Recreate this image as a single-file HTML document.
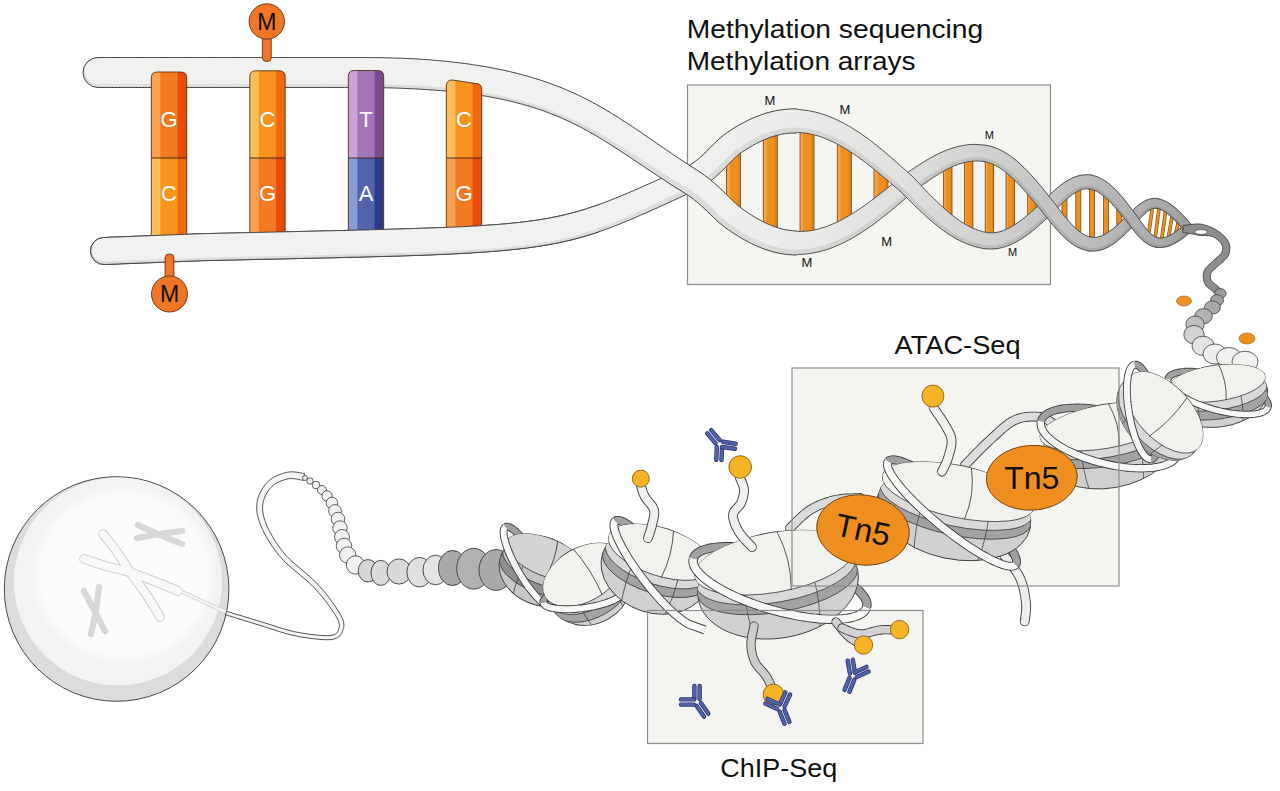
<!DOCTYPE html><html><head><meta charset="utf-8"><style>html,body{margin:0;padding:0;background:#fff;overflow:hidden}svg{display:block}</style></head><body><svg width="1280" height="791" viewBox="0 0 1280 791"><defs><linearGradient id="hg" gradientUnits="userSpaceOnUse" x1="680" y1="0" x2="1200" y2="0"><stop offset="0.000" stop-color="#f1f1ef"/><stop offset="0.231" stop-color="#ebebe9"/><stop offset="0.423" stop-color="#e0e0de"/><stop offset="0.596" stop-color="#d0d0cf"/><stop offset="0.788" stop-color="#bcbcbc"/><stop offset="0.923" stop-color="#aaaaaa"/><stop offset="1.000" stop-color="#9a9a9a"/></linearGradient><linearGradient id="hgd" gradientUnits="userSpaceOnUse" x1="680" y1="0" x2="1200" y2="0"><stop offset="0.000" stop-color="#dddddb"/><stop offset="0.231" stop-color="#d8d8d6"/><stop offset="0.423" stop-color="#cdcdcb"/><stop offset="0.596" stop-color="#bdbdbc"/><stop offset="0.788" stop-color="#aaaaaa"/><stop offset="0.923" stop-color="#999999"/><stop offset="1.000" stop-color="#8c8c8c"/></linearGradient><clipPath id="clipL"><rect x="0" y="0" width="600" height="400"/></clipPath><clipPath id="bc151"><path d="M151.3,245 L151.3,78 Q151.3,72 157.3,72 L180.70000000000002,72 Q186.70000000000002,72 186.70000000000002,78 L186.70000000000002,245 Z"/></clipPath><clipPath id="bc249"><path d="M249.8,245 L249.8,76.8 Q249.8,70.8 255.8,70.8 L279.2,70.8 Q285.2,70.8 285.2,76.8 L285.2,245 Z"/></clipPath><clipPath id="bc348"><path d="M348.3,245 L348.3,76.5 Q348.3,70.5 354.3,70.5 L377.7,70.5 Q383.7,70.5 383.7,76.5 L383.7,245 Z"/></clipPath><clipPath id="bc446"><path d="M446.3,240 L446.3,86 Q446.3,80 452.3,80 L475.7,83.5 Q481.7,83.5 481.7,89.5 L481.7,240 Z"/></clipPath><radialGradient id="cin"><stop offset="0" stop-color="#fcfcfc"/><stop offset="0.88" stop-color="#fbfbfb"/><stop offset="1" stop-color="#fbfbfb" stop-opacity="0"/></radialGradient><clipPath id="nc8"><ellipse cx="0" cy="0" rx="43" ry="34.0"/><ellipse cx="0" cy="-15.0" rx="43" ry="19"/></clipPath><clipPath id="nc9"><ellipse cx="0" cy="0" rx="44" ry="39.0"/><ellipse cx="0" cy="-12.0" rx="44" ry="27"/></clipPath><clipPath id="nc10"><ellipse cx="0" cy="0" rx="55" ry="43.0"/><ellipse cx="0" cy="-19.0" rx="55" ry="24"/></clipPath><clipPath id="nc11"><ellipse cx="0" cy="0" rx="50" ry="31.0"/><ellipse cx="0" cy="-13.0" rx="50" ry="18"/></clipPath><clipPath id="nc12"><ellipse cx="0" cy="0" rx="67" ry="42.0"/><ellipse cx="0" cy="-20.0" rx="67" ry="22"/></clipPath><clipPath id="nc13"><ellipse cx="0" cy="0" rx="50" ry="34.0"/><ellipse cx="0" cy="-7.0" rx="50" ry="27"/></clipPath><clipPath id="nc14"><ellipse cx="0" cy="0" rx="78" ry="47.0"/><ellipse cx="0" cy="-21.0" rx="78" ry="26"/></clipPath><clipPath id="nc15"><ellipse cx="0" cy="0" rx="81" ry="53.0"/><ellipse cx="0" cy="-23.0" rx="81" ry="30"/></clipPath></defs><rect width="1280" height="791" fill="#fff"/><rect x="687.5" y="85" width="363" height="199.5" fill="#f4f4f1" stroke="#8c8c8c" stroke-width="1.2"/><rect x="726.5" y="143.1" width="14" height="75.0" fill="#ef8f20"/><rect x="726.5" y="143.1" width="3.1" height="75.0" fill="#f6a548"/><rect x="737.7" y="143.1" width="2.8" height="75.0" fill="#e2801b"/><rect x="726.5" y="143.1" width="14" height="75.0" fill="none" stroke="#7a4a12" stroke-width="0.8"/><rect x="763.3" y="124.6" width="14" height="113.6" fill="#ef8f20"/><rect x="763.3" y="124.6" width="3.1" height="113.6" fill="#f6a548"/><rect x="774.5" y="124.6" width="2.8" height="113.6" fill="#e2801b"/><rect x="763.3" y="124.6" width="14" height="113.6" fill="none" stroke="#7a4a12" stroke-width="0.8"/><rect x="800.0" y="122.0" width="14" height="120.5" fill="#ef8f20"/><rect x="800.0" y="122.0" width="3.1" height="120.5" fill="#f6a548"/><rect x="811.2" y="122.0" width="2.8" height="120.5" fill="#e2801b"/><rect x="800.0" y="122.0" width="14" height="120.5" fill="none" stroke="#7a4a12" stroke-width="0.8"/><rect x="837.3" y="135.8" width="14" height="94.6" fill="#ef8f20"/><rect x="837.3" y="135.8" width="3.1" height="94.6" fill="#f6a548"/><rect x="848.5" y="135.8" width="2.8" height="94.6" fill="#e2801b"/><rect x="837.3" y="135.8" width="14" height="94.6" fill="none" stroke="#7a4a12" stroke-width="0.8"/><rect x="874.0" y="162.0" width="14" height="43.9" fill="#ef8f20"/><rect x="874.0" y="162.0" width="3.1" height="43.9" fill="#f6a548"/><rect x="885.2" y="162.0" width="2.8" height="43.9" fill="#e2801b"/><rect x="874.0" y="162.0" width="14" height="43.9" fill="none" stroke="#7a4a12" stroke-width="0.8"/><rect x="943.5" y="159.2" width="8.5" height="63.6" fill="#ef8f20"/><rect x="943.5" y="159.2" width="1.9" height="63.6" fill="#f6a548"/><rect x="950.3" y="159.2" width="1.7" height="63.6" fill="#e2801b"/><rect x="943.5" y="159.2" width="8.5" height="63.6" fill="none" stroke="#7a4a12" stroke-width="0.8"/><rect x="964.4" y="153.2" width="8.5" height="82.3" fill="#ef8f20"/><rect x="964.4" y="153.2" width="1.9" height="82.3" fill="#f6a548"/><rect x="971.2" y="153.2" width="1.7" height="82.3" fill="#e2801b"/><rect x="964.4" y="153.2" width="8.5" height="82.3" fill="none" stroke="#7a4a12" stroke-width="0.8"/><rect x="985.2" y="154.4" width="8.5" height="86.5" fill="#ef8f20"/><rect x="985.2" y="154.4" width="1.9" height="86.5" fill="#f6a548"/><rect x="992.0" y="154.4" width="1.7" height="86.5" fill="#e2801b"/><rect x="985.2" y="154.4" width="8.5" height="86.5" fill="none" stroke="#7a4a12" stroke-width="0.8"/><rect x="1006.0" y="165.8" width="8.5" height="70.3" fill="#ef8f20"/><rect x="1006.0" y="165.8" width="1.9" height="70.3" fill="#f6a548"/><rect x="1012.8" y="165.8" width="1.7" height="70.3" fill="#e2801b"/><rect x="1006.0" y="165.8" width="8.5" height="70.3" fill="none" stroke="#7a4a12" stroke-width="0.8"/><rect x="1027.7" y="187.5" width="8.5" height="33.9" fill="#ef8f20"/><rect x="1027.7" y="187.5" width="1.9" height="33.9" fill="#f6a548"/><rect x="1034.5" y="187.5" width="1.7" height="33.9" fill="#e2801b"/><rect x="1027.7" y="187.5" width="8.5" height="33.9" fill="none" stroke="#7a4a12" stroke-width="0.8"/><rect x="1062.0" y="191.4" width="5" height="35.9" fill="#ef8f20"/><rect x="1062.0" y="191.4" width="5" height="35.9" fill="none" stroke="#7a4a12" stroke-width="0.8"/><rect x="1075.8" y="183.2" width="5" height="56.2" fill="#ef8f20"/><rect x="1075.8" y="183.2" width="5" height="56.2" fill="none" stroke="#7a4a12" stroke-width="0.8"/><rect x="1089.5" y="182.4" width="5" height="61.8" fill="#ef8f20"/><rect x="1089.5" y="182.4" width="5" height="61.8" fill="none" stroke="#7a4a12" stroke-width="0.8"/><rect x="1103.5" y="189.7" width="5" height="51.2" fill="#ef8f20"/><rect x="1103.5" y="189.7" width="5" height="51.2" fill="none" stroke="#7a4a12" stroke-width="0.8"/><rect x="1116.8" y="203.0" width="5" height="28.4" fill="#ef8f20"/><rect x="1116.8" y="203.0" width="5" height="28.4" fill="none" stroke="#7a4a12" stroke-width="0.8"/><line x1="1148.0" y1="238.0" x2="1153.0" y2="203.5" stroke="#7a4a12" stroke-width="3.6"/><line x1="1148.0" y1="238.0" x2="1153.0" y2="203.5" stroke="#ef8f20" stroke-width="2.4"/><line x1="1154.6" y1="241.9" x2="1159.6" y2="204.1" stroke="#7a4a12" stroke-width="3.6"/><line x1="1154.6" y1="241.9" x2="1159.6" y2="204.1" stroke="#ef8f20" stroke-width="2.4"/><line x1="1161.2" y1="242.8" x2="1166.2" y2="207.1" stroke="#7a4a12" stroke-width="3.6"/><line x1="1161.2" y1="242.8" x2="1166.2" y2="207.1" stroke="#ef8f20" stroke-width="2.4"/><line x1="1167.8" y1="241.4" x2="1172.8" y2="212.0" stroke="#7a4a12" stroke-width="3.6"/><line x1="1167.8" y1="241.4" x2="1172.8" y2="212.0" stroke="#ef8f20" stroke-width="2.4"/><line x1="1174.4" y1="238.2" x2="1179.4" y2="218.4" stroke="#7a4a12" stroke-width="3.6"/><line x1="1174.4" y1="238.2" x2="1179.4" y2="218.4" stroke="#ef8f20" stroke-width="2.4"/><path d="M795.1,230.9 L796.5,231.0 L797.8,231.5 L799.1,231.5 L800.4,231.5 L801.7,231.5 L803.0,231.4 L804.3,231.3 L805.6,231.2 L806.9,231.1 L808.2,231.0 L809.6,230.8 L810.9,230.6 L812.2,230.4 L813.5,230.1 L814.9,229.8 L816.2,229.5 L817.5,229.2 L818.9,228.9 L820.2,228.5 L821.6,228.1 L822.9,227.7 L824.3,227.2 L825.7,226.8 L827.0,226.3 L828.4,225.8 L829.8,225.2 L831.2,224.7 L832.6,224.1 L834.0,223.5 L835.4,222.8 L836.8,222.2 L838.2,221.5 L839.6,220.8 L841.0,220.1 L842.4,219.3 L843.8,218.6 L845.3,217.8 L846.7,217.0 L848.1,216.2 L849.6,215.3 L851.0,214.4 L852.5,213.6 L853.9,212.6 L855.4,211.7 L856.8,210.8 L858.3,209.8 L859.8,208.8 L861.2,207.8 L862.7,206.8 L864.2,205.8 L865.6,204.8 L867.1,203.7 L868.6,202.6 L870.1,201.5 L871.6,200.4 L873.1,199.3 L874.5,198.2 L876.0,197.1 L877.5,195.9 L879.0,194.8 L880.5,193.6 L882.0,192.4 L883.5,191.2 L885.0,190.0 L886.5,188.8 L888.1,187.6 L889.6,186.4 L891.1,185.2 L892.6,184.0 L894.1,182.7 L895.6,181.5 L897.1,180.3 L898.7,179.0 L900.3,177.6 L902.2,176.3 L903.8,175.1 L905.4,174.1 L906.9,173.0 L908.4,171.9 L910.0,170.9 L911.5,169.8 L913.1,168.8 L914.6,167.7 L916.2,166.7 L917.8,165.7 L919.3,164.7 L920.9,163.7 L922.5,162.7 L924.1,161.7 L925.6,160.7 L927.2,159.8 L928.8,158.9 L930.4,157.9 L932.0,157.1 L933.6,156.2 L935.3,155.3 L936.9,154.5 L938.5,153.7 L940.1,152.9 L941.8,152.2 L943.4,151.5 L945.1,150.8 L946.7,150.1 L948.4,149.5 L950.1,148.9 L951.7,148.3 L953.4,147.8 L955.1,147.3 L956.8,146.8 L958.5,146.4 L960.2,146.0 L961.9,145.7 L963.6,145.4 L965.3,145.1 L967.0,144.9 L968.7,144.7 L970.4,144.6 L972.2,144.5 L973.9,144.4 L975.6,144.4 L977.3,144.5 L979.1,144.6 L980.8,144.7 L982.5,144.9 L984.2,145.1 L986.0,145.3 L987.6,145.6 L984.8,161.7 L983.4,161.5 L982.1,161.3 L980.9,161.2 L979.6,161.1 L978.3,161.0 L977.0,161.0 L975.7,161.0 L974.4,161.1 L973.1,161.1 L971.8,161.3 L970.5,161.4 L969.2,161.6 L967.9,161.8 L966.6,162.1 L965.3,162.3 L964.0,162.7 L962.7,163.0 L961.4,163.4 L960.0,163.8 L958.7,164.2 L957.4,164.7 L956.0,165.2 L954.7,165.7 L953.3,166.3 L952.0,166.9 L950.6,167.5 L949.2,168.2 L947.9,168.9 L946.5,169.6 L945.1,170.3 L943.7,171.1 L942.3,171.9 L940.9,172.7 L939.5,173.5 L938.1,174.4 L936.7,175.3 L935.2,176.2 L933.8,177.1 L932.4,178.1 L930.9,179.0 L929.5,180.0 L928.1,181.0 L926.6,182.0 L925.1,183.1 L923.7,184.1 L922.2,185.1 L920.8,186.2 L919.3,187.3 L917.8,188.4 L916.3,189.4 L914.9,190.5 L913.5,191.5 L912.3,192.5 L911.0,193.7 L909.5,194.9 L908.0,196.2 L906.5,197.5 L905.0,198.8 L903.5,200.1 L902.0,201.4 L900.5,202.7 L899.0,203.9 L897.5,205.2 L896.0,206.5 L894.4,207.7 L892.9,209.0 L891.4,210.2 L889.9,211.5 L888.4,212.7 L886.9,214.0 L885.3,215.2 L883.8,216.4 L882.3,217.6 L880.7,218.8 L879.2,220.0 L877.7,221.1 L876.1,222.3 L874.6,223.4 L873.1,224.6 L871.5,225.7 L870.0,226.8 L868.4,227.9 L866.8,229.0 L865.3,230.0 L863.7,231.1 L862.2,232.1 L860.6,233.1 L859.0,234.1 L857.4,235.1 L855.8,236.0 L854.3,237.0 L852.7,237.9 L851.1,238.8 L849.5,239.7 L847.9,240.5 L846.3,241.4 L844.7,242.2 L843.0,243.0 L841.4,243.8 L839.8,244.5 L838.2,245.2 L836.5,245.9 L834.9,246.6 L833.3,247.3 L831.6,247.9 L830.0,248.5 L828.3,249.1 L826.6,249.6 L825.0,250.1 L823.3,250.6 L821.6,251.1 L820.0,251.5 L818.3,251.9 L816.6,252.3 L814.9,252.7 L813.2,253.0 L811.5,253.3 L809.8,253.5 L808.1,253.8 L806.4,254.0 L804.7,254.1 L803.0,254.3 L801.2,254.4 L799.5,254.4 L797.8,254.5 L796.1,255.0 L794.5,254.9 Z" fill="url(#hgd)"/><path d="M795.1,230.9 L796.5,231.0 L797.8,231.5 L799.1,231.5 L800.4,231.5 L801.7,231.5 L803.0,231.4 L804.3,231.3 L805.6,231.2 L806.9,231.1 L808.2,231.0 L809.6,230.8 L810.9,230.6 L812.2,230.4 L813.5,230.1 L814.9,229.8 L816.2,229.5 L817.5,229.2 L818.9,228.9 L820.2,228.5 L821.6,228.1 L822.9,227.7 L824.3,227.2 L825.7,226.8 L827.0,226.3 L828.4,225.8 L829.8,225.2 L831.2,224.7 L832.6,224.1 L834.0,223.5 L835.4,222.8 L836.8,222.2 L838.2,221.5 L839.6,220.8 L841.0,220.1 L842.4,219.3 L843.8,218.6 L845.3,217.8 L846.7,217.0 L848.1,216.2 L849.6,215.3 L851.0,214.4 L852.5,213.6 L853.9,212.6 L855.4,211.7 L856.8,210.8 L858.3,209.8 L859.8,208.8 L861.2,207.8 L862.7,206.8 L864.2,205.8 L865.6,204.8 L867.1,203.7 L868.6,202.6 L870.1,201.5 L871.6,200.4 L873.1,199.3 L874.5,198.2 L876.0,197.1 L877.5,195.9 L879.0,194.8 L880.5,193.6 L882.0,192.4 L883.5,191.2 L885.0,190.0 L886.5,188.8 L888.1,187.6 L889.6,186.4 L891.1,185.2 L892.6,184.0 L894.1,182.7 L895.6,181.5 L897.1,180.3 L898.7,179.0 L900.3,177.6 L902.2,176.3 L903.8,175.1 L905.4,174.1 L906.9,173.0 L908.4,171.9 L910.0,170.9 L911.5,169.8 L913.1,168.8 L914.6,167.7 L916.2,166.7 L917.8,165.7 L919.3,164.7 L920.9,163.7 L922.5,162.7 L924.1,161.7 L925.6,160.7 L927.2,159.8 L928.8,158.9 L930.4,157.9 L932.0,157.1 L933.6,156.2 L935.3,155.3 L936.9,154.5 L938.5,153.7 L940.1,152.9 L941.8,152.2 L943.4,151.5 L945.1,150.8 L946.7,150.1 L948.4,149.5 L950.1,148.9 L951.7,148.3 L953.4,147.8 L955.1,147.3 L956.8,146.8 L958.5,146.4 L960.2,146.0 L961.9,145.7 L963.6,145.4 L965.3,145.1 L967.0,144.9 L968.7,144.7 L970.4,144.6 L972.2,144.5 L973.9,144.4 L975.6,144.4 L977.3,144.5 L979.1,144.6 L980.8,144.7 L982.5,144.9 L984.2,145.1 L986.0,145.3 L987.6,145.6 L985.4,158.2 L984.0,157.9 L982.6,157.7 L981.2,157.6 L979.8,157.5 L978.4,157.4 L977.1,157.4 L975.7,157.4 L974.3,157.4 L972.9,157.5 L971.5,157.6 L970.1,157.7 L968.7,157.9 L967.3,158.1 L966.0,158.4 L964.6,158.7 L963.2,159.0 L961.8,159.3 L960.4,159.7 L959.0,160.2 L957.5,160.6 L956.1,161.1 L954.7,161.6 L953.3,162.2 L951.9,162.8 L950.5,163.4 L949.0,164.0 L947.6,164.7 L946.2,165.4 L944.7,166.1 L943.3,166.8 L941.8,167.6 L940.4,168.4 L938.9,169.3 L937.5,170.1 L936.0,171.0 L934.6,171.9 L933.1,172.8 L931.7,173.7 L930.2,174.7 L928.7,175.6 L927.3,176.6 L925.8,177.6 L924.3,178.7 L922.8,179.7 L921.4,180.7 L919.9,181.8 L918.4,182.8 L916.9,183.9 L915.4,185.0 L913.9,186.1 L912.4,187.1 L911.0,188.2 L909.7,189.2 L908.3,190.4 L906.8,191.7 L905.3,193.0 L903.8,194.3 L902.3,195.5 L900.8,196.8 L899.3,198.1 L897.7,199.4 L896.2,200.6 L894.7,201.9 L893.2,203.1 L891.7,204.4 L890.2,205.6 L888.7,206.8 L887.2,208.1 L885.7,209.3 L884.2,210.5 L882.6,211.7 L881.1,212.9 L879.6,214.1 L878.1,215.2 L876.6,216.4 L875.0,217.5 L873.5,218.7 L872.0,219.8 L870.5,220.9 L868.9,222.0 L867.4,223.1 L865.9,224.1 L864.3,225.2 L862.8,226.2 L861.2,227.2 L859.7,228.2 L858.2,229.2 L856.6,230.2 L855.1,231.1 L853.5,232.0 L852.0,232.9 L850.4,233.8 L848.9,234.7 L847.3,235.5 L845.7,236.3 L844.2,237.2 L842.6,237.9 L841.0,238.7 L839.5,239.4 L837.9,240.1 L836.3,240.8 L834.8,241.5 L833.2,242.1 L831.6,242.8 L830.0,243.3 L828.4,243.9 L826.8,244.4 L825.2,245.0 L823.6,245.5 L822.0,245.9 L820.4,246.3 L818.8,246.8 L817.2,247.1 L815.6,247.5 L814.0,247.8 L812.4,248.1 L810.8,248.4 L809.2,248.6 L807.5,248.8 L805.9,249.0 L804.3,249.1 L802.7,249.2 L801.1,249.3 L799.4,249.4 L797.8,249.4 L796.2,249.7 L794.6,249.7 Z" fill="url(#hg)"/><path d="M795.1,230.9 L796.5,231.0 L797.8,231.5 L799.1,231.5 L800.4,231.5 L801.7,231.5 L803.0,231.4 L804.3,231.3 L805.6,231.2 L806.9,231.1 L808.2,231.0 L809.6,230.8 L810.9,230.6 L812.2,230.4 L813.5,230.1 L814.9,229.8 L816.2,229.5 L817.5,229.2 L818.9,228.9 L820.2,228.5 L821.6,228.1 L822.9,227.7 L824.3,227.2 L825.7,226.8 L827.0,226.3 L828.4,225.8 L829.8,225.2 L831.2,224.7 L832.6,224.1 L834.0,223.5 L835.4,222.8 L836.8,222.2 L838.2,221.5 L839.6,220.8 L841.0,220.1 L842.4,219.3 L843.8,218.6 L845.3,217.8 L846.7,217.0 L848.1,216.2 L849.6,215.3 L851.0,214.4 L852.5,213.6 L853.9,212.6 L855.4,211.7 L856.8,210.8 L858.3,209.8 L859.8,208.8 L861.2,207.8 L862.7,206.8 L864.2,205.8 L865.6,204.8 L867.1,203.7 L868.6,202.6 L870.1,201.5 L871.6,200.4 L873.1,199.3 L874.5,198.2 L876.0,197.1 L877.5,195.9 L879.0,194.8 L880.5,193.6 L882.0,192.4 L883.5,191.2 L885.0,190.0 L886.5,188.8 L888.1,187.6 L889.6,186.4 L891.1,185.2 L892.6,184.0 L894.1,182.7 L895.6,181.5 L897.1,180.3 L898.7,179.0 L900.3,177.6 L902.2,176.3 L903.8,175.1 L905.4,174.1 L906.9,173.0 L908.4,171.9 L910.0,170.9 L911.5,169.8 L913.1,168.8 L914.6,167.7 L916.2,166.7 L917.8,165.7 L919.3,164.7 L920.9,163.7 L922.5,162.7 L924.1,161.7 L925.6,160.7 L927.2,159.8 L928.8,158.9 L930.4,157.9 L932.0,157.1 L933.6,156.2 L935.3,155.3 L936.9,154.5 L938.5,153.7 L940.1,152.9 L941.8,152.2 L943.4,151.5 L945.1,150.8 L946.7,150.1 L948.4,149.5 L950.1,148.9 L951.7,148.3 L953.4,147.8 L955.1,147.3 L956.8,146.8 L958.5,146.4 L960.2,146.0 L961.9,145.7 L963.6,145.4 L965.3,145.1 L967.0,144.9 L968.7,144.7 L970.4,144.6 L972.2,144.5 L973.9,144.4 L975.6,144.4 L977.3,144.5 L979.1,144.6 L980.8,144.7 L982.5,144.9 L984.2,145.1 L986.0,145.3 L987.6,145.6" fill="none" stroke="#3d3d3d" stroke-width="0.9"/><path d="M794.5,254.9 L796.1,255.0 L797.8,254.5 L799.5,254.4 L801.2,254.4 L803.0,254.3 L804.7,254.1 L806.4,254.0 L808.1,253.8 L809.8,253.5 L811.5,253.3 L813.2,253.0 L814.9,252.7 L816.6,252.3 L818.3,251.9 L820.0,251.5 L821.6,251.1 L823.3,250.6 L825.0,250.1 L826.6,249.6 L828.3,249.1 L830.0,248.5 L831.6,247.9 L833.3,247.3 L834.9,246.6 L836.5,245.9 L838.2,245.2 L839.8,244.5 L841.4,243.8 L843.0,243.0 L844.7,242.2 L846.3,241.4 L847.9,240.5 L849.5,239.7 L851.1,238.8 L852.7,237.9 L854.3,237.0 L855.8,236.0 L857.4,235.1 L859.0,234.1 L860.6,233.1 L862.2,232.1 L863.7,231.1 L865.3,230.0 L866.8,229.0 L868.4,227.9 L870.0,226.8 L871.5,225.7 L873.1,224.6 L874.6,223.4 L876.1,222.3 L877.7,221.1 L879.2,220.0 L880.7,218.8 L882.3,217.6 L883.8,216.4 L885.3,215.2 L886.9,214.0 L888.4,212.7 L889.9,211.5 L891.4,210.2 L892.9,209.0 L894.4,207.7 L896.0,206.5 L897.5,205.2 L899.0,203.9 L900.5,202.7 L902.0,201.4 L903.5,200.1 L905.0,198.8 L906.5,197.5 L908.0,196.2 L909.5,194.9 L911.0,193.7 L912.3,192.5 L913.5,191.5 L914.9,190.5 L916.3,189.4 L917.8,188.4 L919.3,187.3 L920.8,186.2 L922.2,185.1 L923.7,184.1 L925.1,183.1 L926.6,182.0 L928.1,181.0 L929.5,180.0 L930.9,179.0 L932.4,178.1 L933.8,177.1 L935.2,176.2 L936.7,175.3 L938.1,174.4 L939.5,173.5 L940.9,172.7 L942.3,171.9 L943.7,171.1 L945.1,170.3 L946.5,169.6 L947.9,168.9 L949.2,168.2 L950.6,167.5 L952.0,166.9 L953.3,166.3 L954.7,165.7 L956.0,165.2 L957.4,164.7 L958.7,164.2 L960.0,163.8 L961.4,163.4 L962.7,163.0 L964.0,162.7 L965.3,162.3 L966.6,162.1 L967.9,161.8 L969.2,161.6 L970.5,161.4 L971.8,161.3 L973.1,161.1 L974.4,161.1 L975.7,161.0 L977.0,161.0 L978.3,161.0 L979.6,161.1 L980.9,161.2 L982.1,161.3 L983.4,161.5 L984.8,161.7" fill="none" stroke="#3d3d3d" stroke-width="0.9"/><path d="M985.1,232.2 L986.5,232.4 L987.7,232.6 L988.9,232.7 L990.1,232.8 L991.3,232.8 L992.5,232.8 L993.7,232.7 L994.9,232.6 L996.1,232.4 L997.3,232.2 L998.5,232.0 L999.8,231.7 L1001.0,231.3 L1002.3,230.9 L1003.6,230.4 L1004.9,229.9 L1006.2,229.3 L1007.5,228.7 L1008.9,228.0 L1010.2,227.3 L1011.6,226.5 L1013.0,225.7 L1014.4,224.9 L1015.8,224.0 L1017.2,223.0 L1018.6,222.0 L1020.0,221.0 L1021.5,219.9 L1022.9,218.8 L1024.4,217.7 L1025.8,216.5 L1027.3,215.3 L1028.8,214.1 L1030.2,212.8 L1031.7,211.6 L1033.2,210.3 L1034.7,208.9 L1036.2,207.6 L1037.7,206.2 L1039.2,204.9 L1040.7,203.5 L1042.2,202.2 L1043.6,200.9 L1045.1,199.4 L1046.6,197.8 L1048.2,196.3 L1049.7,194.8 L1051.3,193.3 L1052.9,191.8 L1054.5,190.4 L1056.1,188.9 L1057.7,187.5 L1059.4,186.2 L1061.0,184.9 L1062.7,183.7 L1064.4,182.5 L1066.1,181.3 L1067.8,180.3 L1069.6,179.3 L1071.4,178.4 L1073.2,177.6 L1075.1,176.8 L1076.9,176.2 L1078.9,175.7 L1080.8,175.3 L1082.7,175.0 L1084.7,174.8 L1086.7,174.7 L1088.6,174.8 L1090.6,175.0 L1092.3,175.3 L1090.1,189.1 L1088.8,188.9 L1087.7,188.8 L1086.7,188.8 L1085.6,188.9 L1084.6,189.0 L1083.5,189.2 L1082.4,189.4 L1081.2,189.8 L1080.1,190.2 L1078.9,190.7 L1077.7,191.3 L1076.5,191.9 L1075.2,192.7 L1073.9,193.5 L1072.6,194.4 L1071.3,195.3 L1069.9,196.4 L1068.6,197.5 L1067.2,198.7 L1065.8,199.9 L1064.4,201.2 L1063.0,202.5 L1061.5,203.9 L1060.1,205.4 L1058.6,206.8 L1057.1,208.3 L1055.6,209.8 L1054.1,211.4 L1052.5,213.0 L1050.9,214.5 L1049.4,215.9 L1047.9,217.3 L1046.4,218.8 L1044.8,220.2 L1043.3,221.6 L1041.8,222.9 L1040.2,224.3 L1038.7,225.7 L1037.1,227.0 L1035.6,228.3 L1034.0,229.6 L1032.4,230.9 L1030.9,232.2 L1029.3,233.4 L1027.7,234.6 L1026.1,235.7 L1024.4,236.9 L1022.8,238.0 L1021.2,239.0 L1019.5,240.0 L1017.9,241.0 L1016.2,241.9 L1014.5,242.8 L1012.8,243.6 L1011.1,244.4 L1009.4,245.2 L1007.7,245.8 L1005.9,246.4 L1004.1,247.0 L1002.4,247.5 L1000.6,247.9 L998.8,248.3 L997.0,248.6 L995.1,248.8 L993.3,248.9 L991.5,249.0 L989.6,249.0 L987.8,248.9 L985.9,248.8 L984.1,248.6 L982.5,248.3 Z" fill="url(#hgd)"/><path d="M985.1,232.2 L986.5,232.4 L987.7,232.6 L988.9,232.7 L990.1,232.8 L991.3,232.8 L992.5,232.8 L993.7,232.7 L994.9,232.6 L996.1,232.4 L997.3,232.2 L998.5,232.0 L999.8,231.7 L1001.0,231.3 L1002.3,230.9 L1003.6,230.4 L1004.9,229.9 L1006.2,229.3 L1007.5,228.7 L1008.9,228.0 L1010.2,227.3 L1011.6,226.5 L1013.0,225.7 L1014.4,224.9 L1015.8,224.0 L1017.2,223.0 L1018.6,222.0 L1020.0,221.0 L1021.5,219.9 L1022.9,218.8 L1024.4,217.7 L1025.8,216.5 L1027.3,215.3 L1028.8,214.1 L1030.2,212.8 L1031.7,211.6 L1033.2,210.3 L1034.7,208.9 L1036.2,207.6 L1037.7,206.2 L1039.2,204.9 L1040.7,203.5 L1042.2,202.2 L1043.6,200.9 L1045.1,199.4 L1046.6,197.8 L1048.2,196.3 L1049.7,194.8 L1051.3,193.3 L1052.9,191.8 L1054.5,190.4 L1056.1,188.9 L1057.7,187.5 L1059.4,186.2 L1061.0,184.9 L1062.7,183.7 L1064.4,182.5 L1066.1,181.3 L1067.8,180.3 L1069.6,179.3 L1071.4,178.4 L1073.2,177.6 L1075.1,176.8 L1076.9,176.2 L1078.9,175.7 L1080.8,175.3 L1082.7,175.0 L1084.7,174.8 L1086.7,174.7 L1088.6,174.8 L1090.6,175.0 L1092.3,175.3 L1090.6,186.1 L1089.2,185.8 L1087.9,185.7 L1086.7,185.7 L1085.4,185.8 L1084.1,185.9 L1082.9,186.1 L1081.6,186.4 L1080.3,186.8 L1079.0,187.2 L1077.7,187.8 L1076.3,188.4 L1075.0,189.1 L1073.6,189.9 L1072.2,190.8 L1070.8,191.7 L1069.4,192.8 L1068.0,193.9 L1066.6,195.0 L1065.1,196.2 L1063.7,197.5 L1062.2,198.8 L1060.7,200.2 L1059.3,201.6 L1057.8,203.0 L1056.3,204.5 L1054.8,206.0 L1053.3,207.5 L1051.8,209.1 L1050.2,210.7 L1048.7,212.1 L1047.2,213.5 L1045.6,214.9 L1044.1,216.3 L1042.6,217.7 L1041.1,219.1 L1039.6,220.4 L1038.0,221.8 L1036.5,223.1 L1035.0,224.4 L1033.4,225.7 L1031.9,227.0 L1030.3,228.3 L1028.8,229.5 L1027.2,230.7 L1025.7,231.8 L1024.1,232.9 L1022.5,234.0 L1021.0,235.1 L1019.4,236.1 L1017.8,237.1 L1016.2,238.0 L1014.6,238.9 L1013.0,239.7 L1011.4,240.5 L1009.7,241.2 L1008.1,241.9 L1006.5,242.5 L1004.8,243.1 L1003.2,243.6 L1001.5,244.1 L999.8,244.5 L998.2,244.8 L996.5,245.1 L994.8,245.3 L993.1,245.4 L991.4,245.4 L989.7,245.4 L988.0,245.4 L986.3,245.2 L984.6,245.0 L983.0,244.8 Z" fill="url(#hg)"/><path d="M985.1,232.2 L986.5,232.4 L987.7,232.6 L988.9,232.7 L990.1,232.8 L991.3,232.8 L992.5,232.8 L993.7,232.7 L994.9,232.6 L996.1,232.4 L997.3,232.2 L998.5,232.0 L999.8,231.7 L1001.0,231.3 L1002.3,230.9 L1003.6,230.4 L1004.9,229.9 L1006.2,229.3 L1007.5,228.7 L1008.9,228.0 L1010.2,227.3 L1011.6,226.5 L1013.0,225.7 L1014.4,224.9 L1015.8,224.0 L1017.2,223.0 L1018.6,222.0 L1020.0,221.0 L1021.5,219.9 L1022.9,218.8 L1024.4,217.7 L1025.8,216.5 L1027.3,215.3 L1028.8,214.1 L1030.2,212.8 L1031.7,211.6 L1033.2,210.3 L1034.7,208.9 L1036.2,207.6 L1037.7,206.2 L1039.2,204.9 L1040.7,203.5 L1042.2,202.2 L1043.6,200.9 L1045.1,199.4 L1046.6,197.8 L1048.2,196.3 L1049.7,194.8 L1051.3,193.3 L1052.9,191.8 L1054.5,190.4 L1056.1,188.9 L1057.7,187.5 L1059.4,186.2 L1061.0,184.9 L1062.7,183.7 L1064.4,182.5 L1066.1,181.3 L1067.8,180.3 L1069.6,179.3 L1071.4,178.4 L1073.2,177.6 L1075.1,176.8 L1076.9,176.2 L1078.9,175.7 L1080.8,175.3 L1082.7,175.0 L1084.7,174.8 L1086.7,174.7 L1088.6,174.8 L1090.6,175.0 L1092.3,175.3" fill="none" stroke="#3d3d3d" stroke-width="0.9"/><path d="M982.5,248.3 L984.1,248.6 L985.9,248.8 L987.8,248.9 L989.6,249.0 L991.5,249.0 L993.3,248.9 L995.1,248.8 L997.0,248.6 L998.8,248.3 L1000.6,247.9 L1002.4,247.5 L1004.1,247.0 L1005.9,246.4 L1007.7,245.8 L1009.4,245.2 L1011.1,244.4 L1012.8,243.6 L1014.5,242.8 L1016.2,241.9 L1017.9,241.0 L1019.5,240.0 L1021.2,239.0 L1022.8,238.0 L1024.4,236.9 L1026.1,235.7 L1027.7,234.6 L1029.3,233.4 L1030.9,232.2 L1032.4,230.9 L1034.0,229.6 L1035.6,228.3 L1037.1,227.0 L1038.7,225.7 L1040.2,224.3 L1041.8,222.9 L1043.3,221.6 L1044.8,220.2 L1046.4,218.8 L1047.9,217.3 L1049.4,215.9 L1050.9,214.5 L1052.5,213.0 L1054.1,211.4 L1055.6,209.8 L1057.1,208.3 L1058.6,206.8 L1060.1,205.4 L1061.5,203.9 L1063.0,202.5 L1064.4,201.2 L1065.8,199.9 L1067.2,198.7 L1068.6,197.5 L1069.9,196.4 L1071.3,195.3 L1072.6,194.4 L1073.9,193.5 L1075.2,192.7 L1076.5,191.9 L1077.7,191.3 L1078.9,190.7 L1080.1,190.2 L1081.2,189.8 L1082.4,189.4 L1083.5,189.2 L1084.6,189.0 L1085.6,188.9 L1086.7,188.8 L1087.7,188.8 L1088.8,188.9 L1090.1,189.1" fill="none" stroke="#3d3d3d" stroke-width="0.9"/><path d="M1089.9,236.9 L1091.2,237.1 L1092.3,237.3 L1093.3,237.3 L1094.4,237.4 L1095.5,237.3 L1096.6,237.2 L1097.7,237.0 L1098.9,236.7 L1100.1,236.3 L1101.3,235.9 L1102.5,235.4 L1103.8,234.7 L1105.1,234.1 L1106.5,233.3 L1107.8,232.4 L1109.2,231.5 L1110.6,230.5 L1112.1,229.4 L1113.5,228.3 L1115.0,227.1 L1116.4,225.8 L1117.9,224.5 L1119.4,223.2 L1120.9,221.8 L1122.4,220.4 L1123.9,218.9 L1125.5,217.5 L1127.0,216.0 L1128.5,214.5 L1130.0,213.0 L1131.6,211.4 L1133.2,209.8 L1134.8,208.3 L1136.5,206.8 L1138.2,205.4 L1139.9,204.1 L1141.6,202.8 L1143.4,201.7 L1145.3,200.7 L1147.2,199.9 L1149.1,199.2 L1151.2,198.7 L1153.2,198.5 L1155.3,198.4 L1157.3,198.7 L1159.1,199.0 L1157.3,208.5 L1156.1,208.3 L1155.1,208.3 L1154.1,208.3 L1153.2,208.5 L1152.2,208.8 L1151.1,209.3 L1150.0,209.9 L1148.8,210.6 L1147.6,211.4 L1146.4,212.4 L1145.1,213.6 L1143.7,214.8 L1142.4,216.1 L1141.0,217.6 L1139.5,219.1 L1138.1,220.7 L1136.6,222.3 L1135.1,223.9 L1133.6,225.5 L1132.1,227.1 L1130.6,228.7 L1129.1,230.2 L1127.6,231.8 L1126.1,233.3 L1124.5,234.8 L1123.0,236.2 L1121.4,237.6 L1119.8,239.0 L1118.3,240.3 L1116.6,241.6 L1115.0,242.8 L1113.4,244.0 L1111.7,245.1 L1110.0,246.1 L1108.2,247.0 L1106.5,247.9 L1104.7,248.7 L1102.9,249.4 L1101.0,249.9 L1099.1,250.4 L1097.2,250.8 L1095.3,251.0 L1093.3,251.1 L1091.4,251.1 L1089.4,251.0 L1087.7,250.7 Z" fill="url(#hgd)"/><path d="M1089.9,236.9 L1091.2,237.1 L1092.3,237.3 L1093.3,237.3 L1094.4,237.4 L1095.5,237.3 L1096.6,237.2 L1097.7,237.0 L1098.9,236.7 L1100.1,236.3 L1101.3,235.9 L1102.5,235.4 L1103.8,234.7 L1105.1,234.1 L1106.5,233.3 L1107.8,232.4 L1109.2,231.5 L1110.6,230.5 L1112.1,229.4 L1113.5,228.3 L1115.0,227.1 L1116.4,225.8 L1117.9,224.5 L1119.4,223.2 L1120.9,221.8 L1122.4,220.4 L1123.9,218.9 L1125.5,217.5 L1127.0,216.0 L1128.5,214.5 L1130.0,213.0 L1131.6,211.4 L1133.2,209.8 L1134.8,208.3 L1136.5,206.8 L1138.2,205.4 L1139.9,204.1 L1141.6,202.8 L1143.4,201.7 L1145.3,200.7 L1147.2,199.9 L1149.1,199.2 L1151.2,198.7 L1153.2,198.5 L1155.3,198.4 L1157.3,198.7 L1159.1,199.0 L1157.7,206.4 L1156.3,206.2 L1155.1,206.1 L1153.9,206.2 L1152.7,206.4 L1151.5,206.7 L1150.3,207.2 L1149.0,207.8 L1147.6,208.6 L1146.3,209.5 L1144.9,210.6 L1143.5,211.8 L1142.1,213.0 L1140.7,214.4 L1139.3,215.9 L1137.8,217.4 L1136.3,219.0 L1134.8,220.6 L1133.3,222.2 L1131.8,223.8 L1130.3,225.3 L1128.8,226.8 L1127.3,228.4 L1125.8,229.9 L1124.3,231.3 L1122.8,232.8 L1121.2,234.2 L1119.7,235.6 L1118.1,236.9 L1116.6,238.2 L1115.0,239.4 L1113.4,240.5 L1111.8,241.6 L1110.2,242.7 L1108.6,243.6 L1107.0,244.5 L1105.3,245.3 L1103.7,246.0 L1102.0,246.6 L1100.3,247.1 L1098.6,247.5 L1096.8,247.8 L1095.1,248.0 L1093.3,248.1 L1091.6,248.1 L1089.8,247.9 L1088.2,247.7 Z" fill="url(#hg)"/><path d="M1089.9,236.9 L1091.2,237.1 L1092.3,237.3 L1093.3,237.3 L1094.4,237.4 L1095.5,237.3 L1096.6,237.2 L1097.7,237.0 L1098.9,236.7 L1100.1,236.3 L1101.3,235.9 L1102.5,235.4 L1103.8,234.7 L1105.1,234.1 L1106.5,233.3 L1107.8,232.4 L1109.2,231.5 L1110.6,230.5 L1112.1,229.4 L1113.5,228.3 L1115.0,227.1 L1116.4,225.8 L1117.9,224.5 L1119.4,223.2 L1120.9,221.8 L1122.4,220.4 L1123.9,218.9 L1125.5,217.5 L1127.0,216.0 L1128.5,214.5 L1130.0,213.0 L1131.6,211.4 L1133.2,209.8 L1134.8,208.3 L1136.5,206.8 L1138.2,205.4 L1139.9,204.1 L1141.6,202.8 L1143.4,201.7 L1145.3,200.7 L1147.2,199.9 L1149.1,199.2 L1151.2,198.7 L1153.2,198.5 L1155.3,198.4 L1157.3,198.7 L1159.1,199.0" fill="none" stroke="#3d3d3d" stroke-width="0.9"/><path d="M1087.7,250.7 L1089.4,251.0 L1091.4,251.1 L1093.3,251.1 L1095.3,251.0 L1097.2,250.8 L1099.1,250.4 L1101.0,249.9 L1102.9,249.4 L1104.7,248.7 L1106.5,247.9 L1108.2,247.0 L1110.0,246.1 L1111.7,245.1 L1113.4,244.0 L1115.0,242.8 L1116.6,241.6 L1118.3,240.3 L1119.8,239.0 L1121.4,237.6 L1123.0,236.2 L1124.5,234.8 L1126.1,233.3 L1127.6,231.8 L1129.1,230.2 L1130.6,228.7 L1132.1,227.1 L1133.6,225.5 L1135.1,223.9 L1136.6,222.3 L1138.1,220.7 L1139.5,219.1 L1141.0,217.6 L1142.4,216.1 L1143.7,214.8 L1145.1,213.6 L1146.4,212.4 L1147.6,211.4 L1148.8,210.6 L1150.0,209.9 L1151.1,209.3 L1152.2,208.8 L1153.2,208.5 L1154.1,208.3 L1155.1,208.3 L1156.1,208.3 L1157.3,208.5" fill="none" stroke="#3d3d3d" stroke-width="0.9"/><path d="M1156.7,237.5 L1158.1,237.8 L1159.2,238.0 L1160.4,238.0 L1161.5,238.0 L1162.7,237.8 L1163.9,237.6 L1165.2,237.3 L1166.4,236.8 L1167.7,236.3 L1169.1,235.7 L1170.4,235.0 L1171.8,234.3 L1173.2,233.4 L1174.6,232.4 L1176.0,231.4 L1177.5,230.4 L1178.9,229.2 L1180.4,228.1 L1181.9,226.8 L1183.4,225.6 L1185.0,224.3 L1191.0,231.7 L1189.5,232.9 L1187.9,234.2 L1186.4,235.5 L1184.8,236.7 L1183.2,237.9 L1181.6,239.1 L1179.9,240.3 L1178.3,241.4 L1176.6,242.4 L1174.9,243.4 L1173.2,244.3 L1171.5,245.1 L1169.7,245.8 L1167.9,246.4 L1166.1,246.9 L1164.2,247.2 L1162.3,247.4 L1160.4,247.5 L1158.5,247.5 L1156.6,247.4 L1154.9,247.1 Z" fill="url(#hgd)"/><path d="M1156.7,237.5 L1158.1,237.8 L1159.2,238.0 L1160.4,238.0 L1161.5,238.0 L1162.7,237.8 L1163.9,237.6 L1165.2,237.3 L1166.4,236.8 L1167.7,236.3 L1169.1,235.7 L1170.4,235.0 L1171.8,234.3 L1173.2,233.4 L1174.6,232.4 L1176.0,231.4 L1177.5,230.4 L1178.9,229.2 L1180.4,228.1 L1181.9,226.8 L1183.4,225.6 L1185.0,224.3 L1189.7,230.1 L1188.2,231.3 L1186.6,232.6 L1185.1,233.8 L1183.5,235.1 L1181.9,236.3 L1180.4,237.4 L1178.8,238.6 L1177.2,239.6 L1175.6,240.6 L1173.9,241.5 L1172.3,242.4 L1170.6,243.1 L1169.0,243.8 L1167.3,244.4 L1165.6,244.8 L1163.9,245.1 L1162.2,245.4 L1160.4,245.4 L1158.7,245.4 L1156.9,245.2 L1155.3,245.0 Z" fill="url(#hg)"/><path d="M1156.7,237.5 L1158.1,237.8 L1159.2,238.0 L1160.4,238.0 L1161.5,238.0 L1162.7,237.8 L1163.9,237.6 L1165.2,237.3 L1166.4,236.8 L1167.7,236.3 L1169.1,235.7 L1170.4,235.0 L1171.8,234.3 L1173.2,233.4 L1174.6,232.4 L1176.0,231.4 L1177.5,230.4 L1178.9,229.2 L1180.4,228.1 L1181.9,226.8 L1183.4,225.6 L1185.0,224.3" fill="none" stroke="#3d3d3d" stroke-width="0.9"/><path d="M1154.9,247.1 L1156.6,247.4 L1158.5,247.5 L1160.4,247.5 L1162.3,247.4 L1164.2,247.2 L1166.1,246.9 L1167.9,246.4 L1169.7,245.8 L1171.5,245.1 L1173.2,244.3 L1174.9,243.4 L1176.6,242.4 L1178.3,241.4 L1179.9,240.3 L1181.6,239.1 L1183.2,237.9 L1184.8,236.7 L1186.4,235.5 L1187.9,234.2 L1189.5,232.9 L1191.0,231.7" fill="none" stroke="#3d3d3d" stroke-width="0.9"/><path d="M103.5,237.5 L105.0,237.5 L106.5,237.4 L108.0,237.3 L109.5,237.3 L111.0,237.2 L112.5,237.2 L114.0,237.1 L115.5,237.0 L117.0,237.0 L118.5,236.9 L120.0,236.9 L121.5,236.8 L123.0,236.7 L124.5,236.7 L126.0,236.6 L127.5,236.6 L129.0,236.5 L130.5,236.5 L132.0,236.4 L133.5,236.3 L135.0,236.3 L136.5,236.2 L138.0,236.2 L139.5,236.1 L141.0,236.0 L142.5,236.0 L144.0,235.9 L145.5,235.9 L147.0,235.8 L148.5,235.8 L150.0,235.7 L151.5,235.6 L153.0,235.6 L154.5,235.5 L156.0,235.5 L157.5,235.4 L159.0,235.3 L160.5,235.3 L162.0,235.2 L163.5,235.2 L165.0,235.1 L166.5,235.0 L168.0,235.0 L169.5,234.9 L171.0,234.9 L172.5,234.8 L174.0,234.8 L175.5,234.7 L177.0,234.6 L178.5,234.6 L180.0,234.5 L181.5,234.5 L183.0,234.4 L184.5,234.3 L186.0,234.3 L187.5,234.2 L189.0,234.2 L190.5,234.1 L192.0,234.1 L193.5,234.0 L195.0,233.9 L196.5,233.9 L198.0,233.8 L199.7,233.8 L201.3,233.7 L202.8,233.7 L204.3,233.6 L205.8,233.6 L207.3,233.6 L208.8,233.5 L210.3,233.5 L211.8,233.5 L213.3,233.4 L214.8,233.4 L216.3,233.4 L217.8,233.3 L219.3,233.3 L220.8,233.3 L222.3,233.2 L223.8,233.2 L225.3,233.2 L226.8,233.1 L228.3,233.1 L229.8,233.1 L231.3,233.0 L232.8,233.0 L234.3,233.0 L235.8,232.9 L237.3,232.9 L238.8,232.8 L240.3,232.8 L241.8,232.8 L243.3,232.7 L244.8,232.7 L246.3,232.7 L247.8,232.6 L249.3,232.6 L250.8,232.6 L252.3,232.5 L253.8,232.5 L255.3,232.5 L256.8,232.4 L258.3,232.4 L259.8,232.4 L261.3,232.3 L262.8,232.3 L264.3,232.3 L265.8,232.2 L267.3,232.2 L268.8,232.2 L270.3,232.1 L271.8,232.1 L273.3,232.1 L274.8,232.0 L276.3,232.0 L277.8,232.0 L279.3,231.9 L280.8,231.9 L282.3,231.9 L283.8,231.8 L285.3,231.8 L286.8,231.8 L288.3,231.7 L289.8,231.7 L291.3,231.7 L292.8,231.6 L294.3,231.6 L295.8,231.6 L297.3,231.5 L298.8,231.5 L300.3,231.5 L301.8,231.4 L303.3,231.4 L304.8,231.4 L306.3,231.3 L307.8,231.3 L309.3,231.3 L310.8,231.2 L312.3,231.2 L313.8,231.2 L315.3,231.1 L316.8,231.1 L318.3,231.1 L319.8,231.0 L321.3,231.0 L322.8,230.9 L324.3,230.9 L325.8,230.9 L327.3,230.8 L328.8,230.8 L330.3,230.8 L331.8,230.7 L333.3,230.7 L334.8,230.7 L336.3,230.6 L337.8,230.6 L339.3,230.6 L340.8,230.5 L342.4,230.5 L343.9,230.5 L345.3,230.4 L346.8,230.4 L348.3,230.3 L349.8,230.3 L351.3,230.3 L352.9,230.2 L354.3,230.2 L355.8,230.2 L357.3,230.1 L358.8,230.1 L360.3,230.0 L361.8,230.0 L363.3,230.0 L364.8,229.9 L366.3,229.9 L367.8,229.9 L369.3,229.8 L370.8,229.8 L372.3,229.7 L373.8,229.7 L375.3,229.7 L376.8,229.6 L378.3,229.6 L379.8,229.5 L381.3,229.5 L382.8,229.5 L384.3,229.4 L385.8,229.4 L387.3,229.3 L388.8,229.3 L390.3,229.2 L391.8,229.2 L393.3,229.2 L394.8,229.1 L396.3,229.1 L397.8,229.0 L399.3,229.0 L400.8,228.9 L402.3,228.9 L403.8,228.8 L405.3,228.8 L406.8,228.7 L408.3,228.7 L409.8,228.7 L411.3,228.6 L412.8,228.6 L414.3,228.5 L415.8,228.5 L417.3,228.4 L418.8,228.4 L420.3,228.3 L421.8,228.3 L423.3,228.2 L424.7,228.2 L426.2,228.1 L427.7,228.1 L429.2,228.0 L430.7,228.0 L432.2,227.9 L433.7,227.9 L435.2,227.8 L436.7,227.7 L438.2,227.7 L439.7,227.6 L441.2,227.6 L442.7,227.5 L444.2,227.5 L445.7,227.4 L447.1,227.3 L448.6,227.3 L450.1,227.2 L451.6,227.2 L453.1,227.1 L454.6,227.0 L456.1,227.0 L457.6,226.9 L459.1,226.8 L460.6,226.8 L462.1,226.7 L463.6,226.6 L465.0,226.5 L466.5,226.5 L468.0,226.4 L469.5,226.3 L471.0,226.2 L472.5,226.1 L474.0,226.1 L475.5,226.0 L476.9,225.9 L478.4,225.8 L479.9,225.7 L481.4,225.6 L482.9,225.5 L484.4,225.4 L485.8,225.3 L487.3,225.2 L488.8,225.1 L490.3,225.0 L491.8,224.9 L493.3,224.8 L494.7,224.7 L496.2,224.6 L497.7,224.5 L499.2,224.4 L500.6,224.2 L502.1,224.1 L503.6,224.0 L505.1,223.9 L506.5,223.7 L508.0,223.6 L509.5,223.4 L511.0,223.3 L512.4,223.2 L513.9,223.0 L515.4,222.9 L516.8,222.7 L518.3,222.5 L519.8,222.4 L521.2,222.2 L522.7,222.0 L524.2,221.9 L525.6,221.7 L527.1,221.5 L528.6,221.3 L530.0,221.1 L531.5,220.9 L532.9,220.7 L534.4,220.5 L535.9,220.3 L537.3,220.1 L538.8,219.9 L540.2,219.6 L541.7,219.4 L543.1,219.2 L544.6,218.9 L546.0,218.7 L547.5,218.4 L548.9,218.2 L550.4,217.9 L551.8,217.6 L553.2,217.3 L554.7,217.0 L556.1,216.7 L557.6,216.4 L559.0,216.1 L560.5,215.8 L561.9,215.5 L563.4,215.2 L564.8,214.8 L566.2,214.5 L567.7,214.1 L569.1,213.7 L570.6,213.4 L572.0,213.0 L573.4,212.6 L574.9,212.2 L576.3,211.8 L577.7,211.4 L579.2,211.0 L580.6,210.6 L582.1,210.2 L583.5,209.7 L585.0,209.3 L586.4,208.8 L587.8,208.3 L589.3,207.9 L590.7,207.4 L592.2,206.9 L593.6,206.4 L595.1,205.9 L596.5,205.4 L598.0,204.9 L599.4,204.4 L600.9,203.8 L602.4,203.3 L603.8,202.7 L605.3,202.2 L606.7,201.6 L608.2,201.1 L609.7,200.5 L611.2,199.9 L612.6,199.3 L614.1,198.8 L615.6,198.2 L617.0,197.6 L618.5,197.0 L620.0,196.4 L621.4,195.7 L622.9,195.1 L624.4,194.5 L625.9,193.9 L627.4,193.3 L628.8,192.6 L630.3,192.0 L631.8,191.4 L633.3,190.7 L634.8,190.1 L636.3,189.4 L637.8,188.8 L639.3,188.1 L640.8,187.5 L642.2,186.8 L643.7,186.1 L645.2,185.5 L646.7,184.8 L648.2,184.2 L649.7,183.5 L651.2,182.8 L652.7,182.2 L654.2,181.5 L655.7,180.8 L657.2,180.1 L658.7,179.5 L660.2,178.8 L661.7,178.1 L663.2,177.5 L664.7,176.8 L666.2,176.1 L667.7,175.4 L669.2,174.7 L670.7,174.1 L672.2,173.4 L673.7,172.7 L675.2,172.0 L676.7,171.4 L678.3,170.7 L679.8,170.0 L681.3,169.3 L682.7,168.7 L684.0,168.1 L685.3,167.4 L686.6,166.8 L687.9,166.1 L689.2,165.4 L690.4,164.7 L691.6,163.9 L692.9,163.1 L694.1,162.2 L695.4,161.3 L696.7,160.3 L698.0,159.2 L699.3,158.1 L700.6,156.9 L702.0,155.7 L703.4,154.4 L704.8,153.0 L706.2,151.6 L707.7,150.2 L709.1,148.7 L710.6,147.2 L712.2,145.6 L713.7,144.1 L715.3,142.5 L716.9,141.0 L718.6,139.4 L720.3,137.9 L722.0,136.4 L723.9,134.9 L725.8,133.5 L727.6,132.2 L729.2,131.2 L730.8,130.1 L732.4,129.1 L734.0,128.1 L735.6,127.1 L737.2,126.2 L738.8,125.2 L740.5,124.3 L742.1,123.4 L743.7,122.6 L745.4,121.7 L747.0,120.9 L748.6,120.1 L750.3,119.3 L751.9,118.5 L753.6,117.8 L755.3,117.1 L756.9,116.4 L758.6,115.8 L760.3,115.2 L761.9,114.6 L763.6,114.0 L765.3,113.4 L767.0,112.9 L768.7,112.4 L770.4,112.0 L772.1,111.6 L773.8,111.2 L775.5,110.8 L777.3,110.5 L779.0,110.2 L780.7,109.9 L782.4,109.7 L784.1,109.5 L785.9,109.3 L787.6,109.2 L789.3,109.0 L791.1,109.0 L792.8,108.9 L794.5,108.9 L796.2,109.0 L795.8,133.0 L794.5,133.0 L793.2,133.0 L791.9,133.0 L790.7,133.1 L789.4,133.2 L788.1,133.3 L786.8,133.4 L785.6,133.6 L784.3,133.8 L783.0,134.0 L781.7,134.2 L780.4,134.5 L779.1,134.8 L777.9,135.1 L776.6,135.4 L775.3,135.8 L774.0,136.2 L772.6,136.6 L771.3,137.0 L770.0,137.5 L768.7,137.9 L767.4,138.5 L766.0,139.0 L764.7,139.5 L763.4,140.1 L762.0,140.7 L760.7,141.4 L759.3,142.0 L757.9,142.7 L756.6,143.4 L755.2,144.1 L753.8,144.9 L752.5,145.7 L751.1,146.4 L749.7,147.3 L748.3,148.1 L746.9,149.0 L745.5,149.9 L744.1,150.8 L742.7,151.7 L741.3,152.6 L740.1,153.4 L739.0,154.3 L737.9,155.2 L736.6,156.3 L735.3,157.5 L734.0,158.8 L732.6,160.1 L731.2,161.5 L729.7,163.0 L728.3,164.5 L726.8,166.1 L725.2,167.6 L723.7,169.2 L722.1,170.7 L720.5,172.3 L718.9,173.8 L717.2,175.4 L715.6,176.8 L713.9,178.3 L712.2,179.7 L710.5,181.0 L708.7,182.3 L707.0,183.6 L705.2,184.8 L703.5,185.9 L701.7,187.0 L699.9,188.0 L698.2,188.9 L696.5,189.8 L694.8,190.6 L693.2,191.4 L691.6,192.1 L690.1,192.8 L688.6,193.5 L687.1,194.2 L685.6,194.9 L684.1,195.5 L682.6,196.2 L681.1,196.9 L679.6,197.6 L678.1,198.3 L676.6,199.0 L675.1,199.7 L673.6,200.4 L672.1,201.0 L670.6,201.7 L669.1,202.4 L667.6,203.1 L666.1,203.8 L664.6,204.5 L663.1,205.2 L661.6,205.8 L660.1,206.5 L658.6,207.2 L657.1,207.9 L655.6,208.6 L654.0,209.2 L652.5,209.9 L651.0,210.6 L649.5,211.3 L648.0,211.9 L646.5,212.6 L645.0,213.3 L643.5,214.0 L641.9,214.6 L640.4,215.3 L638.9,216.0 L637.4,216.6 L635.9,217.3 L634.4,217.9 L632.8,218.6 L631.3,219.2 L629.8,219.9 L628.2,220.5 L626.7,221.1 L625.2,221.8 L623.7,222.4 L622.1,223.0 L620.6,223.7 L619.1,224.3 L617.5,224.9 L616.0,225.5 L614.4,226.1 L612.9,226.7 L611.4,227.3 L609.8,227.8 L608.3,228.4 L606.7,229.0 L605.2,229.6 L603.6,230.1 L602.1,230.7 L600.5,231.2 L599.0,231.7 L597.4,232.3 L595.9,232.8 L594.3,233.3 L592.7,233.8 L591.2,234.3 L589.6,234.8 L588.1,235.3 L586.5,235.7 L584.9,236.2 L583.4,236.7 L581.8,237.1 L580.2,237.5 L578.7,238.0 L577.1,238.4 L575.6,238.8 L574.0,239.2 L572.4,239.6 L570.9,240.0 L569.3,240.4 L567.7,240.7 L566.2,241.1 L564.6,241.5 L563.1,241.8 L561.5,242.1 L559.9,242.5 L558.4,242.8 L556.8,243.1 L555.3,243.4 L553.7,243.7 L552.2,244.0 L550.6,244.3 L549.1,244.6 L547.5,244.9 L546.0,245.1 L544.4,245.4 L542.9,245.6 L541.3,245.9 L539.8,246.1 L538.2,246.4 L536.7,246.6 L535.1,246.8 L533.6,247.0 L532.1,247.3 L530.5,247.5 L529.0,247.7 L527.4,247.9 L525.9,248.1 L524.4,248.3 L522.8,248.4 L521.3,248.6 L519.8,248.8 L518.2,249.0 L516.7,249.2 L515.1,249.3 L513.6,249.5 L512.1,249.6 L510.5,249.8 L509.0,249.9 L507.5,250.1 L506.0,250.2 L504.5,250.4 L502.9,250.5 L501.4,250.7 L499.9,250.8 L498.4,250.9 L496.8,251.1 L495.3,251.2 L493.8,251.3 L492.3,251.4 L490.7,251.5 L489.2,251.7 L487.7,251.8 L486.2,251.9 L484.7,252.0 L483.1,252.1 L481.6,252.2 L480.1,252.3 L478.6,252.4 L477.1,252.5 L475.6,252.6 L474.1,252.7 L472.5,252.8 L471.0,252.9 L469.5,253.0 L468.0,253.1 L466.5,253.2 L465.0,253.2 L463.5,253.3 L462.0,253.4 L460.4,253.5 L458.9,253.6 L457.4,253.7 L455.9,253.7 L454.4,253.8 L452.9,253.9 L451.4,254.0 L449.9,254.0 L448.4,254.1 L446.8,254.2 L445.3,254.3 L443.8,254.3 L442.3,254.4 L440.8,254.5 L439.3,254.5 L437.8,254.6 L436.3,254.7 L434.8,254.7 L433.3,254.8 L431.7,254.9 L430.2,254.9 L428.7,255.0 L427.2,255.0 L425.7,255.1 L424.2,255.2 L422.7,255.2 L421.2,255.3 L419.7,255.3 L418.2,255.4 L416.7,255.4 L415.2,255.5 L413.7,255.5 L412.2,255.6 L410.7,255.6 L409.2,255.7 L407.6,255.7 L406.1,255.8 L404.6,255.8 L403.1,255.9 L401.6,255.9 L400.1,256.0 L398.6,256.0 L397.1,256.1 L395.6,256.1 L394.1,256.1 L392.6,256.2 L391.1,256.2 L389.6,256.3 L388.1,256.3 L386.6,256.4 L385.1,256.4 L383.6,256.4 L382.1,256.5 L380.6,256.5 L379.1,256.6 L377.6,256.6 L376.1,256.6 L374.6,256.7 L373.0,256.7 L371.5,256.8 L370.0,256.8 L368.5,256.8 L367.0,256.9 L365.5,256.9 L364.0,257.0 L362.5,257.0 L361.0,257.0 L359.5,257.1 L358.0,257.1 L356.5,257.2 L355.0,257.2 L353.5,257.2 L352.0,257.3 L350.5,257.3 L349.0,257.3 L347.5,257.4 L346.0,257.4 L344.5,257.4 L343.0,257.5 L341.5,257.5 L340.0,257.6 L338.5,257.6 L337.0,257.6 L335.5,257.7 L334.0,257.7 L332.5,257.7 L331.0,257.8 L329.5,257.8 L328.0,257.8 L326.5,257.9 L325.0,257.9 L323.5,257.9 L322.0,258.0 L320.5,258.0 L319.0,258.0 L317.5,258.1 L316.0,258.1 L314.5,258.1 L313.0,258.2 L311.5,258.2 L310.0,258.3 L308.5,258.3 L307.0,258.3 L305.5,258.4 L304.0,258.4 L302.4,258.4 L300.9,258.5 L299.4,258.5 L297.9,258.5 L296.4,258.6 L294.9,258.6 L293.4,258.6 L291.9,258.7 L290.4,258.7 L288.9,258.7 L287.4,258.8 L285.9,258.8 L284.4,258.8 L282.9,258.9 L281.4,258.9 L279.9,258.9 L278.4,259.0 L276.9,259.0 L275.4,259.0 L273.9,259.1 L272.4,259.1 L270.9,259.1 L269.4,259.2 L267.9,259.2 L266.4,259.2 L264.9,259.3 L263.4,259.3 L261.9,259.3 L260.4,259.4 L258.9,259.4 L257.4,259.4 L255.9,259.5 L254.4,259.5 L252.9,259.5 L251.4,259.6 L249.9,259.6 L248.4,259.6 L246.9,259.7 L245.4,259.7 L243.9,259.7 L242.4,259.8 L240.9,259.8 L239.4,259.8 L237.9,259.9 L236.4,259.9 L234.9,259.9 L233.4,260.0 L231.9,260.0 L230.4,260.0 L228.9,260.1 L227.4,260.1 L225.9,260.2 L224.4,260.2 L222.9,260.2 L221.4,260.3 L219.9,260.3 L218.4,260.3 L216.9,260.4 L215.4,260.4 L213.9,260.4 L212.4,260.5 L210.9,260.5 L209.4,260.5 L207.9,260.6 L206.4,260.6 L204.9,260.6 L203.4,260.7 L201.9,260.7 L200.5,260.7 L199.1,260.8 L197.6,260.9 L196.1,260.9 L194.6,261.0 L193.1,261.0 L191.6,261.1 L190.1,261.1 L188.6,261.2 L187.1,261.3 L185.6,261.3 L184.1,261.4 L182.6,261.4 L181.1,261.5 L179.6,261.6 L178.1,261.6 L176.6,261.7 L175.1,261.7 L173.6,261.8 L172.1,261.9 L170.6,261.9 L169.1,262.0 L167.6,262.0 L166.1,262.1 L164.6,262.1 L163.1,262.2 L161.6,262.3 L160.1,262.3 L158.6,262.4 L157.1,262.4 L155.6,262.5 L154.1,262.6 L152.6,262.6 L151.1,262.7 L149.6,262.7 L148.1,262.8 L146.6,262.8 L145.1,262.9 L143.6,263.0 L142.1,263.0 L140.6,263.1 L139.1,263.1 L137.6,263.2 L136.0,263.3 L134.5,263.3 L133.0,263.4 L131.5,263.4 L130.0,263.5 L128.5,263.6 L127.0,263.6 L125.5,263.7 L124.0,263.7 L122.5,263.8 L121.0,263.8 L119.5,263.9 L118.0,264.0 L116.5,264.0 L115.0,264.1 L113.5,264.1 L112.0,264.2 L110.5,264.3 L109.0,264.3 L107.5,264.4 L106.0,264.4 L104.5,264.5 A13.5,13.5 0 0 1 103.5,237.5 Z" fill="url(#hgd)"/><path d="M103.5,237.5 L105.0,237.5 L106.5,237.4 L108.0,237.3 L109.5,237.3 L111.0,237.2 L112.5,237.2 L114.0,237.1 L115.5,237.0 L117.0,237.0 L118.5,236.9 L120.0,236.9 L121.5,236.8 L123.0,236.7 L124.5,236.7 L126.0,236.6 L127.5,236.6 L129.0,236.5 L130.5,236.5 L132.0,236.4 L133.5,236.3 L135.0,236.3 L136.5,236.2 L138.0,236.2 L139.5,236.1 L141.0,236.0 L142.5,236.0 L144.0,235.9 L145.5,235.9 L147.0,235.8 L148.5,235.8 L150.0,235.7 L151.5,235.6 L153.0,235.6 L154.5,235.5 L156.0,235.5 L157.5,235.4 L159.0,235.3 L160.5,235.3 L162.0,235.2 L163.5,235.2 L165.0,235.1 L166.5,235.0 L168.0,235.0 L169.5,234.9 L171.0,234.9 L172.5,234.8 L174.0,234.8 L175.5,234.7 L177.0,234.6 L178.5,234.6 L180.0,234.5 L181.5,234.5 L183.0,234.4 L184.5,234.3 L186.0,234.3 L187.5,234.2 L189.0,234.2 L190.5,234.1 L192.0,234.1 L193.5,234.0 L195.0,233.9 L196.5,233.9 L198.0,233.8 L199.7,233.8 L201.3,233.7 L202.8,233.7 L204.3,233.6 L205.8,233.6 L207.3,233.6 L208.8,233.5 L210.3,233.5 L211.8,233.5 L213.3,233.4 L214.8,233.4 L216.3,233.4 L217.8,233.3 L219.3,233.3 L220.8,233.3 L222.3,233.2 L223.8,233.2 L225.3,233.2 L226.8,233.1 L228.3,233.1 L229.8,233.1 L231.3,233.0 L232.8,233.0 L234.3,233.0 L235.8,232.9 L237.3,232.9 L238.8,232.8 L240.3,232.8 L241.8,232.8 L243.3,232.7 L244.8,232.7 L246.3,232.7 L247.8,232.6 L249.3,232.6 L250.8,232.6 L252.3,232.5 L253.8,232.5 L255.3,232.5 L256.8,232.4 L258.3,232.4 L259.8,232.4 L261.3,232.3 L262.8,232.3 L264.3,232.3 L265.8,232.2 L267.3,232.2 L268.8,232.2 L270.3,232.1 L271.8,232.1 L273.3,232.1 L274.8,232.0 L276.3,232.0 L277.8,232.0 L279.3,231.9 L280.8,231.9 L282.3,231.9 L283.8,231.8 L285.3,231.8 L286.8,231.8 L288.3,231.7 L289.8,231.7 L291.3,231.7 L292.8,231.6 L294.3,231.6 L295.8,231.6 L297.3,231.5 L298.8,231.5 L300.3,231.5 L301.8,231.4 L303.3,231.4 L304.8,231.4 L306.3,231.3 L307.8,231.3 L309.3,231.3 L310.8,231.2 L312.3,231.2 L313.8,231.2 L315.3,231.1 L316.8,231.1 L318.3,231.1 L319.8,231.0 L321.3,231.0 L322.8,230.9 L324.3,230.9 L325.8,230.9 L327.3,230.8 L328.8,230.8 L330.3,230.8 L331.8,230.7 L333.3,230.7 L334.8,230.7 L336.3,230.6 L337.8,230.6 L339.3,230.6 L340.8,230.5 L342.4,230.5 L343.9,230.5 L345.3,230.4 L346.8,230.4 L348.3,230.3 L349.8,230.3 L351.3,230.3 L352.9,230.2 L354.3,230.2 L355.8,230.2 L357.3,230.1 L358.8,230.1 L360.3,230.0 L361.8,230.0 L363.3,230.0 L364.8,229.9 L366.3,229.9 L367.8,229.9 L369.3,229.8 L370.8,229.8 L372.3,229.7 L373.8,229.7 L375.3,229.7 L376.8,229.6 L378.3,229.6 L379.8,229.5 L381.3,229.5 L382.8,229.5 L384.3,229.4 L385.8,229.4 L387.3,229.3 L388.8,229.3 L390.3,229.2 L391.8,229.2 L393.3,229.2 L394.8,229.1 L396.3,229.1 L397.8,229.0 L399.3,229.0 L400.8,228.9 L402.3,228.9 L403.8,228.8 L405.3,228.8 L406.8,228.7 L408.3,228.7 L409.8,228.7 L411.3,228.6 L412.8,228.6 L414.3,228.5 L415.8,228.5 L417.3,228.4 L418.8,228.4 L420.3,228.3 L421.8,228.3 L423.3,228.2 L424.7,228.2 L426.2,228.1 L427.7,228.1 L429.2,228.0 L430.7,228.0 L432.2,227.9 L433.7,227.9 L435.2,227.8 L436.7,227.7 L438.2,227.7 L439.7,227.6 L441.2,227.6 L442.7,227.5 L444.2,227.5 L445.7,227.4 L447.1,227.3 L448.6,227.3 L450.1,227.2 L451.6,227.2 L453.1,227.1 L454.6,227.0 L456.1,227.0 L457.6,226.9 L459.1,226.8 L460.6,226.8 L462.1,226.7 L463.6,226.6 L465.0,226.5 L466.5,226.5 L468.0,226.4 L469.5,226.3 L471.0,226.2 L472.5,226.1 L474.0,226.1 L475.5,226.0 L476.9,225.9 L478.4,225.8 L479.9,225.7 L481.4,225.6 L482.9,225.5 L484.4,225.4 L485.8,225.3 L487.3,225.2 L488.8,225.1 L490.3,225.0 L491.8,224.9 L493.3,224.8 L494.7,224.7 L496.2,224.6 L497.7,224.5 L499.2,224.4 L500.6,224.2 L502.1,224.1 L503.6,224.0 L505.1,223.9 L506.5,223.7 L508.0,223.6 L509.5,223.4 L511.0,223.3 L512.4,223.2 L513.9,223.0 L515.4,222.9 L516.8,222.7 L518.3,222.5 L519.8,222.4 L521.2,222.2 L522.7,222.0 L524.2,221.9 L525.6,221.7 L527.1,221.5 L528.6,221.3 L530.0,221.1 L531.5,220.9 L532.9,220.7 L534.4,220.5 L535.9,220.3 L537.3,220.1 L538.8,219.9 L540.2,219.6 L541.7,219.4 L543.1,219.2 L544.6,218.9 L546.0,218.7 L547.5,218.4 L548.9,218.2 L550.4,217.9 L551.8,217.6 L553.2,217.3 L554.7,217.0 L556.1,216.7 L557.6,216.4 L559.0,216.1 L560.5,215.8 L561.9,215.5 L563.4,215.2 L564.8,214.8 L566.2,214.5 L567.7,214.1 L569.1,213.7 L570.6,213.4 L572.0,213.0 L573.4,212.6 L574.9,212.2 L576.3,211.8 L577.7,211.4 L579.2,211.0 L580.6,210.6 L582.1,210.2 L583.5,209.7 L585.0,209.3 L586.4,208.8 L587.8,208.3 L589.3,207.9 L590.7,207.4 L592.2,206.9 L593.6,206.4 L595.1,205.9 L596.5,205.4 L598.0,204.9 L599.4,204.4 L600.9,203.8 L602.4,203.3 L603.8,202.7 L605.3,202.2 L606.7,201.6 L608.2,201.1 L609.7,200.5 L611.2,199.9 L612.6,199.3 L614.1,198.8 L615.6,198.2 L617.0,197.6 L618.5,197.0 L620.0,196.4 L621.4,195.7 L622.9,195.1 L624.4,194.5 L625.9,193.9 L627.4,193.3 L628.8,192.6 L630.3,192.0 L631.8,191.4 L633.3,190.7 L634.8,190.1 L636.3,189.4 L637.8,188.8 L639.3,188.1 L640.8,187.5 L642.2,186.8 L643.7,186.1 L645.2,185.5 L646.7,184.8 L648.2,184.2 L649.7,183.5 L651.2,182.8 L652.7,182.2 L654.2,181.5 L655.7,180.8 L657.2,180.1 L658.7,179.5 L660.2,178.8 L661.7,178.1 L663.2,177.5 L664.7,176.8 L666.2,176.1 L667.7,175.4 L669.2,174.7 L670.7,174.1 L672.2,173.4 L673.7,172.7 L675.2,172.0 L676.7,171.4 L678.3,170.7 L679.8,170.0 L681.3,169.3 L682.7,168.7 L684.0,168.1 L685.3,167.4 L686.6,166.8 L687.9,166.1 L689.2,165.4 L690.4,164.7 L691.6,163.9 L692.9,163.1 L694.1,162.2 L695.4,161.3 L696.7,160.3 L698.0,159.2 L699.3,158.1 L700.6,156.9 L702.0,155.7 L703.4,154.4 L704.8,153.0 L706.2,151.6 L707.7,150.2 L709.1,148.7 L710.6,147.2 L712.2,145.6 L713.7,144.1 L715.3,142.5 L716.9,141.0 L718.6,139.4 L720.3,137.9 L722.0,136.4 L723.9,134.9 L725.8,133.5 L727.6,132.2 L729.2,131.2 L730.8,130.1 L732.4,129.1 L734.0,128.1 L735.6,127.1 L737.2,126.2 L738.8,125.2 L740.5,124.3 L742.1,123.4 L743.7,122.6 L745.4,121.7 L747.0,120.9 L748.6,120.1 L750.3,119.3 L751.9,118.5 L753.6,117.8 L755.3,117.1 L756.9,116.4 L758.6,115.8 L760.3,115.2 L761.9,114.6 L763.6,114.0 L765.3,113.4 L767.0,112.9 L768.7,112.4 L770.4,112.0 L772.1,111.6 L773.8,111.2 L775.5,110.8 L777.3,110.5 L779.0,110.2 L780.7,109.9 L782.4,109.7 L784.1,109.5 L785.9,109.3 L787.6,109.2 L789.3,109.0 L791.1,109.0 L792.8,108.9 L794.5,108.9 L796.2,109.0 L795.9,127.7 L794.5,127.7 L793.1,127.7 L791.7,127.7 L790.4,127.8 L789.0,127.9 L787.6,128.0 L786.2,128.1 L784.9,128.3 L783.5,128.5 L782.1,128.7 L780.7,129.0 L779.4,129.3 L778.0,129.6 L776.6,129.9 L775.2,130.3 L773.8,130.6 L772.4,131.0 L771.0,131.5 L769.6,131.9 L768.2,132.4 L766.8,132.9 L765.4,133.5 L764.0,134.0 L762.6,134.6 L761.2,135.2 L759.8,135.9 L758.4,136.5 L757.0,137.2 L755.5,137.9 L754.1,138.6 L752.7,139.4 L751.3,140.2 L749.8,141.0 L748.4,141.8 L747.0,142.6 L745.5,143.5 L744.1,144.4 L742.6,145.3 L741.2,146.2 L739.7,147.2 L738.3,148.1 L737.0,149.0 L735.7,150.0 L734.4,151.1 L733.0,152.3 L731.6,153.5 L730.2,154.9 L728.8,156.3 L727.3,157.7 L725.9,159.2 L724.4,160.7 L722.9,162.2 L721.4,163.8 L719.8,165.3 L718.3,166.9 L716.7,168.4 L715.2,169.8 L713.6,171.3 L712.0,172.7 L710.4,174.1 L708.8,175.4 L707.2,176.7 L705.5,177.9 L703.9,179.1 L702.2,180.2 L700.6,181.3 L699.0,182.3 L697.4,183.3 L695.7,184.2 L694.1,185.0 L692.6,185.8 L691.0,186.6 L689.4,187.4 L687.9,188.1 L686.4,188.8 L685.0,189.5 L683.5,190.2 L682.0,190.9 L680.5,191.6 L679.0,192.3 L677.5,193.0 L676.0,193.7 L674.5,194.5 L673.1,195.2 L671.6,195.9 L670.1,196.6 L668.6,197.3 L667.1,198.0 L665.6,198.7 L664.1,199.4 L662.6,200.1 L661.1,200.9 L659.7,201.6 L658.2,202.3 L656.7,203.0 L655.2,203.7 L653.7,204.4 L652.2,205.1 L650.7,205.8 L649.2,206.5 L647.7,207.2 L646.2,207.9 L644.7,208.6 L643.2,209.3 L641.7,210.0 L640.2,210.7 L638.7,211.3 L637.2,212.0 L635.7,212.7 L634.2,213.4 L632.7,214.1 L631.2,214.7 L629.7,215.4 L628.2,216.1 L626.7,216.7 L625.2,217.4 L623.7,218.1 L622.2,218.7 L620.7,219.4 L619.1,220.0 L617.6,220.6 L616.1,221.3 L614.6,221.9 L613.1,222.5 L611.6,223.1 L610.0,223.7 L608.5,224.3 L607.0,224.9 L605.5,225.5 L603.9,226.1 L602.4,226.7 L600.9,227.3 L599.4,227.8 L597.8,228.4 L596.3,228.9 L594.8,229.5 L593.2,230.0 L591.7,230.5 L590.2,231.1 L588.6,231.6 L587.1,232.1 L585.6,232.6 L584.0,233.1 L582.5,233.5 L581.0,234.0 L579.4,234.5 L577.9,234.9 L576.3,235.4 L574.8,235.8 L573.3,236.2 L571.7,236.7 L570.2,237.1 L568.6,237.5 L567.1,237.9 L565.6,238.3 L564.0,238.6 L562.5,239.0 L560.9,239.3 L559.4,239.7 L557.8,240.0 L556.3,240.3 L554.7,240.6 L553.2,240.9 L551.6,241.2 L550.1,241.5 L548.6,241.8 L547.0,242.0 L545.5,242.3 L543.9,242.6 L542.4,242.8 L540.9,243.1 L539.3,243.3 L537.8,243.5 L536.3,243.8 L534.7,244.0 L533.2,244.2 L531.7,244.4 L530.1,244.6 L528.6,244.8 L527.1,245.0 L525.5,245.2 L524.0,245.4 L522.5,245.6 L520.9,245.8 L519.4,245.9 L517.9,246.1 L516.4,246.3 L514.9,246.4 L513.3,246.6 L511.8,246.8 L510.3,246.9 L508.8,247.1 L507.2,247.2 L505.7,247.4 L504.2,247.5 L502.7,247.6 L501.2,247.8 L499.6,247.9 L498.1,248.0 L496.6,248.2 L495.1,248.3 L493.6,248.4 L492.1,248.5 L490.5,248.6 L489.0,248.8 L487.5,248.9 L486.0,249.0 L484.5,249.1 L482.9,249.2 L481.4,249.3 L479.9,249.4 L478.4,249.5 L476.9,249.6 L475.4,249.7 L473.9,249.8 L472.4,249.9 L470.8,250.0 L469.3,250.1 L467.8,250.1 L466.3,250.2 L464.8,250.3 L463.3,250.4 L461.8,250.5 L460.3,250.6 L458.8,250.6 L457.3,250.7 L455.8,250.8 L454.2,250.9 L452.7,251.0 L451.2,251.0 L449.7,251.1 L448.2,251.2 L446.7,251.2 L445.2,251.3 L443.7,251.4 L442.2,251.4 L440.7,251.5 L439.2,251.6 L437.7,251.6 L436.2,251.7 L434.7,251.8 L433.1,251.8 L431.6,251.9 L430.1,252.0 L428.6,252.0 L427.1,252.1 L425.6,252.1 L424.1,252.2 L422.6,252.3 L421.1,252.3 L419.6,252.4 L418.1,252.4 L416.6,252.5 L415.1,252.5 L413.6,252.6 L412.1,252.6 L410.6,252.7 L409.1,252.7 L407.5,252.8 L406.0,252.8 L404.5,252.9 L403.0,252.9 L401.5,253.0 L400.0,253.0 L398.5,253.0 L397.0,253.1 L395.5,253.1 L394.0,253.2 L392.5,253.2 L391.0,253.3 L389.5,253.3 L388.0,253.3 L386.5,253.4 L385.0,253.4 L383.5,253.5 L382.0,253.5 L380.5,253.6 L379.0,253.6 L377.5,253.6 L376.0,253.7 L374.5,253.7 L373.0,253.8 L371.5,253.8 L370.0,253.8 L368.5,253.9 L367.0,253.9 L365.5,254.0 L364.0,254.0 L362.5,254.0 L361.0,254.1 L359.4,254.1 L357.9,254.1 L356.4,254.2 L354.9,254.2 L353.4,254.3 L351.9,254.3 L350.4,254.3 L348.9,254.4 L347.4,254.4 L345.9,254.4 L344.4,254.5 L342.9,254.5 L341.4,254.5 L339.9,254.6 L338.4,254.6 L336.9,254.7 L335.4,254.7 L333.9,254.7 L332.4,254.8 L330.9,254.8 L329.4,254.8 L327.9,254.9 L326.4,254.9 L324.9,254.9 L323.4,255.0 L321.9,255.0 L320.4,255.0 L318.9,255.1 L317.4,255.1 L315.9,255.1 L314.4,255.2 L312.9,255.2 L311.4,255.2 L309.9,255.3 L308.4,255.3 L306.9,255.3 L305.4,255.4 L303.9,255.4 L302.4,255.5 L300.9,255.5 L299.4,255.5 L297.9,255.6 L296.4,255.6 L294.9,255.6 L293.4,255.7 L291.9,255.7 L290.4,255.7 L288.9,255.8 L287.4,255.8 L285.9,255.8 L284.4,255.9 L282.9,255.9 L281.4,255.9 L279.9,256.0 L278.4,256.0 L276.9,256.0 L275.4,256.1 L273.9,256.1 L272.4,256.1 L270.9,256.2 L269.4,256.2 L267.9,256.2 L266.4,256.3 L264.9,256.3 L263.4,256.3 L261.9,256.4 L260.3,256.4 L258.8,256.4 L257.3,256.5 L255.8,256.5 L254.3,256.5 L252.8,256.6 L251.3,256.6 L249.8,256.6 L248.3,256.7 L246.8,256.7 L245.3,256.7 L243.8,256.8 L242.3,256.8 L240.8,256.8 L239.3,256.9 L237.8,256.9 L236.3,256.9 L234.8,257.0 L233.3,257.0 L231.8,257.0 L230.3,257.1 L228.8,257.1 L227.3,257.1 L225.8,257.2 L224.3,257.2 L222.8,257.3 L221.3,257.3 L219.8,257.3 L218.3,257.4 L216.8,257.4 L215.3,257.4 L213.8,257.5 L212.3,257.5 L210.8,257.5 L209.3,257.6 L207.8,257.6 L206.3,257.6 L204.8,257.7 L203.3,257.7 L201.8,257.7 L200.4,257.8 L199.0,257.8 L197.5,257.9 L196.0,257.9 L194.5,258.0 L193.0,258.1 L191.5,258.1 L190.0,258.2 L188.5,258.2 L187.0,258.3 L185.5,258.4 L184.0,258.4 L182.5,258.5 L181.0,258.5 L179.5,258.6 L178.0,258.6 L176.5,258.7 L175.0,258.8 L173.5,258.8 L172.0,258.9 L170.5,258.9 L169.0,259.0 L167.5,259.1 L166.0,259.1 L164.5,259.2 L163.0,259.2 L161.5,259.3 L160.0,259.4 L158.5,259.4 L156.9,259.5 L155.4,259.5 L153.9,259.6 L152.4,259.6 L150.9,259.7 L149.4,259.8 L147.9,259.8 L146.4,259.9 L144.9,259.9 L143.4,260.0 L141.9,260.1 L140.4,260.1 L138.9,260.2 L137.4,260.2 L135.9,260.3 L134.4,260.3 L132.9,260.4 L131.4,260.5 L129.9,260.5 L128.4,260.6 L126.9,260.6 L125.4,260.7 L123.9,260.8 L122.4,260.8 L120.9,260.9 L119.4,260.9 L117.9,261.0 L116.4,261.1 L114.9,261.1 L113.4,261.2 L111.9,261.2 L110.4,261.3 L108.9,261.3 L107.4,261.4 L105.9,261.5 L104.4,261.5 A12.0,12.0 0 0 1 103.5,237.5 Z" fill="url(#hg)"/><path d="M796.2,109.0 L794.5,108.9 L792.8,108.9 L791.1,109.0 L789.3,109.0 L787.6,109.2 L785.9,109.3 L784.1,109.5 L782.4,109.7 L780.7,109.9 L779.0,110.2 L777.3,110.5 L775.5,110.8 L773.8,111.2 L772.1,111.6 L770.4,112.0 L768.7,112.4 L767.0,112.9 L765.3,113.4 L763.6,114.0 L761.9,114.6 L760.3,115.2 L758.6,115.8 L756.9,116.4 L755.3,117.1 L753.6,117.8 L751.9,118.5 L750.3,119.3 L748.6,120.1 L747.0,120.9 L745.4,121.7 L743.7,122.6 L742.1,123.4 L740.5,124.3 L738.8,125.2 L737.2,126.2 L735.6,127.1 L734.0,128.1 L732.4,129.1 L730.8,130.1 L729.2,131.2 L727.6,132.2 L725.8,133.5 L723.9,134.9 L722.0,136.4 L720.3,137.9 L718.6,139.4 L716.9,141.0 L715.3,142.5 L713.7,144.1 L712.2,145.6 L710.6,147.2 L709.1,148.7 L707.7,150.2 L706.2,151.6 L704.8,153.0 L703.4,154.4 L702.0,155.7 L700.6,156.9 L699.3,158.1 L698.0,159.2 L696.7,160.3 L695.4,161.3 L694.1,162.2 L692.9,163.1 L691.6,163.9 L690.4,164.7 L689.2,165.4 L687.9,166.1 L686.6,166.8 L685.3,167.4 L684.0,168.1 L682.7,168.7 L681.3,169.3 L679.8,170.0 L678.3,170.7 L676.7,171.4 L675.2,172.0 L673.7,172.7 L672.2,173.4 L670.7,174.1 L669.2,174.7 L667.7,175.4 L666.2,176.1 L664.7,176.8 L663.2,177.5 L661.7,178.1 L660.2,178.8 L658.7,179.5 L657.2,180.1 L655.7,180.8 L654.2,181.5 L652.7,182.2 L651.2,182.8 L649.7,183.5 L648.2,184.2 L646.7,184.8 L645.2,185.5 L643.7,186.1 L642.2,186.8 L640.8,187.5 L639.3,188.1 L637.8,188.8 L636.3,189.4 L634.8,190.1 L633.3,190.7 L631.8,191.4 L630.3,192.0 L628.8,192.6 L627.4,193.3 L625.9,193.9 L624.4,194.5 L622.9,195.1 L621.4,195.7 L620.0,196.4 L618.5,197.0 L617.0,197.6 L615.6,198.2 L614.1,198.8 L612.6,199.3 L611.2,199.9 L609.7,200.5 L608.2,201.1 L606.7,201.6 L605.3,202.2 L603.8,202.7 L602.4,203.3 L600.9,203.8 L599.4,204.4 L598.0,204.9 L596.5,205.4 L595.1,205.9 L593.6,206.4 L592.2,206.9 L590.7,207.4 L589.3,207.9 L587.8,208.3 L586.4,208.8 L585.0,209.3 L583.5,209.7 L582.1,210.2 L580.6,210.6 L579.2,211.0 L577.7,211.4 L576.3,211.8 L574.9,212.2 L573.4,212.6 L572.0,213.0 L570.6,213.4 L569.1,213.7 L567.7,214.1 L566.2,214.5 L564.8,214.8 L563.4,215.2 L561.9,215.5 L560.5,215.8 L559.0,216.1 L557.6,216.4 L556.1,216.7 L554.7,217.0 L553.2,217.3 L551.8,217.6 L550.4,217.9 L548.9,218.2 L547.5,218.4 L546.0,218.7 L544.6,218.9 L543.1,219.2 L541.7,219.4 L540.2,219.6 L538.8,219.9 L537.3,220.1 L535.9,220.3 L534.4,220.5 L532.9,220.7 L531.5,220.9 L530.0,221.1 L528.6,221.3 L527.1,221.5 L525.6,221.7 L524.2,221.9 L522.7,222.0 L521.2,222.2 L519.8,222.4 L518.3,222.5 L516.8,222.7 L515.4,222.9 L513.9,223.0 L512.4,223.2 L511.0,223.3 L509.5,223.4 L508.0,223.6 L506.5,223.7 L505.1,223.9 L503.6,224.0 L502.1,224.1 L500.6,224.2 L499.2,224.4 L497.7,224.5 L496.2,224.6 L494.7,224.7 L493.3,224.8 L491.8,224.9 L490.3,225.0 L488.8,225.1 L487.3,225.2 L485.8,225.3 L484.4,225.4 L482.9,225.5 L481.4,225.6 L479.9,225.7 L478.4,225.8 L476.9,225.9 L475.5,226.0 L474.0,226.1 L472.5,226.1 L471.0,226.2 L469.5,226.3 L468.0,226.4 L466.5,226.5 L465.0,226.5 L463.6,226.6 L462.1,226.7 L460.6,226.8 L459.1,226.8 L457.6,226.9 L456.1,227.0 L454.6,227.0 L453.1,227.1 L451.6,227.2 L450.1,227.2 L448.6,227.3 L447.1,227.3 L445.7,227.4 L444.2,227.5 L442.7,227.5 L441.2,227.6 L439.7,227.6 L438.2,227.7 L436.7,227.7 L435.2,227.8 L433.7,227.9 L432.2,227.9 L430.7,228.0 L429.2,228.0 L427.7,228.1 L426.2,228.1 L424.7,228.2 L423.3,228.2 L421.8,228.3 L420.3,228.3 L418.8,228.4 L417.3,228.4 L415.8,228.5 L414.3,228.5 L412.8,228.6 L411.3,228.6 L409.8,228.7 L408.3,228.7 L406.8,228.7 L405.3,228.8 L403.8,228.8 L402.3,228.9 L400.8,228.9 L399.3,229.0 L397.8,229.0 L396.3,229.1 L394.8,229.1 L393.3,229.2 L391.8,229.2 L390.3,229.2 L388.8,229.3 L387.3,229.3 L385.8,229.4 L384.3,229.4 L382.8,229.5 L381.3,229.5 L379.8,229.5 L378.3,229.6 L376.8,229.6 L375.3,229.7 L373.8,229.7 L372.3,229.7 L370.8,229.8 L369.3,229.8 L367.8,229.9 L366.3,229.9 L364.8,229.9 L363.3,230.0 L361.8,230.0 L360.3,230.0 L358.8,230.1 L357.3,230.1 L355.8,230.2 L354.3,230.2 L352.9,230.2 L351.3,230.3 L349.8,230.3 L348.3,230.3 L346.8,230.4 L345.3,230.4 L343.9,230.5 L342.4,230.5 L340.8,230.5 L339.3,230.6 L337.8,230.6 L336.3,230.6 L334.8,230.7 L333.3,230.7 L331.8,230.7 L330.3,230.8 L328.8,230.8 L327.3,230.8 L325.8,230.9 L324.3,230.9 L322.8,230.9 L321.3,231.0 L319.8,231.0 L318.3,231.1 L316.8,231.1 L315.3,231.1 L313.8,231.2 L312.3,231.2 L310.8,231.2 L309.3,231.3 L307.8,231.3 L306.3,231.3 L304.8,231.4 L303.3,231.4 L301.8,231.4 L300.3,231.5 L298.8,231.5 L297.3,231.5 L295.8,231.6 L294.3,231.6 L292.8,231.6 L291.3,231.7 L289.8,231.7 L288.3,231.7 L286.8,231.8 L285.3,231.8 L283.8,231.8 L282.3,231.9 L280.8,231.9 L279.3,231.9 L277.8,232.0 L276.3,232.0 L274.8,232.0 L273.3,232.1 L271.8,232.1 L270.3,232.1 L268.8,232.2 L267.3,232.2 L265.8,232.2 L264.3,232.3 L262.8,232.3 L261.3,232.3 L259.8,232.4 L258.3,232.4 L256.8,232.4 L255.3,232.5 L253.8,232.5 L252.3,232.5 L250.8,232.6 L249.3,232.6 L247.8,232.6 L246.3,232.7 L244.8,232.7 L243.3,232.7 L241.8,232.8 L240.3,232.8 L238.8,232.8 L237.3,232.9 L235.8,232.9 L234.3,233.0 L232.8,233.0 L231.3,233.0 L229.8,233.1 L228.3,233.1 L226.8,233.1 L225.3,233.2 L223.8,233.2 L222.3,233.2 L220.8,233.3 L219.3,233.3 L217.8,233.3 L216.3,233.4 L214.8,233.4 L213.3,233.4 L211.8,233.5 L210.3,233.5 L208.8,233.5 L207.3,233.6 L205.8,233.6 L204.3,233.6 L202.8,233.7 L201.3,233.7 L199.7,233.8 L198.0,233.8 L196.5,233.9 L195.0,233.9 L193.5,234.0 L192.0,234.1 L190.5,234.1 L189.0,234.2 L187.5,234.2 L186.0,234.3 L184.5,234.3 L183.0,234.4 L181.5,234.5 L180.0,234.5 L178.5,234.6 L177.0,234.6 L175.5,234.7 L174.0,234.8 L172.5,234.8 L171.0,234.9 L169.5,234.9 L168.0,235.0 L166.5,235.0 L165.0,235.1 L163.5,235.2 L162.0,235.2 L160.5,235.3 L159.0,235.3 L157.5,235.4 L156.0,235.5 L154.5,235.5 L153.0,235.6 L151.5,235.6 L150.0,235.7 L148.5,235.8 L147.0,235.8 L145.5,235.9 L144.0,235.9 L142.5,236.0 L141.0,236.0 L139.5,236.1 L138.0,236.2 L136.5,236.2 L135.0,236.3 L133.5,236.3 L132.0,236.4 L130.5,236.5 L129.0,236.5 L127.5,236.6 L126.0,236.6 L124.5,236.7 L123.0,236.7 L121.5,236.8 L120.0,236.9 L118.5,236.9 L117.0,237.0 L115.5,237.0 L114.0,237.1 L112.5,237.2 L111.0,237.2 L109.5,237.3 L108.0,237.3 L106.5,237.4 L105.0,237.5 L103.5,237.5 A13.5,13.5 0 0 0 104.5,264.5 L106.0,264.4 L107.5,264.4 L109.0,264.3 L110.5,264.3 L112.0,264.2 L113.5,264.1 L115.0,264.1 L116.5,264.0 L118.0,264.0 L119.5,263.9 L121.0,263.8 L122.5,263.8 L124.0,263.7 L125.5,263.7 L127.0,263.6 L128.5,263.6 L130.0,263.5 L131.5,263.4 L133.0,263.4 L134.5,263.3 L136.0,263.3 L137.6,263.2 L139.1,263.1 L140.6,263.1 L142.1,263.0 L143.6,263.0 L145.1,262.9 L146.6,262.8 L148.1,262.8 L149.6,262.7 L151.1,262.7 L152.6,262.6 L154.1,262.6 L155.6,262.5 L157.1,262.4 L158.6,262.4 L160.1,262.3 L161.6,262.3 L163.1,262.2 L164.6,262.1 L166.1,262.1 L167.6,262.0 L169.1,262.0 L170.6,261.9 L172.1,261.9 L173.6,261.8 L175.1,261.7 L176.6,261.7 L178.1,261.6 L179.6,261.6 L181.1,261.5 L182.6,261.4 L184.1,261.4 L185.6,261.3 L187.1,261.3 L188.6,261.2 L190.1,261.1 L191.6,261.1 L193.1,261.0 L194.6,261.0 L196.1,260.9 L197.6,260.9 L199.1,260.8 L200.5,260.7 L201.9,260.7 L203.4,260.7 L204.9,260.6 L206.4,260.6 L207.9,260.6 L209.4,260.5 L210.9,260.5 L212.4,260.5 L213.9,260.4 L215.4,260.4 L216.9,260.4 L218.4,260.3 L219.9,260.3 L221.4,260.3 L222.9,260.2 L224.4,260.2 L225.9,260.2 L227.4,260.1 L228.9,260.1 L230.4,260.0 L231.9,260.0 L233.4,260.0 L234.9,259.9 L236.4,259.9 L237.9,259.9 L239.4,259.8 L240.9,259.8 L242.4,259.8 L243.9,259.7 L245.4,259.7 L246.9,259.7 L248.4,259.6 L249.9,259.6 L251.4,259.6 L252.9,259.5 L254.4,259.5 L255.9,259.5 L257.4,259.4 L258.9,259.4 L260.4,259.4 L261.9,259.3 L263.4,259.3 L264.9,259.3 L266.4,259.2 L267.9,259.2 L269.4,259.2 L270.9,259.1 L272.4,259.1 L273.9,259.1 L275.4,259.0 L276.9,259.0 L278.4,259.0 L279.9,258.9 L281.4,258.9 L282.9,258.9 L284.4,258.8 L285.9,258.8 L287.4,258.8 L288.9,258.7 L290.4,258.7 L291.9,258.7 L293.4,258.6 L294.9,258.6 L296.4,258.6 L297.9,258.5 L299.4,258.5 L300.9,258.5 L302.4,258.4 L304.0,258.4 L305.5,258.4 L307.0,258.3 L308.5,258.3 L310.0,258.3 L311.5,258.2 L313.0,258.2 L314.5,258.1 L316.0,258.1 L317.5,258.1 L319.0,258.0 L320.5,258.0 L322.0,258.0 L323.5,257.9 L325.0,257.9 L326.5,257.9 L328.0,257.8 L329.5,257.8 L331.0,257.8 L332.5,257.7 L334.0,257.7 L335.5,257.7 L337.0,257.6 L338.5,257.6 L340.0,257.6 L341.5,257.5 L343.0,257.5 L344.5,257.4 L346.0,257.4 L347.5,257.4 L349.0,257.3 L350.5,257.3 L352.0,257.3 L353.5,257.2 L355.0,257.2 L356.5,257.2 L358.0,257.1 L359.5,257.1 L361.0,257.0 L362.5,257.0 L364.0,257.0 L365.5,256.9 L367.0,256.9 L368.5,256.8 L370.0,256.8 L371.5,256.8 L373.0,256.7 L374.6,256.7 L376.1,256.6 L377.6,256.6 L379.1,256.6 L380.6,256.5 L382.1,256.5 L383.6,256.4 L385.1,256.4 L386.6,256.4 L388.1,256.3 L389.6,256.3 L391.1,256.2 L392.6,256.2 L394.1,256.1 L395.6,256.1 L397.1,256.1 L398.6,256.0 L400.1,256.0 L401.6,255.9 L403.1,255.9 L404.6,255.8 L406.1,255.8 L407.6,255.7 L409.2,255.7 L410.7,255.6 L412.2,255.6 L413.7,255.5 L415.2,255.5 L416.7,255.4 L418.2,255.4 L419.7,255.3 L421.2,255.3 L422.7,255.2 L424.2,255.2 L425.7,255.1 L427.2,255.0 L428.7,255.0 L430.2,254.9 L431.7,254.9 L433.3,254.8 L434.8,254.7 L436.3,254.7 L437.8,254.6 L439.3,254.5 L440.8,254.5 L442.3,254.4 L443.8,254.3 L445.3,254.3 L446.8,254.2 L448.4,254.1 L449.9,254.0 L451.4,254.0 L452.9,253.9 L454.4,253.8 L455.9,253.7 L457.4,253.7 L458.9,253.6 L460.4,253.5 L462.0,253.4 L463.5,253.3 L465.0,253.2 L466.5,253.2 L468.0,253.1 L469.5,253.0 L471.0,252.9 L472.5,252.8 L474.1,252.7 L475.6,252.6 L477.1,252.5 L478.6,252.4 L480.1,252.3 L481.6,252.2 L483.1,252.1 L484.7,252.0 L486.2,251.9 L487.7,251.8 L489.2,251.7 L490.7,251.5 L492.3,251.4 L493.8,251.3 L495.3,251.2 L496.8,251.1 L498.4,250.9 L499.9,250.8 L501.4,250.7 L502.9,250.5 L504.5,250.4 L506.0,250.2 L507.5,250.1 L509.0,249.9 L510.5,249.8 L512.1,249.6 L513.6,249.5 L515.1,249.3 L516.7,249.2 L518.2,249.0 L519.8,248.8 L521.3,248.6 L522.8,248.4 L524.4,248.3 L525.9,248.1 L527.4,247.9 L529.0,247.7 L530.5,247.5 L532.1,247.3 L533.6,247.0 L535.1,246.8 L536.7,246.6 L538.2,246.4 L539.8,246.1 L541.3,245.9 L542.9,245.6 L544.4,245.4 L546.0,245.1 L547.5,244.9 L549.1,244.6 L550.6,244.3 L552.2,244.0 L553.7,243.7 L555.3,243.4 L556.8,243.1 L558.4,242.8 L559.9,242.5 L561.5,242.1 L563.1,241.8 L564.6,241.5 L566.2,241.1 L567.7,240.7 L569.3,240.4 L570.9,240.0 L572.4,239.6 L574.0,239.2 L575.6,238.8 L577.1,238.4 L578.7,238.0 L580.2,237.5 L581.8,237.1 L583.4,236.7 L584.9,236.2 L586.5,235.7 L588.1,235.3 L589.6,234.8 L591.2,234.3 L592.7,233.8 L594.3,233.3 L595.9,232.8 L597.4,232.3 L599.0,231.7 L600.5,231.2 L602.1,230.7 L603.6,230.1 L605.2,229.6 L606.7,229.0 L608.3,228.4 L609.8,227.8 L611.4,227.3 L612.9,226.7 L614.4,226.1 L616.0,225.5 L617.5,224.9 L619.1,224.3 L620.6,223.7 L622.1,223.0 L623.7,222.4 L625.2,221.8 L626.7,221.1 L628.2,220.5 L629.8,219.9 L631.3,219.2 L632.8,218.6 L634.4,217.9 L635.9,217.3 L637.4,216.6 L638.9,216.0 L640.4,215.3 L641.9,214.6 L643.5,214.0 L645.0,213.3 L646.5,212.6 L648.0,211.9 L649.5,211.3 L651.0,210.6 L652.5,209.9 L654.0,209.2 L655.6,208.6 L657.1,207.9 L658.6,207.2 L660.1,206.5 L661.6,205.8 L663.1,205.2 L664.6,204.5 L666.1,203.8 L667.6,203.1 L669.1,202.4 L670.6,201.7 L672.1,201.0 L673.6,200.4 L675.1,199.7 L676.6,199.0 L678.1,198.3 L679.6,197.6 L681.1,196.9 L682.6,196.2 L684.1,195.5 L685.6,194.9 L687.1,194.2 L688.6,193.5 L690.1,192.8 L691.6,192.1 L693.2,191.4 L694.8,190.6 L696.5,189.8 L698.2,188.9 L699.9,188.0 L701.7,187.0 L703.5,185.9 L705.2,184.8 L707.0,183.6 L708.7,182.3 L710.5,181.0 L712.2,179.7 L713.9,178.3 L715.6,176.8 L717.2,175.4 L718.9,173.8 L720.5,172.3 L722.1,170.7 L723.7,169.2 L725.2,167.6 L726.8,166.1 L728.3,164.5 L729.7,163.0 L731.2,161.5 L732.6,160.1 L734.0,158.8 L735.3,157.5 L736.6,156.3 L737.9,155.2 L739.0,154.3 L740.1,153.4 L741.3,152.6 L742.7,151.7 L744.1,150.8 L745.5,149.9 L746.9,149.0 L748.3,148.1 L749.7,147.3 L751.1,146.4 L752.5,145.7 L753.8,144.9 L755.2,144.1 L756.6,143.4 L757.9,142.7 L759.3,142.0 L760.7,141.4 L762.0,140.7 L763.4,140.1 L764.7,139.5 L766.0,139.0 L767.4,138.5 L768.7,137.9 L770.0,137.5 L771.3,137.0 L772.6,136.6 L774.0,136.2 L775.3,135.8 L776.6,135.4 L777.9,135.1 L779.1,134.8 L780.4,134.5 L781.7,134.2 L783.0,134.0 L784.3,133.8 L785.6,133.6 L786.8,133.4 L788.1,133.3 L789.4,133.2 L790.7,133.1 L791.9,133.0 L793.2,133.0 L794.5,133.0 L795.8,133.0" fill="none" stroke="#3d3d3d" stroke-width="1"/><path d="M98.0,57.5 L99.5,57.5 L101.0,57.5 L102.5,57.5 L104.0,57.5 L105.5,57.5 L107.0,57.5 L108.5,57.5 L110.0,57.5 L111.5,57.5 L113.0,57.5 L114.5,57.5 L116.0,57.5 L117.5,57.5 L119.0,57.5 L120.5,57.5 L122.0,57.5 L123.5,57.5 L125.0,57.5 L126.5,57.5 L128.0,57.5 L129.5,57.5 L131.0,57.5 L132.5,57.5 L134.0,57.5 L135.5,57.5 L137.0,57.5 L138.5,57.5 L140.0,57.5 L141.5,57.5 L143.0,57.5 L144.5,57.5 L146.0,57.5 L147.5,57.5 L149.0,57.5 L150.5,57.5 L152.0,57.5 L153.5,57.5 L155.0,57.5 L156.5,57.5 L158.0,57.5 L159.5,57.5 L161.0,57.5 L162.5,57.5 L164.0,57.5 L165.5,57.5 L167.0,57.5 L168.6,57.5 L170.1,57.5 L171.6,57.5 L173.1,57.5 L174.6,57.5 L176.1,57.5 L177.6,57.5 L179.1,57.5 L180.6,57.5 L182.1,57.5 L183.6,57.5 L185.1,57.5 L186.6,57.5 L188.1,57.5 L189.6,57.5 L191.1,57.5 L192.6,57.5 L194.1,57.5 L195.6,57.5 L197.1,57.5 L198.6,57.5 L200.1,57.5 L201.6,57.5 L203.1,57.5 L204.6,57.5 L206.1,57.5 L207.6,57.5 L209.1,57.5 L210.6,57.5 L212.1,57.5 L213.6,57.5 L215.1,57.5 L216.6,57.5 L218.1,57.5 L219.6,57.5 L221.1,57.5 L222.6,57.5 L224.1,57.5 L225.6,57.5 L227.1,57.5 L228.6,57.5 L230.1,57.5 L231.6,57.5 L233.1,57.5 L234.6,57.5 L236.1,57.5 L237.6,57.5 L239.1,57.5 L240.6,57.5 L242.1,57.5 L243.6,57.5 L245.1,57.5 L246.6,57.5 L248.1,57.5 L249.6,57.5 L251.1,57.5 L252.6,57.5 L254.1,57.5 L255.6,57.5 L257.1,57.5 L258.6,57.5 L260.1,57.5 L261.6,57.5 L263.1,57.5 L264.6,57.5 L266.1,57.5 L267.6,57.5 L269.1,57.5 L270.6,57.5 L272.1,57.5 L273.6,57.5 L275.1,57.5 L276.6,57.5 L278.1,57.5 L279.6,57.5 L281.1,57.5 L282.6,57.5 L284.1,57.5 L285.6,57.5 L287.1,57.5 L288.6,57.5 L290.1,57.5 L291.6,57.5 L293.1,57.5 L294.6,57.5 L296.1,57.5 L297.6,57.5 L299.1,57.5 L300.6,57.5 L302.1,57.5 L303.6,57.5 L305.1,57.5 L306.6,57.5 L308.2,57.5 L309.7,57.5 L311.2,57.5 L312.7,57.5 L314.2,57.5 L315.7,57.5 L317.2,57.5 L318.7,57.5 L320.2,57.5 L321.7,57.5 L323.2,57.5 L324.7,57.5 L326.2,57.5 L327.7,57.5 L329.2,57.5 L330.7,57.5 L332.2,57.5 L333.7,57.5 L335.2,57.5 L336.7,57.5 L338.2,57.5 L339.7,57.5 L341.2,57.5 L342.7,57.5 L344.2,57.5 L345.7,57.5 L347.2,57.5 L348.7,57.5 L350.2,57.5 L351.7,57.5 L353.2,57.5 L354.7,57.5 L356.2,57.5 L357.7,57.5 L359.2,57.5 L360.7,57.5 L362.2,57.5 L363.7,57.5 L365.2,57.5 L366.8,57.5 L368.3,57.5 L369.8,57.5 L371.3,57.6 L372.8,57.6 L374.4,57.6 L375.9,57.6 L377.4,57.6 L378.9,57.7 L380.4,57.7 L382.0,57.7 L383.5,57.7 L385.1,57.8 L386.6,57.8 L388.1,57.8 L389.6,57.9 L391.1,57.9 L392.7,58.0 L394.2,58.0 L395.7,58.1 L397.2,58.1 L398.8,58.2 L400.3,58.2 L401.8,58.3 L403.3,58.3 L404.8,58.4 L406.4,58.5 L407.9,58.5 L409.4,58.6 L410.9,58.7 L412.5,58.7 L414.0,58.8 L415.5,58.9 L417.0,59.0 L418.6,59.1 L420.2,59.2 L421.7,59.3 L423.2,59.4 L424.7,59.5 L426.3,59.6 L427.8,59.7 L429.3,59.8 L430.8,59.9 L432.4,60.1 L433.9,60.2 L435.4,60.3 L436.9,60.5 L438.5,60.6 L440.0,60.7 L441.5,60.9 L443.1,61.0 L444.6,61.2 L446.2,61.3 L447.7,61.5 L449.2,61.7 L450.8,61.8 L452.3,62.0 L453.8,62.2 L455.3,62.4 L456.9,62.5 L458.5,62.7 L460.0,62.9 L461.5,63.1 L463.1,63.3 L464.6,63.5 L466.1,63.7 L467.7,63.9 L469.2,64.1 L470.8,64.4 L472.3,64.6 L473.8,64.8 L475.4,65.1 L476.9,65.3 L478.4,65.5 L480.0,65.8 L481.6,66.0 L483.1,66.3 L484.6,66.6 L486.2,66.8 L487.7,67.1 L489.3,67.4 L490.8,67.7 L492.4,68.0 L493.9,68.2 L495.5,68.6 L497.0,68.9 L498.5,69.2 L500.1,69.5 L501.7,69.8 L503.2,70.1 L504.8,70.5 L506.4,70.8 L507.9,71.2 L509.4,71.5 L511.0,71.9 L512.5,72.3 L514.1,72.6 L515.7,73.0 L517.2,73.4 L518.8,73.8 L520.3,74.2 L521.9,74.6 L523.4,75.0 L525.0,75.5 L526.5,75.9 L528.1,76.3 L529.7,76.8 L531.2,77.3 L532.8,77.7 L534.4,78.2 L535.9,78.7 L537.5,79.2 L539.1,79.7 L540.6,80.2 L542.2,80.7 L543.7,81.2 L545.3,81.7 L546.9,82.3 L548.4,82.8 L550.0,83.4 L551.6,84.0 L553.1,84.6 L554.7,85.2 L556.3,85.7 L557.8,86.3 L559.4,87.0 L561.0,87.6 L562.6,88.2 L564.1,88.9 L565.7,89.5 L567.2,90.2 L568.8,90.9 L570.4,91.6 L571.9,92.3 L573.5,93.0 L575.1,93.7 L576.6,94.4 L578.2,95.1 L579.8,95.9 L581.3,96.6 L582.9,97.4 L584.5,98.2 L586.0,99.0 L587.6,99.8 L589.1,100.6 L590.7,101.4 L592.2,102.2 L593.8,103.1 L595.4,103.9 L596.9,104.8 L598.5,105.6 L600.0,106.5 L601.6,107.4 L603.1,108.3 L604.7,109.2 L606.2,110.1 L607.8,111.0 L609.3,111.9 L610.9,112.9 L612.4,113.8 L613.9,114.7 L615.5,115.7 L617.0,116.7 L618.6,117.6 L620.1,118.6 L621.6,119.6 L623.1,120.6 L624.7,121.6 L626.2,122.5 L627.7,123.5 L629.3,124.6 L630.8,125.6 L632.3,126.6 L633.8,127.6 L635.3,128.6 L636.8,129.6 L638.4,130.7 L639.9,131.7 L641.4,132.7 L642.9,133.7 L644.4,134.8 L645.9,135.8 L647.4,136.8 L648.9,137.9 L650.4,138.9 L651.9,139.9 L653.4,141.0 L654.9,142.0 L656.4,143.0 L657.9,144.1 L659.4,145.1 L660.8,146.1 L662.3,147.1 L663.8,148.2 L665.3,149.2 L666.8,150.2 L668.3,151.2 L669.8,152.2 L671.2,153.2 L672.7,154.2 L674.2,155.2 L675.7,156.2 L677.2,157.2 L678.6,158.2 L680.1,159.2 L681.6,160.2 L683.1,161.1 L684.5,162.1 L686.0,163.1 L687.5,164.0 L688.9,165.0 L690.4,165.9 L691.9,166.9 L693.4,167.8 L694.8,168.8 L696.4,169.7 L697.9,170.8 L699.5,171.8 L701.1,172.9 L702.8,174.0 L704.4,175.2 L706.0,176.4 L707.7,177.6 L709.4,178.9 L711.0,180.3 L712.7,181.6 L714.3,183.0 L715.9,184.5 L717.5,185.9 L719.1,187.4 L720.7,188.9 L722.3,190.4 L723.8,191.9 L725.3,193.4 L726.8,194.9 L728.3,196.4 L729.8,197.8 L731.2,199.2 L732.7,200.6 L734.1,201.9 L735.4,203.2 L736.7,204.4 L738.0,205.5 L739.3,206.6 L740.5,207.6 L741.8,208.5 L743.2,209.5 L744.6,210.5 L746.0,211.5 L747.4,212.4 L748.8,213.4 L750.2,214.3 L751.6,215.2 L752.9,216.0 L754.3,216.9 L755.7,217.7 L757.1,218.5 L758.4,219.3 L759.8,220.0 L761.1,220.7 L762.5,221.4 L763.8,222.1 L765.2,222.8 L766.5,223.4 L767.9,224.0 L769.2,224.6 L770.5,225.1 L771.8,225.7 L773.2,226.2 L774.5,226.7 L775.8,227.1 L777.1,227.5 L778.4,227.9 L779.7,228.3 L781.0,228.7 L782.3,229.0 L783.5,229.3 L784.8,229.6 L786.1,229.8 L787.4,230.1 L788.7,230.3 L789.9,230.4 L791.2,230.6 L792.5,230.7 L793.7,230.8 L795.0,230.9 L796.4,231.0 L795.6,255.0 L794.0,254.9 L792.3,254.9 L790.5,254.7 L788.8,254.6 L787.1,254.4 L785.3,254.2 L783.6,254.0 L781.9,253.7 L780.2,253.4 L778.4,253.1 L776.7,252.7 L775.0,252.3 L773.3,251.8 L771.6,251.4 L769.9,250.9 L768.2,250.4 L766.5,249.8 L764.8,249.2 L763.1,248.6 L761.4,248.0 L759.8,247.3 L758.1,246.6 L756.4,245.9 L754.8,245.1 L753.1,244.4 L751.4,243.6 L749.8,242.7 L748.1,241.9 L746.5,241.0 L744.9,240.1 L743.2,239.2 L741.6,238.3 L740.0,237.3 L738.4,236.3 L736.8,235.3 L735.1,234.3 L733.5,233.3 L731.9,232.2 L730.3,231.1 L728.7,230.1 L727.1,228.9 L725.4,227.7 L723.6,226.3 L721.9,224.9 L720.2,223.5 L718.5,222.0 L716.8,220.5 L715.2,219.0 L713.7,217.5 L712.1,216.0 L710.6,214.6 L709.0,213.1 L707.5,211.7 L706.1,210.2 L704.6,208.9 L703.2,207.5 L701.7,206.2 L700.3,204.9 L698.9,203.7 L697.6,202.5 L696.2,201.4 L694.8,200.3 L693.5,199.2 L692.2,198.2 L690.8,197.2 L689.5,196.3 L688.1,195.3 L686.7,194.4 L685.3,193.5 L683.9,192.6 L682.5,191.7 L681.0,190.8 L679.5,189.9 L678.0,188.9 L676.4,187.9 L674.9,187.0 L673.4,186.0 L671.8,185.0 L670.3,184.1 L668.8,183.1 L667.2,182.1 L665.7,181.1 L664.2,180.1 L662.7,179.1 L661.1,178.1 L659.6,177.1 L658.1,176.1 L656.6,175.1 L655.1,174.1 L653.5,173.1 L652.0,172.1 L650.5,171.1 L649.0,170.1 L647.5,169.1 L645.9,168.0 L644.4,167.0 L642.9,166.0 L641.4,165.0 L639.9,164.0 L638.4,163.0 L636.9,162.0 L635.4,161.0 L633.9,160.0 L632.4,158.9 L630.9,157.9 L629.4,156.9 L627.9,155.9 L626.4,154.9 L624.9,154.0 L623.4,153.0 L621.9,152.0 L620.4,151.0 L618.9,150.0 L617.5,149.1 L616.0,148.1 L614.5,147.2 L613.0,146.2 L611.5,145.3 L610.1,144.3 L608.6,143.4 L607.1,142.5 L605.7,141.6 L604.2,140.7 L602.7,139.8 L601.3,138.9 L599.8,138.0 L598.3,137.1 L596.9,136.2 L595.4,135.4 L593.9,134.5 L592.5,133.7 L591.0,132.9 L589.6,132.1 L588.1,131.2 L586.7,130.4 L585.2,129.7 L583.8,128.9 L582.3,128.1 L580.9,127.3 L579.5,126.6 L578.0,125.8 L576.6,125.1 L575.1,124.4 L573.7,123.7 L572.2,123.0 L570.8,122.3 L569.4,121.6 L567.9,120.9 L566.5,120.3 L565.0,119.6 L563.6,119.0 L562.2,118.3 L560.7,117.7 L559.3,117.1 L557.9,116.5 L556.4,115.9 L555.0,115.3 L553.6,114.7 L552.1,114.2 L550.7,113.6 L549.3,113.1 L547.8,112.5 L546.4,112.0 L544.9,111.4 L543.5,110.9 L542.1,110.4 L540.6,109.9 L539.2,109.4 L537.7,109.0 L536.3,108.5 L534.9,108.0 L533.4,107.5 L532.0,107.1 L530.6,106.7 L529.1,106.2 L527.7,105.8 L526.2,105.4 L524.8,105.0 L523.4,104.6 L521.9,104.1 L520.5,103.8 L519.1,103.4 L517.6,103.0 L516.2,102.6 L514.7,102.3 L513.3,101.9 L511.8,101.5 L510.4,101.2 L508.9,100.8 L507.5,100.5 L506.1,100.2 L504.6,99.9 L503.2,99.5 L501.7,99.2 L500.2,98.9 L498.8,98.6 L497.4,98.4 L495.9,98.1 L494.4,97.8 L493.0,97.5 L491.5,97.2 L490.1,97.0 L488.7,96.7 L487.2,96.4 L485.7,96.2 L484.3,95.9 L482.8,95.7 L481.3,95.5 L479.9,95.2 L478.5,95.0 L477.0,94.8 L475.5,94.6 L474.1,94.4 L472.6,94.2 L471.1,93.9 L469.7,93.7 L468.3,93.6 L466.8,93.4 L465.3,93.2 L463.9,93.0 L462.4,92.8 L460.9,92.6 L459.5,92.5 L458.0,92.3 L456.6,92.1 L455.1,92.0 L453.6,91.8 L452.2,91.7 L450.7,91.5 L449.2,91.4 L447.7,91.2 L446.3,91.1 L444.8,91.0 L443.3,90.8 L441.9,90.7 L440.4,90.6 L438.9,90.5 L437.4,90.4 L436.0,90.2 L434.6,90.1 L433.1,90.0 L431.6,89.9 L430.1,89.8 L428.7,89.7 L427.2,89.6 L425.7,89.5 L424.2,89.4 L422.8,89.4 L421.3,89.3 L419.8,89.2 L418.3,89.1 L416.9,89.0 L415.4,88.9 L413.9,88.9 L412.4,88.8 L411.0,88.7 L409.5,88.6 L408.0,88.6 L406.5,88.5 L405.0,88.4 L403.6,88.4 L402.1,88.3 L400.6,88.2 L399.1,88.2 L397.7,88.1 L396.2,88.1 L394.8,88.0 L393.3,88.0 L391.8,87.9 L390.3,87.9 L388.8,87.9 L387.4,87.8 L385.9,87.8 L384.4,87.8 L382.9,87.7 L381.4,87.7 L380.0,87.7 L378.5,87.7 L377.0,87.6 L375.5,87.6 L374.0,87.6 L372.6,87.6 L371.1,87.6 L369.5,87.5 L368.1,87.5 L366.6,87.5 L365.1,87.5 L363.6,87.5 L362.1,87.5 L360.7,87.5 L359.2,87.5 L357.7,87.5 L356.2,87.5 L354.7,87.5 L353.2,87.5 L351.7,87.5 L350.2,87.5 L348.7,87.5 L347.2,87.5 L345.7,87.5 L344.2,87.5 L342.7,87.5 L341.2,87.5 L339.7,87.5 L338.2,87.5 L336.7,87.5 L335.2,87.5 L333.7,87.5 L332.2,87.5 L330.7,87.5 L329.2,87.5 L327.7,87.5 L326.2,87.5 L324.7,87.5 L323.2,87.5 L321.7,87.5 L320.2,87.5 L318.7,87.5 L317.2,87.5 L315.7,87.5 L314.2,87.5 L312.7,87.5 L311.2,87.5 L309.7,87.5 L308.2,87.5 L306.6,87.5 L305.1,87.5 L303.6,87.5 L302.1,87.5 L300.6,87.5 L299.1,87.5 L297.6,87.5 L296.1,87.5 L294.6,87.5 L293.1,87.5 L291.6,87.5 L290.1,87.5 L288.6,87.5 L287.1,87.5 L285.6,87.5 L284.1,87.5 L282.6,87.5 L281.1,87.5 L279.6,87.5 L278.1,87.5 L276.6,87.5 L275.1,87.5 L273.6,87.5 L272.1,87.5 L270.6,87.5 L269.1,87.5 L267.6,87.5 L266.1,87.5 L264.6,87.5 L263.1,87.5 L261.6,87.5 L260.1,87.5 L258.6,87.5 L257.1,87.5 L255.6,87.5 L254.1,87.5 L252.6,87.5 L251.1,87.5 L249.6,87.5 L248.1,87.5 L246.6,87.5 L245.1,87.5 L243.6,87.5 L242.1,87.5 L240.6,87.5 L239.1,87.5 L237.6,87.5 L236.1,87.5 L234.6,87.5 L233.1,87.5 L231.6,87.5 L230.1,87.5 L228.6,87.5 L227.1,87.5 L225.6,87.5 L224.1,87.5 L222.6,87.5 L221.1,87.5 L219.6,87.5 L218.1,87.5 L216.6,87.5 L215.1,87.5 L213.6,87.5 L212.1,87.5 L210.6,87.5 L209.1,87.5 L207.6,87.5 L206.1,87.5 L204.6,87.5 L203.1,87.5 L201.6,87.5 L200.1,87.5 L198.6,87.5 L197.1,87.5 L195.6,87.5 L194.1,87.5 L192.6,87.5 L191.1,87.5 L189.6,87.5 L188.1,87.5 L186.6,87.5 L185.1,87.5 L183.6,87.5 L182.1,87.5 L180.6,87.5 L179.1,87.5 L177.6,87.5 L176.1,87.5 L174.6,87.5 L173.1,87.5 L171.6,87.5 L170.1,87.5 L168.6,87.5 L167.0,87.5 L165.5,87.5 L164.0,87.5 L162.5,87.5 L161.0,87.5 L159.5,87.5 L158.0,87.5 L156.5,87.5 L155.0,87.5 L153.5,87.5 L152.0,87.5 L150.5,87.5 L149.0,87.5 L147.5,87.5 L146.0,87.5 L144.5,87.5 L143.0,87.5 L141.5,87.5 L140.0,87.5 L138.5,87.5 L137.0,87.5 L135.5,87.5 L134.0,87.5 L132.5,87.5 L131.0,87.5 L129.5,87.5 L128.0,87.5 L126.5,87.5 L125.0,87.5 L123.5,87.5 L122.0,87.5 L120.5,87.5 L119.0,87.5 L117.5,87.5 L116.0,87.5 L114.5,87.5 L113.0,87.5 L111.5,87.5 L110.0,87.5 L108.5,87.5 L107.0,87.5 L105.5,87.5 L104.0,87.5 L102.5,87.5 L101.0,87.5 L99.5,87.5 L98.0,87.5 A15.0,15.0 0 0 1 98.0,57.5 Z" fill="url(#hgd)"/><path d="M98.0,57.5 L99.5,57.5 L101.0,57.5 L102.5,57.5 L104.0,57.5 L105.5,57.5 L107.0,57.5 L108.5,57.5 L110.0,57.5 L111.5,57.5 L113.0,57.5 L114.5,57.5 L116.0,57.5 L117.5,57.5 L119.0,57.5 L120.5,57.5 L122.0,57.5 L123.5,57.5 L125.0,57.5 L126.5,57.5 L128.0,57.5 L129.5,57.5 L131.0,57.5 L132.5,57.5 L134.0,57.5 L135.5,57.5 L137.0,57.5 L138.5,57.5 L140.0,57.5 L141.5,57.5 L143.0,57.5 L144.5,57.5 L146.0,57.5 L147.5,57.5 L149.0,57.5 L150.5,57.5 L152.0,57.5 L153.5,57.5 L155.0,57.5 L156.5,57.5 L158.0,57.5 L159.5,57.5 L161.0,57.5 L162.5,57.5 L164.0,57.5 L165.5,57.5 L167.0,57.5 L168.6,57.5 L170.1,57.5 L171.6,57.5 L173.1,57.5 L174.6,57.5 L176.1,57.5 L177.6,57.5 L179.1,57.5 L180.6,57.5 L182.1,57.5 L183.6,57.5 L185.1,57.5 L186.6,57.5 L188.1,57.5 L189.6,57.5 L191.1,57.5 L192.6,57.5 L194.1,57.5 L195.6,57.5 L197.1,57.5 L198.6,57.5 L200.1,57.5 L201.6,57.5 L203.1,57.5 L204.6,57.5 L206.1,57.5 L207.6,57.5 L209.1,57.5 L210.6,57.5 L212.1,57.5 L213.6,57.5 L215.1,57.5 L216.6,57.5 L218.1,57.5 L219.6,57.5 L221.1,57.5 L222.6,57.5 L224.1,57.5 L225.6,57.5 L227.1,57.5 L228.6,57.5 L230.1,57.5 L231.6,57.5 L233.1,57.5 L234.6,57.5 L236.1,57.5 L237.6,57.5 L239.1,57.5 L240.6,57.5 L242.1,57.5 L243.6,57.5 L245.1,57.5 L246.6,57.5 L248.1,57.5 L249.6,57.5 L251.1,57.5 L252.6,57.5 L254.1,57.5 L255.6,57.5 L257.1,57.5 L258.6,57.5 L260.1,57.5 L261.6,57.5 L263.1,57.5 L264.6,57.5 L266.1,57.5 L267.6,57.5 L269.1,57.5 L270.6,57.5 L272.1,57.5 L273.6,57.5 L275.1,57.5 L276.6,57.5 L278.1,57.5 L279.6,57.5 L281.1,57.5 L282.6,57.5 L284.1,57.5 L285.6,57.5 L287.1,57.5 L288.6,57.5 L290.1,57.5 L291.6,57.5 L293.1,57.5 L294.6,57.5 L296.1,57.5 L297.6,57.5 L299.1,57.5 L300.6,57.5 L302.1,57.5 L303.6,57.5 L305.1,57.5 L306.6,57.5 L308.2,57.5 L309.7,57.5 L311.2,57.5 L312.7,57.5 L314.2,57.5 L315.7,57.5 L317.2,57.5 L318.7,57.5 L320.2,57.5 L321.7,57.5 L323.2,57.5 L324.7,57.5 L326.2,57.5 L327.7,57.5 L329.2,57.5 L330.7,57.5 L332.2,57.5 L333.7,57.5 L335.2,57.5 L336.7,57.5 L338.2,57.5 L339.7,57.5 L341.2,57.5 L342.7,57.5 L344.2,57.5 L345.7,57.5 L347.2,57.5 L348.7,57.5 L350.2,57.5 L351.7,57.5 L353.2,57.5 L354.7,57.5 L356.2,57.5 L357.7,57.5 L359.2,57.5 L360.7,57.5 L362.2,57.5 L363.7,57.5 L365.2,57.5 L366.8,57.5 L368.3,57.5 L369.8,57.5 L371.3,57.6 L372.8,57.6 L374.4,57.6 L375.9,57.6 L377.4,57.6 L378.9,57.7 L380.4,57.7 L382.0,57.7 L383.5,57.7 L385.1,57.8 L386.6,57.8 L388.1,57.8 L389.6,57.9 L391.1,57.9 L392.7,58.0 L394.2,58.0 L395.7,58.1 L397.2,58.1 L398.8,58.2 L400.3,58.2 L401.8,58.3 L403.3,58.3 L404.8,58.4 L406.4,58.5 L407.9,58.5 L409.4,58.6 L410.9,58.7 L412.5,58.7 L414.0,58.8 L415.5,58.9 L417.0,59.0 L418.6,59.1 L420.2,59.2 L421.7,59.3 L423.2,59.4 L424.7,59.5 L426.3,59.6 L427.8,59.7 L429.3,59.8 L430.8,59.9 L432.4,60.1 L433.9,60.2 L435.4,60.3 L436.9,60.5 L438.5,60.6 L440.0,60.7 L441.5,60.9 L443.1,61.0 L444.6,61.2 L446.2,61.3 L447.7,61.5 L449.2,61.7 L450.8,61.8 L452.3,62.0 L453.8,62.2 L455.3,62.4 L456.9,62.5 L458.5,62.7 L460.0,62.9 L461.5,63.1 L463.1,63.3 L464.6,63.5 L466.1,63.7 L467.7,63.9 L469.2,64.1 L470.8,64.4 L472.3,64.6 L473.8,64.8 L475.4,65.1 L476.9,65.3 L478.4,65.5 L480.0,65.8 L481.6,66.0 L483.1,66.3 L484.6,66.6 L486.2,66.8 L487.7,67.1 L489.3,67.4 L490.8,67.7 L492.4,68.0 L493.9,68.2 L495.5,68.6 L497.0,68.9 L498.5,69.2 L500.1,69.5 L501.7,69.8 L503.2,70.1 L504.8,70.5 L506.4,70.8 L507.9,71.2 L509.4,71.5 L511.0,71.9 L512.5,72.3 L514.1,72.6 L515.7,73.0 L517.2,73.4 L518.8,73.8 L520.3,74.2 L521.9,74.6 L523.4,75.0 L525.0,75.5 L526.5,75.9 L528.1,76.3 L529.7,76.8 L531.2,77.3 L532.8,77.7 L534.4,78.2 L535.9,78.7 L537.5,79.2 L539.1,79.7 L540.6,80.2 L542.2,80.7 L543.7,81.2 L545.3,81.7 L546.9,82.3 L548.4,82.8 L550.0,83.4 L551.6,84.0 L553.1,84.6 L554.7,85.2 L556.3,85.7 L557.8,86.3 L559.4,87.0 L561.0,87.6 L562.6,88.2 L564.1,88.9 L565.7,89.5 L567.2,90.2 L568.8,90.9 L570.4,91.6 L571.9,92.3 L573.5,93.0 L575.1,93.7 L576.6,94.4 L578.2,95.1 L579.8,95.9 L581.3,96.6 L582.9,97.4 L584.5,98.2 L586.0,99.0 L587.6,99.8 L589.1,100.6 L590.7,101.4 L592.2,102.2 L593.8,103.1 L595.4,103.9 L596.9,104.8 L598.5,105.6 L600.0,106.5 L601.6,107.4 L603.1,108.3 L604.7,109.2 L606.2,110.1 L607.8,111.0 L609.3,111.9 L610.9,112.9 L612.4,113.8 L613.9,114.7 L615.5,115.7 L617.0,116.7 L618.6,117.6 L620.1,118.6 L621.6,119.6 L623.1,120.6 L624.7,121.6 L626.2,122.5 L627.7,123.5 L629.3,124.6 L630.8,125.6 L632.3,126.6 L633.8,127.6 L635.3,128.6 L636.8,129.6 L638.4,130.7 L639.9,131.7 L641.4,132.7 L642.9,133.7 L644.4,134.8 L645.9,135.8 L647.4,136.8 L648.9,137.9 L650.4,138.9 L651.9,139.9 L653.4,141.0 L654.9,142.0 L656.4,143.0 L657.9,144.1 L659.4,145.1 L660.8,146.1 L662.3,147.1 L663.8,148.2 L665.3,149.2 L666.8,150.2 L668.3,151.2 L669.8,152.2 L671.2,153.2 L672.7,154.2 L674.2,155.2 L675.7,156.2 L677.2,157.2 L678.6,158.2 L680.1,159.2 L681.6,160.2 L683.1,161.1 L684.5,162.1 L686.0,163.1 L687.5,164.0 L688.9,165.0 L690.4,165.9 L691.9,166.9 L693.4,167.8 L694.8,168.8 L696.4,169.7 L697.9,170.8 L699.5,171.8 L701.1,172.9 L702.8,174.0 L704.4,175.2 L706.0,176.4 L707.7,177.6 L709.4,178.9 L711.0,180.3 L712.7,181.6 L714.3,183.0 L715.9,184.5 L717.5,185.9 L719.1,187.4 L720.7,188.9 L722.3,190.4 L723.8,191.9 L725.3,193.4 L726.8,194.9 L728.3,196.4 L729.8,197.8 L731.2,199.2 L732.7,200.6 L734.1,201.9 L735.4,203.2 L736.7,204.4 L738.0,205.5 L739.3,206.6 L740.5,207.6 L741.8,208.5 L743.2,209.5 L744.6,210.5 L746.0,211.5 L747.4,212.4 L748.8,213.4 L750.2,214.3 L751.6,215.2 L752.9,216.0 L754.3,216.9 L755.7,217.7 L757.1,218.5 L758.4,219.3 L759.8,220.0 L761.1,220.7 L762.5,221.4 L763.8,222.1 L765.2,222.8 L766.5,223.4 L767.9,224.0 L769.2,224.6 L770.5,225.1 L771.8,225.7 L773.2,226.2 L774.5,226.7 L775.8,227.1 L777.1,227.5 L778.4,227.9 L779.7,228.3 L781.0,228.7 L782.3,229.0 L783.5,229.3 L784.8,229.6 L786.1,229.8 L787.4,230.1 L788.7,230.3 L789.9,230.4 L791.2,230.6 L792.5,230.7 L793.7,230.8 L795.0,230.9 L796.4,231.0 L795.8,249.7 L794.2,249.6 L792.6,249.6 L791.0,249.5 L789.3,249.3 L787.7,249.1 L786.1,248.9 L784.4,248.7 L782.8,248.4 L781.2,248.2 L779.6,247.8 L777.9,247.5 L776.3,247.1 L774.7,246.7 L773.1,246.2 L771.5,245.7 L769.9,245.2 L768.2,244.7 L766.6,244.2 L765.0,243.6 L763.4,242.9 L761.8,242.3 L760.2,241.6 L758.6,240.9 L757.1,240.2 L755.5,239.5 L753.9,238.7 L752.3,237.9 L750.7,237.1 L749.1,236.2 L747.6,235.4 L746.0,234.5 L744.4,233.6 L742.8,232.6 L741.3,231.7 L739.7,230.7 L738.1,229.7 L736.6,228.7 L735.0,227.7 L733.5,226.6 L731.9,225.5 L730.3,224.4 L728.7,223.2 L727.1,222.0 L725.4,220.6 L723.8,219.3 L722.2,217.9 L720.6,216.4 L719.1,215.0 L717.5,213.5 L716.0,212.0 L714.5,210.6 L713.0,209.1 L711.5,207.6 L710.0,206.2 L708.5,204.8 L707.0,203.4 L705.6,202.1 L704.1,200.7 L702.7,199.5 L701.2,198.2 L699.8,197.0 L698.4,195.9 L697.0,194.7 L695.6,193.7 L694.1,192.7 L692.7,191.7 L691.3,190.7 L689.8,189.8 L688.4,188.9 L686.9,187.9 L685.4,187.1 L683.9,186.2 L682.4,185.2 L680.9,184.3 L679.3,183.4 L677.8,182.5 L676.2,181.5 L674.7,180.6 L673.2,179.6 L671.6,178.7 L670.1,177.7 L668.6,176.8 L667.0,175.8 L665.5,174.8 L664.0,173.9 L662.4,172.9 L660.9,171.9 L659.4,170.9 L657.9,169.9 L656.3,169.0 L654.8,168.0 L653.3,167.0 L651.7,166.0 L650.2,165.0 L648.7,164.0 L647.2,163.0 L645.6,162.0 L644.1,161.1 L642.6,160.1 L641.1,159.1 L639.5,158.1 L638.0,157.1 L636.5,156.1 L635.0,155.1 L633.5,154.1 L631.9,153.2 L630.4,152.2 L628.9,151.2 L627.4,150.2 L625.9,149.3 L624.4,148.3 L622.9,147.4 L621.4,146.4 L619.9,145.4 L618.3,144.5 L616.8,143.6 L615.3,142.6 L613.8,141.7 L612.3,140.8 L610.8,139.9 L609.3,139.0 L607.8,138.1 L606.3,137.2 L604.8,136.3 L603.4,135.4 L601.9,134.6 L600.4,133.7 L598.9,132.9 L597.4,132.0 L595.9,131.2 L594.4,130.4 L592.9,129.6 L591.5,128.8 L590.0,128.0 L588.5,127.2 L587.0,126.4 L585.5,125.6 L584.1,124.9 L582.6,124.1 L581.1,123.4 L579.6,122.7 L578.2,122.0 L576.7,121.3 L575.2,120.6 L573.8,119.9 L572.3,119.2 L570.8,118.6 L569.4,117.9 L567.9,117.3 L566.4,116.6 L565.0,116.0 L563.5,115.4 L562.0,114.8 L560.6,114.2 L559.1,113.6 L557.6,113.0 L556.2,112.5 L554.7,111.9 L553.3,111.3 L551.8,110.7 L550.4,110.2 L548.9,109.6 L547.5,109.1 L546.0,108.6 L544.6,108.0 L543.1,107.5 L541.7,107.0 L540.2,106.5 L538.8,106.0 L537.3,105.5 L535.9,105.1 L534.4,104.6 L533.0,104.1 L531.5,103.7 L530.0,103.2 L528.6,102.8 L527.1,102.4 L525.7,102.0 L524.3,101.6 L522.8,101.1 L521.3,100.7 L519.9,100.4 L518.4,100.0 L517.0,99.6 L515.5,99.2 L514.0,98.8 L512.6,98.5 L511.1,98.1 L509.7,97.8 L508.2,97.4 L506.8,97.1 L505.3,96.8 L503.8,96.5 L502.4,96.2 L500.9,95.8 L499.5,95.5 L498.0,95.2 L496.5,94.9 L495.1,94.7 L493.6,94.4 L492.1,94.1 L490.7,93.8 L489.2,93.6 L487.8,93.3 L486.3,93.1 L484.8,92.8 L483.4,92.6 L481.9,92.3 L480.4,92.1 L479.0,91.9 L477.5,91.6 L476.0,91.4 L474.6,91.2 L473.1,91.0 L471.6,90.8 L470.2,90.6 L468.7,90.4 L467.2,90.2 L465.7,90.0 L464.3,89.8 L462.8,89.6 L461.3,89.4 L459.8,89.3 L458.4,89.1 L456.9,88.9 L455.4,88.8 L454.0,88.6 L452.5,88.5 L451.0,88.3 L449.5,88.1 L448.1,88.0 L446.6,87.9 L445.1,87.7 L443.6,87.6 L442.2,87.5 L440.7,87.3 L439.2,87.2 L437.7,87.1 L436.3,87.0 L434.8,86.9 L433.3,86.8 L431.8,86.6 L430.4,86.5 L428.9,86.4 L427.4,86.3 L425.9,86.3 L424.4,86.2 L423.0,86.1 L421.5,86.0 L420.0,85.9 L418.5,85.8 L417.1,85.7 L415.6,85.6 L414.1,85.6 L412.6,85.5 L411.1,85.4 L409.7,85.3 L408.2,85.3 L406.7,85.2 L405.2,85.1 L403.7,85.1 L402.3,85.0 L400.8,85.0 L399.3,84.9 L397.8,84.8 L396.3,84.8 L394.9,84.7 L393.4,84.7 L391.9,84.6 L390.4,84.6 L388.9,84.6 L387.4,84.5 L385.9,84.5 L384.4,84.5 L383.0,84.4 L381.5,84.4 L380.0,84.4 L378.5,84.4 L377.0,84.3 L375.5,84.3 L374.1,84.3 L372.6,84.3 L371.1,84.3 L369.6,84.2 L368.1,84.2 L366.6,84.2 L365.2,84.2 L363.7,84.2 L362.2,84.2 L360.7,84.2 L359.2,84.2 L357.7,84.2 L356.2,84.2 L354.7,84.2 L353.2,84.2 L351.7,84.2 L350.2,84.2 L348.7,84.2 L347.2,84.2 L345.7,84.2 L344.2,84.2 L342.7,84.2 L341.2,84.2 L339.7,84.2 L338.2,84.2 L336.7,84.2 L335.2,84.2 L333.7,84.2 L332.2,84.2 L330.7,84.2 L329.2,84.2 L327.7,84.2 L326.2,84.2 L324.7,84.2 L323.2,84.2 L321.7,84.2 L320.2,84.2 L318.7,84.2 L317.2,84.2 L315.7,84.2 L314.2,84.2 L312.7,84.2 L311.2,84.2 L309.7,84.2 L308.2,84.2 L306.6,84.2 L305.1,84.2 L303.6,84.2 L302.1,84.2 L300.6,84.2 L299.1,84.2 L297.6,84.2 L296.1,84.2 L294.6,84.2 L293.1,84.2 L291.6,84.2 L290.1,84.2 L288.6,84.2 L287.1,84.2 L285.6,84.2 L284.1,84.2 L282.6,84.2 L281.1,84.2 L279.6,84.2 L278.1,84.2 L276.6,84.2 L275.1,84.2 L273.6,84.2 L272.1,84.2 L270.6,84.2 L269.1,84.2 L267.6,84.2 L266.1,84.2 L264.6,84.2 L263.1,84.2 L261.6,84.2 L260.1,84.2 L258.6,84.2 L257.1,84.2 L255.6,84.2 L254.1,84.2 L252.6,84.2 L251.1,84.2 L249.6,84.2 L248.1,84.2 L246.6,84.2 L245.1,84.2 L243.6,84.2 L242.1,84.2 L240.6,84.2 L239.1,84.2 L237.6,84.2 L236.1,84.2 L234.6,84.2 L233.1,84.2 L231.6,84.2 L230.1,84.2 L228.6,84.2 L227.1,84.2 L225.6,84.2 L224.1,84.2 L222.6,84.2 L221.1,84.2 L219.6,84.2 L218.1,84.2 L216.6,84.2 L215.1,84.2 L213.6,84.2 L212.1,84.2 L210.6,84.2 L209.1,84.2 L207.6,84.2 L206.1,84.2 L204.6,84.2 L203.1,84.2 L201.6,84.2 L200.1,84.2 L198.6,84.2 L197.1,84.2 L195.6,84.2 L194.1,84.2 L192.6,84.2 L191.1,84.2 L189.6,84.2 L188.1,84.2 L186.6,84.2 L185.1,84.2 L183.6,84.2 L182.1,84.2 L180.6,84.2 L179.1,84.2 L177.6,84.2 L176.1,84.2 L174.6,84.2 L173.1,84.2 L171.6,84.2 L170.1,84.2 L168.6,84.2 L167.0,84.2 L165.5,84.2 L164.0,84.2 L162.5,84.2 L161.0,84.2 L159.5,84.2 L158.0,84.2 L156.5,84.2 L155.0,84.2 L153.5,84.2 L152.0,84.2 L150.5,84.2 L149.0,84.2 L147.5,84.2 L146.0,84.2 L144.5,84.2 L143.0,84.2 L141.5,84.2 L140.0,84.2 L138.5,84.2 L137.0,84.2 L135.5,84.2 L134.0,84.2 L132.5,84.2 L131.0,84.2 L129.5,84.2 L128.0,84.2 L126.5,84.2 L125.0,84.2 L123.5,84.2 L122.0,84.2 L120.5,84.2 L119.0,84.2 L117.5,84.2 L116.0,84.2 L114.5,84.2 L113.0,84.2 L111.5,84.2 L110.0,84.2 L108.5,84.2 L107.0,84.2 L105.5,84.2 L104.0,84.2 L102.5,84.2 L101.0,84.2 L99.5,84.2 L98.0,84.2 A13.3,13.3 0 0 1 98.0,57.5 Z" fill="url(#hg)"/><path d="M796.4,231.0 L795.0,230.9 L793.7,230.8 L792.5,230.7 L791.2,230.6 L789.9,230.4 L788.7,230.3 L787.4,230.1 L786.1,229.8 L784.8,229.6 L783.5,229.3 L782.3,229.0 L781.0,228.7 L779.7,228.3 L778.4,227.9 L777.1,227.5 L775.8,227.1 L774.5,226.7 L773.2,226.2 L771.8,225.7 L770.5,225.1 L769.2,224.6 L767.9,224.0 L766.5,223.4 L765.2,222.8 L763.8,222.1 L762.5,221.4 L761.1,220.7 L759.8,220.0 L758.4,219.3 L757.1,218.5 L755.7,217.7 L754.3,216.9 L752.9,216.0 L751.6,215.2 L750.2,214.3 L748.8,213.4 L747.4,212.4 L746.0,211.5 L744.6,210.5 L743.2,209.5 L741.8,208.5 L740.5,207.6 L739.3,206.6 L738.0,205.5 L736.7,204.4 L735.4,203.2 L734.1,201.9 L732.7,200.6 L731.2,199.2 L729.8,197.8 L728.3,196.4 L726.8,194.9 L725.3,193.4 L723.8,191.9 L722.3,190.4 L720.7,188.9 L719.1,187.4 L717.5,185.9 L715.9,184.5 L714.3,183.0 L712.7,181.6 L711.0,180.3 L709.4,178.9 L707.7,177.6 L706.0,176.4 L704.4,175.2 L702.8,174.0 L701.1,172.9 L699.5,171.8 L697.9,170.8 L696.4,169.7 L694.8,168.8 L693.4,167.8 L691.9,166.9 L690.4,165.9 L688.9,165.0 L687.5,164.0 L686.0,163.1 L684.5,162.1 L683.1,161.1 L681.6,160.2 L680.1,159.2 L678.6,158.2 L677.2,157.2 L675.7,156.2 L674.2,155.2 L672.7,154.2 L671.2,153.2 L669.8,152.2 L668.3,151.2 L666.8,150.2 L665.3,149.2 L663.8,148.2 L662.3,147.1 L660.8,146.1 L659.4,145.1 L657.9,144.1 L656.4,143.0 L654.9,142.0 L653.4,141.0 L651.9,139.9 L650.4,138.9 L648.9,137.9 L647.4,136.8 L645.9,135.8 L644.4,134.8 L642.9,133.7 L641.4,132.7 L639.9,131.7 L638.4,130.7 L636.8,129.6 L635.3,128.6 L633.8,127.6 L632.3,126.6 L630.8,125.6 L629.3,124.6 L627.7,123.5 L626.2,122.5 L624.7,121.6 L623.1,120.6 L621.6,119.6 L620.1,118.6 L618.6,117.6 L617.0,116.7 L615.5,115.7 L613.9,114.7 L612.4,113.8 L610.9,112.9 L609.3,111.9 L607.8,111.0 L606.2,110.1 L604.7,109.2 L603.1,108.3 L601.6,107.4 L600.0,106.5 L598.5,105.6 L596.9,104.8 L595.4,103.9 L593.8,103.1 L592.2,102.2 L590.7,101.4 L589.1,100.6 L587.6,99.8 L586.0,99.0 L584.5,98.2 L582.9,97.4 L581.3,96.6 L579.8,95.9 L578.2,95.1 L576.6,94.4 L575.1,93.7 L573.5,93.0 L571.9,92.3 L570.4,91.6 L568.8,90.9 L567.2,90.2 L565.7,89.5 L564.1,88.9 L562.6,88.2 L561.0,87.6 L559.4,87.0 L557.8,86.3 L556.3,85.7 L554.7,85.2 L553.1,84.6 L551.6,84.0 L550.0,83.4 L548.4,82.8 L546.9,82.3 L545.3,81.7 L543.7,81.2 L542.2,80.7 L540.6,80.2 L539.1,79.7 L537.5,79.2 L535.9,78.7 L534.4,78.2 L532.8,77.7 L531.2,77.3 L529.7,76.8 L528.1,76.3 L526.5,75.9 L525.0,75.5 L523.4,75.0 L521.9,74.6 L520.3,74.2 L518.8,73.8 L517.2,73.4 L515.7,73.0 L514.1,72.6 L512.5,72.3 L511.0,71.9 L509.4,71.5 L507.9,71.2 L506.4,70.8 L504.8,70.5 L503.2,70.1 L501.7,69.8 L500.1,69.5 L498.5,69.2 L497.0,68.9 L495.5,68.6 L493.9,68.2 L492.4,68.0 L490.8,67.7 L489.3,67.4 L487.7,67.1 L486.2,66.8 L484.6,66.6 L483.1,66.3 L481.6,66.0 L480.0,65.8 L478.4,65.5 L476.9,65.3 L475.4,65.1 L473.8,64.8 L472.3,64.6 L470.8,64.4 L469.2,64.1 L467.7,63.9 L466.1,63.7 L464.6,63.5 L463.1,63.3 L461.5,63.1 L460.0,62.9 L458.5,62.7 L456.9,62.5 L455.3,62.4 L453.8,62.2 L452.3,62.0 L450.8,61.8 L449.2,61.7 L447.7,61.5 L446.2,61.3 L444.6,61.2 L443.1,61.0 L441.5,60.9 L440.0,60.7 L438.5,60.6 L436.9,60.5 L435.4,60.3 L433.9,60.2 L432.4,60.1 L430.8,59.9 L429.3,59.8 L427.8,59.7 L426.3,59.6 L424.7,59.5 L423.2,59.4 L421.7,59.3 L420.2,59.2 L418.6,59.1 L417.0,59.0 L415.5,58.9 L414.0,58.8 L412.5,58.7 L410.9,58.7 L409.4,58.6 L407.9,58.5 L406.4,58.5 L404.8,58.4 L403.3,58.3 L401.8,58.3 L400.3,58.2 L398.8,58.2 L397.2,58.1 L395.7,58.1 L394.2,58.0 L392.7,58.0 L391.1,57.9 L389.6,57.9 L388.1,57.8 L386.6,57.8 L385.1,57.8 L383.5,57.7 L382.0,57.7 L380.4,57.7 L378.9,57.7 L377.4,57.6 L375.9,57.6 L374.4,57.6 L372.8,57.6 L371.3,57.6 L369.8,57.5 L368.3,57.5 L366.8,57.5 L365.2,57.5 L363.7,57.5 L362.2,57.5 L360.7,57.5 L359.2,57.5 L357.7,57.5 L356.2,57.5 L354.7,57.5 L353.2,57.5 L351.7,57.5 L350.2,57.5 L348.7,57.5 L347.2,57.5 L345.7,57.5 L344.2,57.5 L342.7,57.5 L341.2,57.5 L339.7,57.5 L338.2,57.5 L336.7,57.5 L335.2,57.5 L333.7,57.5 L332.2,57.5 L330.7,57.5 L329.2,57.5 L327.7,57.5 L326.2,57.5 L324.7,57.5 L323.2,57.5 L321.7,57.5 L320.2,57.5 L318.7,57.5 L317.2,57.5 L315.7,57.5 L314.2,57.5 L312.7,57.5 L311.2,57.5 L309.7,57.5 L308.2,57.5 L306.6,57.5 L305.1,57.5 L303.6,57.5 L302.1,57.5 L300.6,57.5 L299.1,57.5 L297.6,57.5 L296.1,57.5 L294.6,57.5 L293.1,57.5 L291.6,57.5 L290.1,57.5 L288.6,57.5 L287.1,57.5 L285.6,57.5 L284.1,57.5 L282.6,57.5 L281.1,57.5 L279.6,57.5 L278.1,57.5 L276.6,57.5 L275.1,57.5 L273.6,57.5 L272.1,57.5 L270.6,57.5 L269.1,57.5 L267.6,57.5 L266.1,57.5 L264.6,57.5 L263.1,57.5 L261.6,57.5 L260.1,57.5 L258.6,57.5 L257.1,57.5 L255.6,57.5 L254.1,57.5 L252.6,57.5 L251.1,57.5 L249.6,57.5 L248.1,57.5 L246.6,57.5 L245.1,57.5 L243.6,57.5 L242.1,57.5 L240.6,57.5 L239.1,57.5 L237.6,57.5 L236.1,57.5 L234.6,57.5 L233.1,57.5 L231.6,57.5 L230.1,57.5 L228.6,57.5 L227.1,57.5 L225.6,57.5 L224.1,57.5 L222.6,57.5 L221.1,57.5 L219.6,57.5 L218.1,57.5 L216.6,57.5 L215.1,57.5 L213.6,57.5 L212.1,57.5 L210.6,57.5 L209.1,57.5 L207.6,57.5 L206.1,57.5 L204.6,57.5 L203.1,57.5 L201.6,57.5 L200.1,57.5 L198.6,57.5 L197.1,57.5 L195.6,57.5 L194.1,57.5 L192.6,57.5 L191.1,57.5 L189.6,57.5 L188.1,57.5 L186.6,57.5 L185.1,57.5 L183.6,57.5 L182.1,57.5 L180.6,57.5 L179.1,57.5 L177.6,57.5 L176.1,57.5 L174.6,57.5 L173.1,57.5 L171.6,57.5 L170.1,57.5 L168.6,57.5 L167.0,57.5 L165.5,57.5 L164.0,57.5 L162.5,57.5 L161.0,57.5 L159.5,57.5 L158.0,57.5 L156.5,57.5 L155.0,57.5 L153.5,57.5 L152.0,57.5 L150.5,57.5 L149.0,57.5 L147.5,57.5 L146.0,57.5 L144.5,57.5 L143.0,57.5 L141.5,57.5 L140.0,57.5 L138.5,57.5 L137.0,57.5 L135.5,57.5 L134.0,57.5 L132.5,57.5 L131.0,57.5 L129.5,57.5 L128.0,57.5 L126.5,57.5 L125.0,57.5 L123.5,57.5 L122.0,57.5 L120.5,57.5 L119.0,57.5 L117.5,57.5 L116.0,57.5 L114.5,57.5 L113.0,57.5 L111.5,57.5 L110.0,57.5 L108.5,57.5 L107.0,57.5 L105.5,57.5 L104.0,57.5 L102.5,57.5 L101.0,57.5 L99.5,57.5 L98.0,57.5 A15.0,15.0 0 0 0 98.0,87.5 L99.5,87.5 L101.0,87.5 L102.5,87.5 L104.0,87.5 L105.5,87.5 L107.0,87.5 L108.5,87.5 L110.0,87.5 L111.5,87.5 L113.0,87.5 L114.5,87.5 L116.0,87.5 L117.5,87.5 L119.0,87.5 L120.5,87.5 L122.0,87.5 L123.5,87.5 L125.0,87.5 L126.5,87.5 L128.0,87.5 L129.5,87.5 L131.0,87.5 L132.5,87.5 L134.0,87.5 L135.5,87.5 L137.0,87.5 L138.5,87.5 L140.0,87.5 L141.5,87.5 L143.0,87.5 L144.5,87.5 L146.0,87.5 L147.5,87.5 L149.0,87.5 L150.5,87.5 L152.0,87.5 L153.5,87.5 L155.0,87.5 L156.5,87.5 L158.0,87.5 L159.5,87.5 L161.0,87.5 L162.5,87.5 L164.0,87.5 L165.5,87.5 L167.0,87.5 L168.6,87.5 L170.1,87.5 L171.6,87.5 L173.1,87.5 L174.6,87.5 L176.1,87.5 L177.6,87.5 L179.1,87.5 L180.6,87.5 L182.1,87.5 L183.6,87.5 L185.1,87.5 L186.6,87.5 L188.1,87.5 L189.6,87.5 L191.1,87.5 L192.6,87.5 L194.1,87.5 L195.6,87.5 L197.1,87.5 L198.6,87.5 L200.1,87.5 L201.6,87.5 L203.1,87.5 L204.6,87.5 L206.1,87.5 L207.6,87.5 L209.1,87.5 L210.6,87.5 L212.1,87.5 L213.6,87.5 L215.1,87.5 L216.6,87.5 L218.1,87.5 L219.6,87.5 L221.1,87.5 L222.6,87.5 L224.1,87.5 L225.6,87.5 L227.1,87.5 L228.6,87.5 L230.1,87.5 L231.6,87.5 L233.1,87.5 L234.6,87.5 L236.1,87.5 L237.6,87.5 L239.1,87.5 L240.6,87.5 L242.1,87.5 L243.6,87.5 L245.1,87.5 L246.6,87.5 L248.1,87.5 L249.6,87.5 L251.1,87.5 L252.6,87.5 L254.1,87.5 L255.6,87.5 L257.1,87.5 L258.6,87.5 L260.1,87.5 L261.6,87.5 L263.1,87.5 L264.6,87.5 L266.1,87.5 L267.6,87.5 L269.1,87.5 L270.6,87.5 L272.1,87.5 L273.6,87.5 L275.1,87.5 L276.6,87.5 L278.1,87.5 L279.6,87.5 L281.1,87.5 L282.6,87.5 L284.1,87.5 L285.6,87.5 L287.1,87.5 L288.6,87.5 L290.1,87.5 L291.6,87.5 L293.1,87.5 L294.6,87.5 L296.1,87.5 L297.6,87.5 L299.1,87.5 L300.6,87.5 L302.1,87.5 L303.6,87.5 L305.1,87.5 L306.6,87.5 L308.2,87.5 L309.7,87.5 L311.2,87.5 L312.7,87.5 L314.2,87.5 L315.7,87.5 L317.2,87.5 L318.7,87.5 L320.2,87.5 L321.7,87.5 L323.2,87.5 L324.7,87.5 L326.2,87.5 L327.7,87.5 L329.2,87.5 L330.7,87.5 L332.2,87.5 L333.7,87.5 L335.2,87.5 L336.7,87.5 L338.2,87.5 L339.7,87.5 L341.2,87.5 L342.7,87.5 L344.2,87.5 L345.7,87.5 L347.2,87.5 L348.7,87.5 L350.2,87.5 L351.7,87.5 L353.2,87.5 L354.7,87.5 L356.2,87.5 L357.7,87.5 L359.2,87.5 L360.7,87.5 L362.1,87.5 L363.6,87.5 L365.1,87.5 L366.6,87.5 L368.1,87.5 L369.5,87.5 L371.1,87.6 L372.6,87.6 L374.0,87.6 L375.5,87.6 L377.0,87.6 L378.5,87.7 L380.0,87.7 L381.4,87.7 L382.9,87.7 L384.4,87.8 L385.9,87.8 L387.4,87.8 L388.8,87.9 L390.3,87.9 L391.8,87.9 L393.3,88.0 L394.8,88.0 L396.2,88.1 L397.7,88.1 L399.1,88.2 L400.6,88.2 L402.1,88.3 L403.6,88.4 L405.0,88.4 L406.5,88.5 L408.0,88.6 L409.5,88.6 L411.0,88.7 L412.4,88.8 L413.9,88.9 L415.4,88.9 L416.9,89.0 L418.3,89.1 L419.8,89.2 L421.3,89.3 L422.8,89.4 L424.2,89.4 L425.7,89.5 L427.2,89.6 L428.7,89.7 L430.1,89.8 L431.6,89.9 L433.1,90.0 L434.6,90.1 L436.0,90.2 L437.4,90.4 L438.9,90.5 L440.4,90.6 L441.9,90.7 L443.3,90.8 L444.8,91.0 L446.3,91.1 L447.7,91.2 L449.2,91.4 L450.7,91.5 L452.2,91.7 L453.6,91.8 L455.1,92.0 L456.6,92.1 L458.0,92.3 L459.5,92.5 L460.9,92.6 L462.4,92.8 L463.9,93.0 L465.3,93.2 L466.8,93.4 L468.3,93.6 L469.7,93.7 L471.1,93.9 L472.6,94.2 L474.1,94.4 L475.5,94.6 L477.0,94.8 L478.5,95.0 L479.9,95.2 L481.3,95.5 L482.8,95.7 L484.3,95.9 L485.7,96.2 L487.2,96.4 L488.7,96.7 L490.1,97.0 L491.5,97.2 L493.0,97.5 L494.4,97.8 L495.9,98.1 L497.4,98.4 L498.8,98.6 L500.2,98.9 L501.7,99.2 L503.2,99.5 L504.6,99.9 L506.1,100.2 L507.5,100.5 L508.9,100.8 L510.4,101.2 L511.8,101.5 L513.3,101.9 L514.7,102.3 L516.2,102.6 L517.6,103.0 L519.1,103.4 L520.5,103.8 L521.9,104.1 L523.4,104.6 L524.8,105.0 L526.2,105.4 L527.7,105.8 L529.1,106.2 L530.6,106.7 L532.0,107.1 L533.4,107.5 L534.9,108.0 L536.3,108.5 L537.7,109.0 L539.2,109.4 L540.6,109.9 L542.1,110.4 L543.5,110.9 L544.9,111.4 L546.4,112.0 L547.8,112.5 L549.3,113.1 L550.7,113.6 L552.1,114.2 L553.6,114.7 L555.0,115.3 L556.4,115.9 L557.9,116.5 L559.3,117.1 L560.7,117.7 L562.2,118.3 L563.6,119.0 L565.0,119.6 L566.5,120.3 L567.9,120.9 L569.4,121.6 L570.8,122.3 L572.2,123.0 L573.7,123.7 L575.1,124.4 L576.6,125.1 L578.0,125.8 L579.5,126.6 L580.9,127.3 L582.3,128.1 L583.8,128.9 L585.2,129.7 L586.7,130.4 L588.1,131.2 L589.6,132.1 L591.0,132.9 L592.5,133.7 L593.9,134.5 L595.4,135.4 L596.9,136.2 L598.3,137.1 L599.8,138.0 L601.3,138.9 L602.7,139.8 L604.2,140.7 L605.7,141.6 L607.1,142.5 L608.6,143.4 L610.1,144.3 L611.5,145.3 L613.0,146.2 L614.5,147.2 L616.0,148.1 L617.5,149.1 L618.9,150.0 L620.4,151.0 L621.9,152.0 L623.4,153.0 L624.9,154.0 L626.4,154.9 L627.9,155.9 L629.4,156.9 L630.9,157.9 L632.4,158.9 L633.9,160.0 L635.4,161.0 L636.9,162.0 L638.4,163.0 L639.9,164.0 L641.4,165.0 L642.9,166.0 L644.4,167.0 L645.9,168.0 L647.5,169.1 L649.0,170.1 L650.5,171.1 L652.0,172.1 L653.5,173.1 L655.1,174.1 L656.6,175.1 L658.1,176.1 L659.6,177.1 L661.1,178.1 L662.7,179.1 L664.2,180.1 L665.7,181.1 L667.2,182.1 L668.8,183.1 L670.3,184.1 L671.8,185.0 L673.4,186.0 L674.9,187.0 L676.4,187.9 L678.0,188.9 L679.5,189.9 L681.0,190.8 L682.5,191.7 L683.9,192.6 L685.3,193.5 L686.7,194.4 L688.1,195.3 L689.5,196.3 L690.8,197.2 L692.2,198.2 L693.5,199.2 L694.8,200.3 L696.2,201.4 L697.6,202.5 L698.9,203.7 L700.3,204.9 L701.7,206.2 L703.2,207.5 L704.6,208.9 L706.1,210.2 L707.5,211.7 L709.0,213.1 L710.6,214.6 L712.1,216.0 L713.7,217.5 L715.2,219.0 L716.8,220.5 L718.5,222.0 L720.2,223.5 L721.9,224.9 L723.6,226.3 L725.4,227.7 L727.1,228.9 L728.7,230.1 L730.3,231.1 L731.9,232.2 L733.5,233.3 L735.1,234.3 L736.8,235.3 L738.4,236.3 L740.0,237.3 L741.6,238.3 L743.2,239.2 L744.9,240.1 L746.5,241.0 L748.1,241.9 L749.8,242.7 L751.4,243.6 L753.1,244.4 L754.8,245.1 L756.4,245.9 L758.1,246.6 L759.8,247.3 L761.4,248.0 L763.1,248.6 L764.8,249.2 L766.5,249.8 L768.2,250.4 L769.9,250.9 L771.6,251.4 L773.3,251.8 L775.0,252.3 L776.7,252.7 L778.4,253.1 L780.2,253.4 L781.9,253.7 L783.6,254.0 L785.3,254.2 L787.1,254.4 L788.8,254.6 L790.5,254.7 L792.3,254.9 L794.0,254.9 L795.6,255.0" fill="none" stroke="#3d3d3d" stroke-width="1"/><g clip-path="url(#bc151)"><rect x="151.3" y="64" width="35.4" height="94" fill="#f37a22"/><path d="M151.3,158 L151.3,64.0 L160.4,64.0 L160.4,158 Z" fill="#f8a152"/><path d="M177.6,158 L177.6,64.0 L186.7,64.0 L186.7,158 Z" fill="#e94b0c"/><rect x="151.3" y="158" width="35.4" height="87" fill="#f7931e"/><path d="M151.3,245 L151.3,158.0 L160.4,158.0 L160.4,245 Z" fill="#fbbd55"/><path d="M177.6,245 L177.6,158.0 L186.7,158.0 L186.7,245 Z" fill="#f2680f"/></g><path d="M151.3,245 L151.3,78 Q151.3,72 157.3,72 L180.70000000000002,72 Q186.70000000000002,72 186.70000000000002,78 L186.70000000000002,245" fill="none" stroke="#5a3010" stroke-width="0.9"/><line x1="151.3" y1="158" x2="186.70000000000002" y2="158" stroke="#3a2010" stroke-width="0.9"/><text x="169.0" y="127.0" font-family='"Liberation Sans", sans-serif' font-size="22" fill="#fff" text-anchor="middle">G</text><text x="169.0" y="200.5" font-family='"Liberation Sans", sans-serif' font-size="22" fill="#fff" text-anchor="middle">C</text><g clip-path="url(#bc249)"><rect x="249.8" y="62.8" width="35.4" height="95.2" fill="#f7931e"/><path d="M249.8,158 L249.8,62.8 L258.9,62.8 L258.9,158 Z" fill="#fbbd55"/><path d="M276.1,158 L276.1,62.8 L285.2,62.8 L285.2,158 Z" fill="#f2680f"/><rect x="249.8" y="158" width="35.4" height="87" fill="#f37a22"/><path d="M249.8,245 L249.8,158.0 L258.9,158.0 L258.9,245 Z" fill="#f8a152"/><path d="M276.1,245 L276.1,158.0 L285.2,158.0 L285.2,245 Z" fill="#e94b0c"/></g><path d="M249.8,245 L249.8,76.8 Q249.8,70.8 255.8,70.8 L279.2,70.8 Q285.2,70.8 285.2,76.8 L285.2,245" fill="none" stroke="#5a3010" stroke-width="0.9"/><line x1="249.8" y1="158" x2="285.2" y2="158" stroke="#3a2010" stroke-width="0.9"/><text x="267.5" y="127.0" font-family='"Liberation Sans", sans-serif' font-size="22" fill="#fff" text-anchor="middle">C</text><text x="267.5" y="200.5" font-family='"Liberation Sans", sans-serif' font-size="22" fill="#fff" text-anchor="middle">G</text><g clip-path="url(#bc348)"><rect x="348.3" y="62.5" width="35.4" height="95.5" fill="#a474b9"/><path d="M348.3,158 L348.3,62.5 L357.4,62.5 L357.4,158 Z" fill="#c9a2d6"/><path d="M374.6,158 L374.6,62.5 L383.7,62.5 L383.7,158 Z" fill="#7b4991"/><rect x="348.3" y="158" width="35.4" height="87" fill="#5263ad"/><path d="M348.3,245 L348.3,158.0 L357.4,158.0 L357.4,245 Z" fill="#8b9ad0"/><path d="M374.6,245 L374.6,158.0 L383.7,158.0 L383.7,245 Z" fill="#2b3a8a"/></g><path d="M348.3,245 L348.3,76.5 Q348.3,70.5 354.3,70.5 L377.7,70.5 Q383.7,70.5 383.7,76.5 L383.7,245" fill="none" stroke="#5a3010" stroke-width="0.9"/><line x1="348.3" y1="158" x2="383.7" y2="158" stroke="#3a2010" stroke-width="0.9"/><text x="366.0" y="127.0" font-family='"Liberation Sans", sans-serif' font-size="22" fill="#fff" text-anchor="middle">T</text><text x="366.0" y="200.5" font-family='"Liberation Sans", sans-serif' font-size="22" fill="#fff" text-anchor="middle">A</text><g clip-path="url(#bc446)"><rect x="446.3" y="72" width="35.4" height="86" fill="#f7931e"/><path d="M446.3,158 L446.3,72.0 L455.4,72.9 L455.4,158 Z" fill="#fbbd55"/><path d="M472.6,158 L472.6,74.6 L481.7,75.5 L481.7,158 Z" fill="#f2680f"/><rect x="446.3" y="158" width="35.4" height="82" fill="#f37a22"/><path d="M446.3,240 L446.3,158.0 L455.4,158.0 L455.4,240 Z" fill="#f8a152"/><path d="M472.6,240 L472.6,158.0 L481.7,158.0 L481.7,240 Z" fill="#e94b0c"/></g><path d="M446.3,240 L446.3,86 Q446.3,80 452.3,80 L475.7,83.5 Q481.7,83.5 481.7,89.5 L481.7,240" fill="none" stroke="#5a3010" stroke-width="0.9"/><line x1="446.3" y1="158" x2="481.7" y2="158" stroke="#3a2010" stroke-width="0.9"/><text x="464.0" y="127.0" font-family='"Liberation Sans", sans-serif' font-size="22" fill="#fff" text-anchor="middle">C</text><text x="464.0" y="200.5" font-family='"Liberation Sans", sans-serif' font-size="22" fill="#fff" text-anchor="middle">G</text><rect x="262.4" y="30" width="8.8" height="31.5" rx="4" fill="#f07524" stroke="#6a3010" stroke-width="0.9"/><circle cx="266.8" cy="21.5" r="17.7" fill="#f07524" stroke="#6a3010" stroke-width="0.9"/><text x="266.8" y="29.8" font-family='"Liberation Sans", sans-serif' font-size="23" fill="#111" text-anchor="middle">M</text><g clip-path="url(#clipL)"><path d="M103.5,237.5 L105.0,237.5 L106.5,237.4 L108.0,237.3 L109.5,237.3 L111.0,237.2 L112.5,237.2 L114.0,237.1 L115.5,237.0 L117.0,237.0 L118.5,236.9 L120.0,236.9 L121.5,236.8 L123.0,236.7 L124.5,236.7 L126.0,236.6 L127.5,236.6 L129.0,236.5 L130.5,236.5 L132.0,236.4 L133.5,236.3 L135.0,236.3 L136.5,236.2 L138.0,236.2 L139.5,236.1 L141.0,236.0 L142.5,236.0 L144.0,235.9 L145.5,235.9 L147.0,235.8 L148.5,235.8 L150.0,235.7 L151.5,235.6 L153.0,235.6 L154.5,235.5 L156.0,235.5 L157.5,235.4 L159.0,235.3 L160.5,235.3 L162.0,235.2 L163.5,235.2 L165.0,235.1 L166.5,235.0 L168.0,235.0 L169.5,234.9 L171.0,234.9 L172.5,234.8 L174.0,234.8 L175.5,234.7 L177.0,234.6 L178.5,234.6 L180.0,234.5 L181.5,234.5 L183.0,234.4 L184.5,234.3 L186.0,234.3 L187.5,234.2 L189.0,234.2 L190.5,234.1 L192.0,234.1 L193.5,234.0 L195.0,233.9 L196.5,233.9 L198.0,233.8 L199.7,233.8 L201.3,233.7 L202.8,233.7 L204.3,233.6 L205.8,233.6 L207.3,233.6 L208.8,233.5 L210.3,233.5 L211.8,233.5 L213.3,233.4 L214.8,233.4 L216.3,233.4 L217.8,233.3 L219.3,233.3 L220.8,233.3 L222.3,233.2 L223.8,233.2 L225.3,233.2 L226.8,233.1 L228.3,233.1 L229.8,233.1 L231.3,233.0 L232.8,233.0 L234.3,233.0 L235.8,232.9 L237.3,232.9 L238.8,232.8 L240.3,232.8 L241.8,232.8 L243.3,232.7 L244.8,232.7 L246.3,232.7 L247.8,232.6 L249.3,232.6 L250.8,232.6 L252.3,232.5 L253.8,232.5 L255.3,232.5 L256.8,232.4 L258.3,232.4 L259.8,232.4 L261.3,232.3 L262.8,232.3 L264.3,232.3 L265.8,232.2 L267.3,232.2 L268.8,232.2 L270.3,232.1 L271.8,232.1 L273.3,232.1 L274.8,232.0 L276.3,232.0 L277.8,232.0 L279.3,231.9 L280.8,231.9 L282.3,231.9 L283.8,231.8 L285.3,231.8 L286.8,231.8 L288.3,231.7 L289.8,231.7 L291.3,231.7 L292.8,231.6 L294.3,231.6 L295.8,231.6 L297.3,231.5 L298.8,231.5 L300.3,231.5 L301.8,231.4 L303.3,231.4 L304.8,231.4 L306.3,231.3 L307.8,231.3 L309.3,231.3 L310.8,231.2 L312.3,231.2 L313.8,231.2 L315.3,231.1 L316.8,231.1 L318.3,231.1 L319.8,231.0 L321.3,231.0 L322.8,230.9 L324.3,230.9 L325.8,230.9 L327.3,230.8 L328.8,230.8 L330.3,230.8 L331.8,230.7 L333.3,230.7 L334.8,230.7 L336.3,230.6 L337.8,230.6 L339.3,230.6 L340.8,230.5 L342.4,230.5 L343.9,230.5 L345.3,230.4 L346.8,230.4 L348.3,230.3 L349.8,230.3 L351.3,230.3 L352.9,230.2 L354.3,230.2 L355.8,230.2 L357.3,230.1 L358.8,230.1 L360.3,230.0 L361.8,230.0 L363.3,230.0 L364.8,229.9 L366.3,229.9 L367.8,229.9 L369.3,229.8 L370.8,229.8 L372.3,229.7 L373.8,229.7 L375.3,229.7 L376.8,229.6 L378.3,229.6 L379.8,229.5 L381.3,229.5 L382.8,229.5 L384.3,229.4 L385.8,229.4 L387.3,229.3 L388.8,229.3 L390.3,229.2 L391.8,229.2 L393.3,229.2 L394.8,229.1 L396.3,229.1 L397.8,229.0 L399.3,229.0 L400.8,228.9 L402.3,228.9 L403.8,228.8 L405.3,228.8 L406.8,228.7 L408.3,228.7 L409.8,228.7 L411.3,228.6 L412.8,228.6 L414.3,228.5 L415.8,228.5 L417.3,228.4 L418.8,228.4 L420.3,228.3 L421.8,228.3 L423.3,228.2 L424.7,228.2 L426.2,228.1 L427.7,228.1 L429.2,228.0 L430.7,228.0 L432.2,227.9 L433.7,227.9 L435.2,227.8 L436.7,227.7 L438.2,227.7 L439.7,227.6 L441.2,227.6 L442.7,227.5 L444.2,227.5 L445.7,227.4 L447.1,227.3 L448.6,227.3 L450.1,227.2 L451.6,227.2 L453.1,227.1 L454.6,227.0 L456.1,227.0 L457.6,226.9 L459.1,226.8 L460.6,226.8 L462.1,226.7 L463.6,226.6 L465.0,226.5 L466.5,226.5 L468.0,226.4 L469.5,226.3 L471.0,226.2 L472.5,226.1 L474.0,226.1 L475.5,226.0 L476.9,225.9 L478.4,225.8 L479.9,225.7 L481.4,225.6 L482.9,225.5 L484.4,225.4 L485.8,225.3 L487.3,225.2 L488.8,225.1 L490.3,225.0 L491.8,224.9 L493.3,224.8 L494.7,224.7 L496.2,224.6 L497.7,224.5 L499.2,224.4 L500.6,224.2 L502.1,224.1 L503.6,224.0 L505.1,223.9 L506.5,223.7 L508.0,223.6 L509.5,223.4 L511.0,223.3 L512.4,223.2 L513.9,223.0 L515.4,222.9 L516.8,222.7 L518.3,222.5 L519.8,222.4 L521.2,222.2 L522.7,222.0 L524.2,221.9 L525.6,221.7 L527.1,221.5 L528.6,221.3 L530.0,221.1 L531.5,220.9 L532.9,220.7 L534.4,220.5 L535.9,220.3 L537.3,220.1 L538.8,219.9 L540.2,219.6 L541.7,219.4 L543.1,219.2 L544.6,218.9 L546.0,218.7 L547.5,218.4 L548.9,218.2 L550.4,217.9 L551.8,217.6 L553.2,217.3 L554.7,217.0 L556.1,216.7 L557.6,216.4 L559.0,216.1 L560.5,215.8 L561.9,215.5 L563.4,215.2 L564.8,214.8 L566.2,214.5 L567.7,214.1 L569.1,213.7 L570.6,213.4 L572.0,213.0 L573.4,212.6 L574.9,212.2 L576.3,211.8 L577.7,211.4 L579.2,211.0 L580.6,210.6 L582.1,210.2 L583.5,209.7 L585.0,209.3 L586.4,208.8 L587.8,208.3 L589.3,207.9 L590.7,207.4 L592.2,206.9 L593.6,206.4 L595.1,205.9 L596.5,205.4 L598.0,204.9 L599.4,204.4 L600.9,203.8 L602.4,203.3 L603.8,202.7 L605.3,202.2 L606.7,201.6 L608.2,201.1 L609.7,200.5 L611.2,199.9 L612.6,199.3 L614.1,198.8 L615.6,198.2 L617.0,197.6 L618.5,197.0 L620.0,196.4 L621.4,195.7 L622.9,195.1 L624.4,194.5 L625.9,193.9 L627.4,193.3 L628.8,192.6 L630.3,192.0 L631.8,191.4 L633.3,190.7 L634.8,190.1 L636.3,189.4 L637.8,188.8 L639.3,188.1 L640.8,187.5 L642.2,186.8 L643.7,186.1 L645.2,185.5 L646.7,184.8 L648.2,184.2 L649.7,183.5 L651.2,182.8 L652.7,182.2 L654.2,181.5 L655.7,180.8 L657.2,180.1 L658.7,179.5 L660.2,178.8 L661.7,178.1 L663.2,177.5 L664.7,176.8 L666.2,176.1 L667.7,175.4 L669.2,174.7 L670.7,174.1 L672.2,173.4 L673.7,172.7 L675.2,172.0 L676.7,171.4 L678.3,170.7 L679.8,170.0 L681.3,169.3 L682.7,168.7 L684.0,168.1 L685.3,167.4 L686.6,166.8 L687.9,166.1 L689.2,165.4 L690.4,164.7 L691.6,163.9 L692.9,163.1 L694.1,162.2 L695.4,161.3 L696.7,160.3 L698.0,159.2 L699.3,158.1 L700.6,156.9 L702.0,155.7 L703.4,154.4 L704.8,153.0 L706.2,151.6 L707.7,150.2 L709.1,148.7 L710.6,147.2 L712.2,145.6 L713.7,144.1 L715.3,142.5 L716.9,141.0 L718.6,139.4 L720.3,137.9 L722.0,136.4 L723.9,134.9 L725.8,133.5 L727.6,132.2 L729.2,131.2 L730.8,130.1 L732.4,129.1 L734.0,128.1 L735.6,127.1 L737.2,126.2 L738.8,125.2 L740.5,124.3 L742.1,123.4 L743.7,122.6 L745.4,121.7 L747.0,120.9 L748.6,120.1 L750.3,119.3 L751.9,118.5 L753.6,117.8 L755.3,117.1 L756.9,116.4 L758.6,115.8 L760.3,115.2 L761.9,114.6 L763.6,114.0 L765.3,113.4 L767.0,112.9 L768.7,112.4 L770.4,112.0 L772.1,111.6 L773.8,111.2 L775.5,110.8 L777.3,110.5 L779.0,110.2 L780.7,109.9 L782.4,109.7 L784.1,109.5 L785.9,109.3 L787.6,109.2 L789.3,109.0 L791.1,109.0 L792.8,108.9 L794.5,108.9 L796.2,109.0 L795.8,133.0 L794.5,133.0 L793.2,133.0 L791.9,133.0 L790.7,133.1 L789.4,133.2 L788.1,133.3 L786.8,133.4 L785.6,133.6 L784.3,133.8 L783.0,134.0 L781.7,134.2 L780.4,134.5 L779.1,134.8 L777.9,135.1 L776.6,135.4 L775.3,135.8 L774.0,136.2 L772.6,136.6 L771.3,137.0 L770.0,137.5 L768.7,137.9 L767.4,138.5 L766.0,139.0 L764.7,139.5 L763.4,140.1 L762.0,140.7 L760.7,141.4 L759.3,142.0 L757.9,142.7 L756.6,143.4 L755.2,144.1 L753.8,144.9 L752.5,145.7 L751.1,146.4 L749.7,147.3 L748.3,148.1 L746.9,149.0 L745.5,149.9 L744.1,150.8 L742.7,151.7 L741.3,152.6 L740.1,153.4 L739.0,154.3 L737.9,155.2 L736.6,156.3 L735.3,157.5 L734.0,158.8 L732.6,160.1 L731.2,161.5 L729.7,163.0 L728.3,164.5 L726.8,166.1 L725.2,167.6 L723.7,169.2 L722.1,170.7 L720.5,172.3 L718.9,173.8 L717.2,175.4 L715.6,176.8 L713.9,178.3 L712.2,179.7 L710.5,181.0 L708.7,182.3 L707.0,183.6 L705.2,184.8 L703.5,185.9 L701.7,187.0 L699.9,188.0 L698.2,188.9 L696.5,189.8 L694.8,190.6 L693.2,191.4 L691.6,192.1 L690.1,192.8 L688.6,193.5 L687.1,194.2 L685.6,194.9 L684.1,195.5 L682.6,196.2 L681.1,196.9 L679.6,197.6 L678.1,198.3 L676.6,199.0 L675.1,199.7 L673.6,200.4 L672.1,201.0 L670.6,201.7 L669.1,202.4 L667.6,203.1 L666.1,203.8 L664.6,204.5 L663.1,205.2 L661.6,205.8 L660.1,206.5 L658.6,207.2 L657.1,207.9 L655.6,208.6 L654.0,209.2 L652.5,209.9 L651.0,210.6 L649.5,211.3 L648.0,211.9 L646.5,212.6 L645.0,213.3 L643.5,214.0 L641.9,214.6 L640.4,215.3 L638.9,216.0 L637.4,216.6 L635.9,217.3 L634.4,217.9 L632.8,218.6 L631.3,219.2 L629.8,219.9 L628.2,220.5 L626.7,221.1 L625.2,221.8 L623.7,222.4 L622.1,223.0 L620.6,223.7 L619.1,224.3 L617.5,224.9 L616.0,225.5 L614.4,226.1 L612.9,226.7 L611.4,227.3 L609.8,227.8 L608.3,228.4 L606.7,229.0 L605.2,229.6 L603.6,230.1 L602.1,230.7 L600.5,231.2 L599.0,231.7 L597.4,232.3 L595.9,232.8 L594.3,233.3 L592.7,233.8 L591.2,234.3 L589.6,234.8 L588.1,235.3 L586.5,235.7 L584.9,236.2 L583.4,236.7 L581.8,237.1 L580.2,237.5 L578.7,238.0 L577.1,238.4 L575.6,238.8 L574.0,239.2 L572.4,239.6 L570.9,240.0 L569.3,240.4 L567.7,240.7 L566.2,241.1 L564.6,241.5 L563.1,241.8 L561.5,242.1 L559.9,242.5 L558.4,242.8 L556.8,243.1 L555.3,243.4 L553.7,243.7 L552.2,244.0 L550.6,244.3 L549.1,244.6 L547.5,244.9 L546.0,245.1 L544.4,245.4 L542.9,245.6 L541.3,245.9 L539.8,246.1 L538.2,246.4 L536.7,246.6 L535.1,246.8 L533.6,247.0 L532.1,247.3 L530.5,247.5 L529.0,247.7 L527.4,247.9 L525.9,248.1 L524.4,248.3 L522.8,248.4 L521.3,248.6 L519.8,248.8 L518.2,249.0 L516.7,249.2 L515.1,249.3 L513.6,249.5 L512.1,249.6 L510.5,249.8 L509.0,249.9 L507.5,250.1 L506.0,250.2 L504.5,250.4 L502.9,250.5 L501.4,250.7 L499.9,250.8 L498.4,250.9 L496.8,251.1 L495.3,251.2 L493.8,251.3 L492.3,251.4 L490.7,251.5 L489.2,251.7 L487.7,251.8 L486.2,251.9 L484.7,252.0 L483.1,252.1 L481.6,252.2 L480.1,252.3 L478.6,252.4 L477.1,252.5 L475.6,252.6 L474.1,252.7 L472.5,252.8 L471.0,252.9 L469.5,253.0 L468.0,253.1 L466.5,253.2 L465.0,253.2 L463.5,253.3 L462.0,253.4 L460.4,253.5 L458.9,253.6 L457.4,253.7 L455.9,253.7 L454.4,253.8 L452.9,253.9 L451.4,254.0 L449.9,254.0 L448.4,254.1 L446.8,254.2 L445.3,254.3 L443.8,254.3 L442.3,254.4 L440.8,254.5 L439.3,254.5 L437.8,254.6 L436.3,254.7 L434.8,254.7 L433.3,254.8 L431.7,254.9 L430.2,254.9 L428.7,255.0 L427.2,255.0 L425.7,255.1 L424.2,255.2 L422.7,255.2 L421.2,255.3 L419.7,255.3 L418.2,255.4 L416.7,255.4 L415.2,255.5 L413.7,255.5 L412.2,255.6 L410.7,255.6 L409.2,255.7 L407.6,255.7 L406.1,255.8 L404.6,255.8 L403.1,255.9 L401.6,255.9 L400.1,256.0 L398.6,256.0 L397.1,256.1 L395.6,256.1 L394.1,256.1 L392.6,256.2 L391.1,256.2 L389.6,256.3 L388.1,256.3 L386.6,256.4 L385.1,256.4 L383.6,256.4 L382.1,256.5 L380.6,256.5 L379.1,256.6 L377.6,256.6 L376.1,256.6 L374.6,256.7 L373.0,256.7 L371.5,256.8 L370.0,256.8 L368.5,256.8 L367.0,256.9 L365.5,256.9 L364.0,257.0 L362.5,257.0 L361.0,257.0 L359.5,257.1 L358.0,257.1 L356.5,257.2 L355.0,257.2 L353.5,257.2 L352.0,257.3 L350.5,257.3 L349.0,257.3 L347.5,257.4 L346.0,257.4 L344.5,257.4 L343.0,257.5 L341.5,257.5 L340.0,257.6 L338.5,257.6 L337.0,257.6 L335.5,257.7 L334.0,257.7 L332.5,257.7 L331.0,257.8 L329.5,257.8 L328.0,257.8 L326.5,257.9 L325.0,257.9 L323.5,257.9 L322.0,258.0 L320.5,258.0 L319.0,258.0 L317.5,258.1 L316.0,258.1 L314.5,258.1 L313.0,258.2 L311.5,258.2 L310.0,258.3 L308.5,258.3 L307.0,258.3 L305.5,258.4 L304.0,258.4 L302.4,258.4 L300.9,258.5 L299.4,258.5 L297.9,258.5 L296.4,258.6 L294.9,258.6 L293.4,258.6 L291.9,258.7 L290.4,258.7 L288.9,258.7 L287.4,258.8 L285.9,258.8 L284.4,258.8 L282.9,258.9 L281.4,258.9 L279.9,258.9 L278.4,259.0 L276.9,259.0 L275.4,259.0 L273.9,259.1 L272.4,259.1 L270.9,259.1 L269.4,259.2 L267.9,259.2 L266.4,259.2 L264.9,259.3 L263.4,259.3 L261.9,259.3 L260.4,259.4 L258.9,259.4 L257.4,259.4 L255.9,259.5 L254.4,259.5 L252.9,259.5 L251.4,259.6 L249.9,259.6 L248.4,259.6 L246.9,259.7 L245.4,259.7 L243.9,259.7 L242.4,259.8 L240.9,259.8 L239.4,259.8 L237.9,259.9 L236.4,259.9 L234.9,259.9 L233.4,260.0 L231.9,260.0 L230.4,260.0 L228.9,260.1 L227.4,260.1 L225.9,260.2 L224.4,260.2 L222.9,260.2 L221.4,260.3 L219.9,260.3 L218.4,260.3 L216.9,260.4 L215.4,260.4 L213.9,260.4 L212.4,260.5 L210.9,260.5 L209.4,260.5 L207.9,260.6 L206.4,260.6 L204.9,260.6 L203.4,260.7 L201.9,260.7 L200.5,260.7 L199.1,260.8 L197.6,260.9 L196.1,260.9 L194.6,261.0 L193.1,261.0 L191.6,261.1 L190.1,261.1 L188.6,261.2 L187.1,261.3 L185.6,261.3 L184.1,261.4 L182.6,261.4 L181.1,261.5 L179.6,261.6 L178.1,261.6 L176.6,261.7 L175.1,261.7 L173.6,261.8 L172.1,261.9 L170.6,261.9 L169.1,262.0 L167.6,262.0 L166.1,262.1 L164.6,262.1 L163.1,262.2 L161.6,262.3 L160.1,262.3 L158.6,262.4 L157.1,262.4 L155.6,262.5 L154.1,262.6 L152.6,262.6 L151.1,262.7 L149.6,262.7 L148.1,262.8 L146.6,262.8 L145.1,262.9 L143.6,263.0 L142.1,263.0 L140.6,263.1 L139.1,263.1 L137.6,263.2 L136.0,263.3 L134.5,263.3 L133.0,263.4 L131.5,263.4 L130.0,263.5 L128.5,263.6 L127.0,263.6 L125.5,263.7 L124.0,263.7 L122.5,263.8 L121.0,263.8 L119.5,263.9 L118.0,264.0 L116.5,264.0 L115.0,264.1 L113.5,264.1 L112.0,264.2 L110.5,264.3 L109.0,264.3 L107.5,264.4 L106.0,264.4 L104.5,264.5 A13.5,13.5 0 0 1 103.5,237.5 Z" fill="url(#hgd)"/><path d="M103.5,237.5 L105.0,237.5 L106.5,237.4 L108.0,237.3 L109.5,237.3 L111.0,237.2 L112.5,237.2 L114.0,237.1 L115.5,237.0 L117.0,237.0 L118.5,236.9 L120.0,236.9 L121.5,236.8 L123.0,236.7 L124.5,236.7 L126.0,236.6 L127.5,236.6 L129.0,236.5 L130.5,236.5 L132.0,236.4 L133.5,236.3 L135.0,236.3 L136.5,236.2 L138.0,236.2 L139.5,236.1 L141.0,236.0 L142.5,236.0 L144.0,235.9 L145.5,235.9 L147.0,235.8 L148.5,235.8 L150.0,235.7 L151.5,235.6 L153.0,235.6 L154.5,235.5 L156.0,235.5 L157.5,235.4 L159.0,235.3 L160.5,235.3 L162.0,235.2 L163.5,235.2 L165.0,235.1 L166.5,235.0 L168.0,235.0 L169.5,234.9 L171.0,234.9 L172.5,234.8 L174.0,234.8 L175.5,234.7 L177.0,234.6 L178.5,234.6 L180.0,234.5 L181.5,234.5 L183.0,234.4 L184.5,234.3 L186.0,234.3 L187.5,234.2 L189.0,234.2 L190.5,234.1 L192.0,234.1 L193.5,234.0 L195.0,233.9 L196.5,233.9 L198.0,233.8 L199.7,233.8 L201.3,233.7 L202.8,233.7 L204.3,233.6 L205.8,233.6 L207.3,233.6 L208.8,233.5 L210.3,233.5 L211.8,233.5 L213.3,233.4 L214.8,233.4 L216.3,233.4 L217.8,233.3 L219.3,233.3 L220.8,233.3 L222.3,233.2 L223.8,233.2 L225.3,233.2 L226.8,233.1 L228.3,233.1 L229.8,233.1 L231.3,233.0 L232.8,233.0 L234.3,233.0 L235.8,232.9 L237.3,232.9 L238.8,232.8 L240.3,232.8 L241.8,232.8 L243.3,232.7 L244.8,232.7 L246.3,232.7 L247.8,232.6 L249.3,232.6 L250.8,232.6 L252.3,232.5 L253.8,232.5 L255.3,232.5 L256.8,232.4 L258.3,232.4 L259.8,232.4 L261.3,232.3 L262.8,232.3 L264.3,232.3 L265.8,232.2 L267.3,232.2 L268.8,232.2 L270.3,232.1 L271.8,232.1 L273.3,232.1 L274.8,232.0 L276.3,232.0 L277.8,232.0 L279.3,231.9 L280.8,231.9 L282.3,231.9 L283.8,231.8 L285.3,231.8 L286.8,231.8 L288.3,231.7 L289.8,231.7 L291.3,231.7 L292.8,231.6 L294.3,231.6 L295.8,231.6 L297.3,231.5 L298.8,231.5 L300.3,231.5 L301.8,231.4 L303.3,231.4 L304.8,231.4 L306.3,231.3 L307.8,231.3 L309.3,231.3 L310.8,231.2 L312.3,231.2 L313.8,231.2 L315.3,231.1 L316.8,231.1 L318.3,231.1 L319.8,231.0 L321.3,231.0 L322.8,230.9 L324.3,230.9 L325.8,230.9 L327.3,230.8 L328.8,230.8 L330.3,230.8 L331.8,230.7 L333.3,230.7 L334.8,230.7 L336.3,230.6 L337.8,230.6 L339.3,230.6 L340.8,230.5 L342.4,230.5 L343.9,230.5 L345.3,230.4 L346.8,230.4 L348.3,230.3 L349.8,230.3 L351.3,230.3 L352.9,230.2 L354.3,230.2 L355.8,230.2 L357.3,230.1 L358.8,230.1 L360.3,230.0 L361.8,230.0 L363.3,230.0 L364.8,229.9 L366.3,229.9 L367.8,229.9 L369.3,229.8 L370.8,229.8 L372.3,229.7 L373.8,229.7 L375.3,229.7 L376.8,229.6 L378.3,229.6 L379.8,229.5 L381.3,229.5 L382.8,229.5 L384.3,229.4 L385.8,229.4 L387.3,229.3 L388.8,229.3 L390.3,229.2 L391.8,229.2 L393.3,229.2 L394.8,229.1 L396.3,229.1 L397.8,229.0 L399.3,229.0 L400.8,228.9 L402.3,228.9 L403.8,228.8 L405.3,228.8 L406.8,228.7 L408.3,228.7 L409.8,228.7 L411.3,228.6 L412.8,228.6 L414.3,228.5 L415.8,228.5 L417.3,228.4 L418.8,228.4 L420.3,228.3 L421.8,228.3 L423.3,228.2 L424.7,228.2 L426.2,228.1 L427.7,228.1 L429.2,228.0 L430.7,228.0 L432.2,227.9 L433.7,227.9 L435.2,227.8 L436.7,227.7 L438.2,227.7 L439.7,227.6 L441.2,227.6 L442.7,227.5 L444.2,227.5 L445.7,227.4 L447.1,227.3 L448.6,227.3 L450.1,227.2 L451.6,227.2 L453.1,227.1 L454.6,227.0 L456.1,227.0 L457.6,226.9 L459.1,226.8 L460.6,226.8 L462.1,226.7 L463.6,226.6 L465.0,226.5 L466.5,226.5 L468.0,226.4 L469.5,226.3 L471.0,226.2 L472.5,226.1 L474.0,226.1 L475.5,226.0 L476.9,225.9 L478.4,225.8 L479.9,225.7 L481.4,225.6 L482.9,225.5 L484.4,225.4 L485.8,225.3 L487.3,225.2 L488.8,225.1 L490.3,225.0 L491.8,224.9 L493.3,224.8 L494.7,224.7 L496.2,224.6 L497.7,224.5 L499.2,224.4 L500.6,224.2 L502.1,224.1 L503.6,224.0 L505.1,223.9 L506.5,223.7 L508.0,223.6 L509.5,223.4 L511.0,223.3 L512.4,223.2 L513.9,223.0 L515.4,222.9 L516.8,222.7 L518.3,222.5 L519.8,222.4 L521.2,222.2 L522.7,222.0 L524.2,221.9 L525.6,221.7 L527.1,221.5 L528.6,221.3 L530.0,221.1 L531.5,220.9 L532.9,220.7 L534.4,220.5 L535.9,220.3 L537.3,220.1 L538.8,219.9 L540.2,219.6 L541.7,219.4 L543.1,219.2 L544.6,218.9 L546.0,218.7 L547.5,218.4 L548.9,218.2 L550.4,217.9 L551.8,217.6 L553.2,217.3 L554.7,217.0 L556.1,216.7 L557.6,216.4 L559.0,216.1 L560.5,215.8 L561.9,215.5 L563.4,215.2 L564.8,214.8 L566.2,214.5 L567.7,214.1 L569.1,213.7 L570.6,213.4 L572.0,213.0 L573.4,212.6 L574.9,212.2 L576.3,211.8 L577.7,211.4 L579.2,211.0 L580.6,210.6 L582.1,210.2 L583.5,209.7 L585.0,209.3 L586.4,208.8 L587.8,208.3 L589.3,207.9 L590.7,207.4 L592.2,206.9 L593.6,206.4 L595.1,205.9 L596.5,205.4 L598.0,204.9 L599.4,204.4 L600.9,203.8 L602.4,203.3 L603.8,202.7 L605.3,202.2 L606.7,201.6 L608.2,201.1 L609.7,200.5 L611.2,199.9 L612.6,199.3 L614.1,198.8 L615.6,198.2 L617.0,197.6 L618.5,197.0 L620.0,196.4 L621.4,195.7 L622.9,195.1 L624.4,194.5 L625.9,193.9 L627.4,193.3 L628.8,192.6 L630.3,192.0 L631.8,191.4 L633.3,190.7 L634.8,190.1 L636.3,189.4 L637.8,188.8 L639.3,188.1 L640.8,187.5 L642.2,186.8 L643.7,186.1 L645.2,185.5 L646.7,184.8 L648.2,184.2 L649.7,183.5 L651.2,182.8 L652.7,182.2 L654.2,181.5 L655.7,180.8 L657.2,180.1 L658.7,179.5 L660.2,178.8 L661.7,178.1 L663.2,177.5 L664.7,176.8 L666.2,176.1 L667.7,175.4 L669.2,174.7 L670.7,174.1 L672.2,173.4 L673.7,172.7 L675.2,172.0 L676.7,171.4 L678.3,170.7 L679.8,170.0 L681.3,169.3 L682.7,168.7 L684.0,168.1 L685.3,167.4 L686.6,166.8 L687.9,166.1 L689.2,165.4 L690.4,164.7 L691.6,163.9 L692.9,163.1 L694.1,162.2 L695.4,161.3 L696.7,160.3 L698.0,159.2 L699.3,158.1 L700.6,156.9 L702.0,155.7 L703.4,154.4 L704.8,153.0 L706.2,151.6 L707.7,150.2 L709.1,148.7 L710.6,147.2 L712.2,145.6 L713.7,144.1 L715.3,142.5 L716.9,141.0 L718.6,139.4 L720.3,137.9 L722.0,136.4 L723.9,134.9 L725.8,133.5 L727.6,132.2 L729.2,131.2 L730.8,130.1 L732.4,129.1 L734.0,128.1 L735.6,127.1 L737.2,126.2 L738.8,125.2 L740.5,124.3 L742.1,123.4 L743.7,122.6 L745.4,121.7 L747.0,120.9 L748.6,120.1 L750.3,119.3 L751.9,118.5 L753.6,117.8 L755.3,117.1 L756.9,116.4 L758.6,115.8 L760.3,115.2 L761.9,114.6 L763.6,114.0 L765.3,113.4 L767.0,112.9 L768.7,112.4 L770.4,112.0 L772.1,111.6 L773.8,111.2 L775.5,110.8 L777.3,110.5 L779.0,110.2 L780.7,109.9 L782.4,109.7 L784.1,109.5 L785.9,109.3 L787.6,109.2 L789.3,109.0 L791.1,109.0 L792.8,108.9 L794.5,108.9 L796.2,109.0 L795.9,127.7 L794.5,127.7 L793.1,127.7 L791.7,127.7 L790.4,127.8 L789.0,127.9 L787.6,128.0 L786.2,128.1 L784.9,128.3 L783.5,128.5 L782.1,128.7 L780.7,129.0 L779.4,129.3 L778.0,129.6 L776.6,129.9 L775.2,130.3 L773.8,130.6 L772.4,131.0 L771.0,131.5 L769.6,131.9 L768.2,132.4 L766.8,132.9 L765.4,133.5 L764.0,134.0 L762.6,134.6 L761.2,135.2 L759.8,135.9 L758.4,136.5 L757.0,137.2 L755.5,137.9 L754.1,138.6 L752.7,139.4 L751.3,140.2 L749.8,141.0 L748.4,141.8 L747.0,142.6 L745.5,143.5 L744.1,144.4 L742.6,145.3 L741.2,146.2 L739.7,147.2 L738.3,148.1 L737.0,149.0 L735.7,150.0 L734.4,151.1 L733.0,152.3 L731.6,153.5 L730.2,154.9 L728.8,156.3 L727.3,157.7 L725.9,159.2 L724.4,160.7 L722.9,162.2 L721.4,163.8 L719.8,165.3 L718.3,166.9 L716.7,168.4 L715.2,169.8 L713.6,171.3 L712.0,172.7 L710.4,174.1 L708.8,175.4 L707.2,176.7 L705.5,177.9 L703.9,179.1 L702.2,180.2 L700.6,181.3 L699.0,182.3 L697.4,183.3 L695.7,184.2 L694.1,185.0 L692.6,185.8 L691.0,186.6 L689.4,187.4 L687.9,188.1 L686.4,188.8 L685.0,189.5 L683.5,190.2 L682.0,190.9 L680.5,191.6 L679.0,192.3 L677.5,193.0 L676.0,193.7 L674.5,194.5 L673.1,195.2 L671.6,195.9 L670.1,196.6 L668.6,197.3 L667.1,198.0 L665.6,198.7 L664.1,199.4 L662.6,200.1 L661.1,200.9 L659.7,201.6 L658.2,202.3 L656.7,203.0 L655.2,203.7 L653.7,204.4 L652.2,205.1 L650.7,205.8 L649.2,206.5 L647.7,207.2 L646.2,207.9 L644.7,208.6 L643.2,209.3 L641.7,210.0 L640.2,210.7 L638.7,211.3 L637.2,212.0 L635.7,212.7 L634.2,213.4 L632.7,214.1 L631.2,214.7 L629.7,215.4 L628.2,216.1 L626.7,216.7 L625.2,217.4 L623.7,218.1 L622.2,218.7 L620.7,219.4 L619.1,220.0 L617.6,220.6 L616.1,221.3 L614.6,221.9 L613.1,222.5 L611.6,223.1 L610.0,223.7 L608.5,224.3 L607.0,224.9 L605.5,225.5 L603.9,226.1 L602.4,226.7 L600.9,227.3 L599.4,227.8 L597.8,228.4 L596.3,228.9 L594.8,229.5 L593.2,230.0 L591.7,230.5 L590.2,231.1 L588.6,231.6 L587.1,232.1 L585.6,232.6 L584.0,233.1 L582.5,233.5 L581.0,234.0 L579.4,234.5 L577.9,234.9 L576.3,235.4 L574.8,235.8 L573.3,236.2 L571.7,236.7 L570.2,237.1 L568.6,237.5 L567.1,237.9 L565.6,238.3 L564.0,238.6 L562.5,239.0 L560.9,239.3 L559.4,239.7 L557.8,240.0 L556.3,240.3 L554.7,240.6 L553.2,240.9 L551.6,241.2 L550.1,241.5 L548.6,241.8 L547.0,242.0 L545.5,242.3 L543.9,242.6 L542.4,242.8 L540.9,243.1 L539.3,243.3 L537.8,243.5 L536.3,243.8 L534.7,244.0 L533.2,244.2 L531.7,244.4 L530.1,244.6 L528.6,244.8 L527.1,245.0 L525.5,245.2 L524.0,245.4 L522.5,245.6 L520.9,245.8 L519.4,245.9 L517.9,246.1 L516.4,246.3 L514.9,246.4 L513.3,246.6 L511.8,246.8 L510.3,246.9 L508.8,247.1 L507.2,247.2 L505.7,247.4 L504.2,247.5 L502.7,247.6 L501.2,247.8 L499.6,247.9 L498.1,248.0 L496.6,248.2 L495.1,248.3 L493.6,248.4 L492.1,248.5 L490.5,248.6 L489.0,248.8 L487.5,248.9 L486.0,249.0 L484.5,249.1 L482.9,249.2 L481.4,249.3 L479.9,249.4 L478.4,249.5 L476.9,249.6 L475.4,249.7 L473.9,249.8 L472.4,249.9 L470.8,250.0 L469.3,250.1 L467.8,250.1 L466.3,250.2 L464.8,250.3 L463.3,250.4 L461.8,250.5 L460.3,250.6 L458.8,250.6 L457.3,250.7 L455.8,250.8 L454.2,250.9 L452.7,251.0 L451.2,251.0 L449.7,251.1 L448.2,251.2 L446.7,251.2 L445.2,251.3 L443.7,251.4 L442.2,251.4 L440.7,251.5 L439.2,251.6 L437.7,251.6 L436.2,251.7 L434.7,251.8 L433.1,251.8 L431.6,251.9 L430.1,252.0 L428.6,252.0 L427.1,252.1 L425.6,252.1 L424.1,252.2 L422.6,252.3 L421.1,252.3 L419.6,252.4 L418.1,252.4 L416.6,252.5 L415.1,252.5 L413.6,252.6 L412.1,252.6 L410.6,252.7 L409.1,252.7 L407.5,252.8 L406.0,252.8 L404.5,252.9 L403.0,252.9 L401.5,253.0 L400.0,253.0 L398.5,253.0 L397.0,253.1 L395.5,253.1 L394.0,253.2 L392.5,253.2 L391.0,253.3 L389.5,253.3 L388.0,253.3 L386.5,253.4 L385.0,253.4 L383.5,253.5 L382.0,253.5 L380.5,253.6 L379.0,253.6 L377.5,253.6 L376.0,253.7 L374.5,253.7 L373.0,253.8 L371.5,253.8 L370.0,253.8 L368.5,253.9 L367.0,253.9 L365.5,254.0 L364.0,254.0 L362.5,254.0 L361.0,254.1 L359.4,254.1 L357.9,254.1 L356.4,254.2 L354.9,254.2 L353.4,254.3 L351.9,254.3 L350.4,254.3 L348.9,254.4 L347.4,254.4 L345.9,254.4 L344.4,254.5 L342.9,254.5 L341.4,254.5 L339.9,254.6 L338.4,254.6 L336.9,254.7 L335.4,254.7 L333.9,254.7 L332.4,254.8 L330.9,254.8 L329.4,254.8 L327.9,254.9 L326.4,254.9 L324.9,254.9 L323.4,255.0 L321.9,255.0 L320.4,255.0 L318.9,255.1 L317.4,255.1 L315.9,255.1 L314.4,255.2 L312.9,255.2 L311.4,255.2 L309.9,255.3 L308.4,255.3 L306.9,255.3 L305.4,255.4 L303.9,255.4 L302.4,255.5 L300.9,255.5 L299.4,255.5 L297.9,255.6 L296.4,255.6 L294.9,255.6 L293.4,255.7 L291.9,255.7 L290.4,255.7 L288.9,255.8 L287.4,255.8 L285.9,255.8 L284.4,255.9 L282.9,255.9 L281.4,255.9 L279.9,256.0 L278.4,256.0 L276.9,256.0 L275.4,256.1 L273.9,256.1 L272.4,256.1 L270.9,256.2 L269.4,256.2 L267.9,256.2 L266.4,256.3 L264.9,256.3 L263.4,256.3 L261.9,256.4 L260.3,256.4 L258.8,256.4 L257.3,256.5 L255.8,256.5 L254.3,256.5 L252.8,256.6 L251.3,256.6 L249.8,256.6 L248.3,256.7 L246.8,256.7 L245.3,256.7 L243.8,256.8 L242.3,256.8 L240.8,256.8 L239.3,256.9 L237.8,256.9 L236.3,256.9 L234.8,257.0 L233.3,257.0 L231.8,257.0 L230.3,257.1 L228.8,257.1 L227.3,257.1 L225.8,257.2 L224.3,257.2 L222.8,257.3 L221.3,257.3 L219.8,257.3 L218.3,257.4 L216.8,257.4 L215.3,257.4 L213.8,257.5 L212.3,257.5 L210.8,257.5 L209.3,257.6 L207.8,257.6 L206.3,257.6 L204.8,257.7 L203.3,257.7 L201.8,257.7 L200.4,257.8 L199.0,257.8 L197.5,257.9 L196.0,257.9 L194.5,258.0 L193.0,258.1 L191.5,258.1 L190.0,258.2 L188.5,258.2 L187.0,258.3 L185.5,258.4 L184.0,258.4 L182.5,258.5 L181.0,258.5 L179.5,258.6 L178.0,258.6 L176.5,258.7 L175.0,258.8 L173.5,258.8 L172.0,258.9 L170.5,258.9 L169.0,259.0 L167.5,259.1 L166.0,259.1 L164.5,259.2 L163.0,259.2 L161.5,259.3 L160.0,259.4 L158.5,259.4 L156.9,259.5 L155.4,259.5 L153.9,259.6 L152.4,259.6 L150.9,259.7 L149.4,259.8 L147.9,259.8 L146.4,259.9 L144.9,259.9 L143.4,260.0 L141.9,260.1 L140.4,260.1 L138.9,260.2 L137.4,260.2 L135.9,260.3 L134.4,260.3 L132.9,260.4 L131.4,260.5 L129.9,260.5 L128.4,260.6 L126.9,260.6 L125.4,260.7 L123.9,260.8 L122.4,260.8 L120.9,260.9 L119.4,260.9 L117.9,261.0 L116.4,261.1 L114.9,261.1 L113.4,261.2 L111.9,261.2 L110.4,261.3 L108.9,261.3 L107.4,261.4 L105.9,261.5 L104.4,261.5 A12.0,12.0 0 0 1 103.5,237.5 Z" fill="url(#hg)"/><path d="M796.2,109.0 L794.5,108.9 L792.8,108.9 L791.1,109.0 L789.3,109.0 L787.6,109.2 L785.9,109.3 L784.1,109.5 L782.4,109.7 L780.7,109.9 L779.0,110.2 L777.3,110.5 L775.5,110.8 L773.8,111.2 L772.1,111.6 L770.4,112.0 L768.7,112.4 L767.0,112.9 L765.3,113.4 L763.6,114.0 L761.9,114.6 L760.3,115.2 L758.6,115.8 L756.9,116.4 L755.3,117.1 L753.6,117.8 L751.9,118.5 L750.3,119.3 L748.6,120.1 L747.0,120.9 L745.4,121.7 L743.7,122.6 L742.1,123.4 L740.5,124.3 L738.8,125.2 L737.2,126.2 L735.6,127.1 L734.0,128.1 L732.4,129.1 L730.8,130.1 L729.2,131.2 L727.6,132.2 L725.8,133.5 L723.9,134.9 L722.0,136.4 L720.3,137.9 L718.6,139.4 L716.9,141.0 L715.3,142.5 L713.7,144.1 L712.2,145.6 L710.6,147.2 L709.1,148.7 L707.7,150.2 L706.2,151.6 L704.8,153.0 L703.4,154.4 L702.0,155.7 L700.6,156.9 L699.3,158.1 L698.0,159.2 L696.7,160.3 L695.4,161.3 L694.1,162.2 L692.9,163.1 L691.6,163.9 L690.4,164.7 L689.2,165.4 L687.9,166.1 L686.6,166.8 L685.3,167.4 L684.0,168.1 L682.7,168.7 L681.3,169.3 L679.8,170.0 L678.3,170.7 L676.7,171.4 L675.2,172.0 L673.7,172.7 L672.2,173.4 L670.7,174.1 L669.2,174.7 L667.7,175.4 L666.2,176.1 L664.7,176.8 L663.2,177.5 L661.7,178.1 L660.2,178.8 L658.7,179.5 L657.2,180.1 L655.7,180.8 L654.2,181.5 L652.7,182.2 L651.2,182.8 L649.7,183.5 L648.2,184.2 L646.7,184.8 L645.2,185.5 L643.7,186.1 L642.2,186.8 L640.8,187.5 L639.3,188.1 L637.8,188.8 L636.3,189.4 L634.8,190.1 L633.3,190.7 L631.8,191.4 L630.3,192.0 L628.8,192.6 L627.4,193.3 L625.9,193.9 L624.4,194.5 L622.9,195.1 L621.4,195.7 L620.0,196.4 L618.5,197.0 L617.0,197.6 L615.6,198.2 L614.1,198.8 L612.6,199.3 L611.2,199.9 L609.7,200.5 L608.2,201.1 L606.7,201.6 L605.3,202.2 L603.8,202.7 L602.4,203.3 L600.9,203.8 L599.4,204.4 L598.0,204.9 L596.5,205.4 L595.1,205.9 L593.6,206.4 L592.2,206.9 L590.7,207.4 L589.3,207.9 L587.8,208.3 L586.4,208.8 L585.0,209.3 L583.5,209.7 L582.1,210.2 L580.6,210.6 L579.2,211.0 L577.7,211.4 L576.3,211.8 L574.9,212.2 L573.4,212.6 L572.0,213.0 L570.6,213.4 L569.1,213.7 L567.7,214.1 L566.2,214.5 L564.8,214.8 L563.4,215.2 L561.9,215.5 L560.5,215.8 L559.0,216.1 L557.6,216.4 L556.1,216.7 L554.7,217.0 L553.2,217.3 L551.8,217.6 L550.4,217.9 L548.9,218.2 L547.5,218.4 L546.0,218.7 L544.6,218.9 L543.1,219.2 L541.7,219.4 L540.2,219.6 L538.8,219.9 L537.3,220.1 L535.9,220.3 L534.4,220.5 L532.9,220.7 L531.5,220.9 L530.0,221.1 L528.6,221.3 L527.1,221.5 L525.6,221.7 L524.2,221.9 L522.7,222.0 L521.2,222.2 L519.8,222.4 L518.3,222.5 L516.8,222.7 L515.4,222.9 L513.9,223.0 L512.4,223.2 L511.0,223.3 L509.5,223.4 L508.0,223.6 L506.5,223.7 L505.1,223.9 L503.6,224.0 L502.1,224.1 L500.6,224.2 L499.2,224.4 L497.7,224.5 L496.2,224.6 L494.7,224.7 L493.3,224.8 L491.8,224.9 L490.3,225.0 L488.8,225.1 L487.3,225.2 L485.8,225.3 L484.4,225.4 L482.9,225.5 L481.4,225.6 L479.9,225.7 L478.4,225.8 L476.9,225.9 L475.5,226.0 L474.0,226.1 L472.5,226.1 L471.0,226.2 L469.5,226.3 L468.0,226.4 L466.5,226.5 L465.0,226.5 L463.6,226.6 L462.1,226.7 L460.6,226.8 L459.1,226.8 L457.6,226.9 L456.1,227.0 L454.6,227.0 L453.1,227.1 L451.6,227.2 L450.1,227.2 L448.6,227.3 L447.1,227.3 L445.7,227.4 L444.2,227.5 L442.7,227.5 L441.2,227.6 L439.7,227.6 L438.2,227.7 L436.7,227.7 L435.2,227.8 L433.7,227.9 L432.2,227.9 L430.7,228.0 L429.2,228.0 L427.7,228.1 L426.2,228.1 L424.7,228.2 L423.3,228.2 L421.8,228.3 L420.3,228.3 L418.8,228.4 L417.3,228.4 L415.8,228.5 L414.3,228.5 L412.8,228.6 L411.3,228.6 L409.8,228.7 L408.3,228.7 L406.8,228.7 L405.3,228.8 L403.8,228.8 L402.3,228.9 L400.8,228.9 L399.3,229.0 L397.8,229.0 L396.3,229.1 L394.8,229.1 L393.3,229.2 L391.8,229.2 L390.3,229.2 L388.8,229.3 L387.3,229.3 L385.8,229.4 L384.3,229.4 L382.8,229.5 L381.3,229.5 L379.8,229.5 L378.3,229.6 L376.8,229.6 L375.3,229.7 L373.8,229.7 L372.3,229.7 L370.8,229.8 L369.3,229.8 L367.8,229.9 L366.3,229.9 L364.8,229.9 L363.3,230.0 L361.8,230.0 L360.3,230.0 L358.8,230.1 L357.3,230.1 L355.8,230.2 L354.3,230.2 L352.9,230.2 L351.3,230.3 L349.8,230.3 L348.3,230.3 L346.8,230.4 L345.3,230.4 L343.9,230.5 L342.4,230.5 L340.8,230.5 L339.3,230.6 L337.8,230.6 L336.3,230.6 L334.8,230.7 L333.3,230.7 L331.8,230.7 L330.3,230.8 L328.8,230.8 L327.3,230.8 L325.8,230.9 L324.3,230.9 L322.8,230.9 L321.3,231.0 L319.8,231.0 L318.3,231.1 L316.8,231.1 L315.3,231.1 L313.8,231.2 L312.3,231.2 L310.8,231.2 L309.3,231.3 L307.8,231.3 L306.3,231.3 L304.8,231.4 L303.3,231.4 L301.8,231.4 L300.3,231.5 L298.8,231.5 L297.3,231.5 L295.8,231.6 L294.3,231.6 L292.8,231.6 L291.3,231.7 L289.8,231.7 L288.3,231.7 L286.8,231.8 L285.3,231.8 L283.8,231.8 L282.3,231.9 L280.8,231.9 L279.3,231.9 L277.8,232.0 L276.3,232.0 L274.8,232.0 L273.3,232.1 L271.8,232.1 L270.3,232.1 L268.8,232.2 L267.3,232.2 L265.8,232.2 L264.3,232.3 L262.8,232.3 L261.3,232.3 L259.8,232.4 L258.3,232.4 L256.8,232.4 L255.3,232.5 L253.8,232.5 L252.3,232.5 L250.8,232.6 L249.3,232.6 L247.8,232.6 L246.3,232.7 L244.8,232.7 L243.3,232.7 L241.8,232.8 L240.3,232.8 L238.8,232.8 L237.3,232.9 L235.8,232.9 L234.3,233.0 L232.8,233.0 L231.3,233.0 L229.8,233.1 L228.3,233.1 L226.8,233.1 L225.3,233.2 L223.8,233.2 L222.3,233.2 L220.8,233.3 L219.3,233.3 L217.8,233.3 L216.3,233.4 L214.8,233.4 L213.3,233.4 L211.8,233.5 L210.3,233.5 L208.8,233.5 L207.3,233.6 L205.8,233.6 L204.3,233.6 L202.8,233.7 L201.3,233.7 L199.7,233.8 L198.0,233.8 L196.5,233.9 L195.0,233.9 L193.5,234.0 L192.0,234.1 L190.5,234.1 L189.0,234.2 L187.5,234.2 L186.0,234.3 L184.5,234.3 L183.0,234.4 L181.5,234.5 L180.0,234.5 L178.5,234.6 L177.0,234.6 L175.5,234.7 L174.0,234.8 L172.5,234.8 L171.0,234.9 L169.5,234.9 L168.0,235.0 L166.5,235.0 L165.0,235.1 L163.5,235.2 L162.0,235.2 L160.5,235.3 L159.0,235.3 L157.5,235.4 L156.0,235.5 L154.5,235.5 L153.0,235.6 L151.5,235.6 L150.0,235.7 L148.5,235.8 L147.0,235.8 L145.5,235.9 L144.0,235.9 L142.5,236.0 L141.0,236.0 L139.5,236.1 L138.0,236.2 L136.5,236.2 L135.0,236.3 L133.5,236.3 L132.0,236.4 L130.5,236.5 L129.0,236.5 L127.5,236.6 L126.0,236.6 L124.5,236.7 L123.0,236.7 L121.5,236.8 L120.0,236.9 L118.5,236.9 L117.0,237.0 L115.5,237.0 L114.0,237.1 L112.5,237.2 L111.0,237.2 L109.5,237.3 L108.0,237.3 L106.5,237.4 L105.0,237.5 L103.5,237.5 A13.5,13.5 0 0 0 104.5,264.5 L106.0,264.4 L107.5,264.4 L109.0,264.3 L110.5,264.3 L112.0,264.2 L113.5,264.1 L115.0,264.1 L116.5,264.0 L118.0,264.0 L119.5,263.9 L121.0,263.8 L122.5,263.8 L124.0,263.7 L125.5,263.7 L127.0,263.6 L128.5,263.6 L130.0,263.5 L131.5,263.4 L133.0,263.4 L134.5,263.3 L136.0,263.3 L137.6,263.2 L139.1,263.1 L140.6,263.1 L142.1,263.0 L143.6,263.0 L145.1,262.9 L146.6,262.8 L148.1,262.8 L149.6,262.7 L151.1,262.7 L152.6,262.6 L154.1,262.6 L155.6,262.5 L157.1,262.4 L158.6,262.4 L160.1,262.3 L161.6,262.3 L163.1,262.2 L164.6,262.1 L166.1,262.1 L167.6,262.0 L169.1,262.0 L170.6,261.9 L172.1,261.9 L173.6,261.8 L175.1,261.7 L176.6,261.7 L178.1,261.6 L179.6,261.6 L181.1,261.5 L182.6,261.4 L184.1,261.4 L185.6,261.3 L187.1,261.3 L188.6,261.2 L190.1,261.1 L191.6,261.1 L193.1,261.0 L194.6,261.0 L196.1,260.9 L197.6,260.9 L199.1,260.8 L200.5,260.7 L201.9,260.7 L203.4,260.7 L204.9,260.6 L206.4,260.6 L207.9,260.6 L209.4,260.5 L210.9,260.5 L212.4,260.5 L213.9,260.4 L215.4,260.4 L216.9,260.4 L218.4,260.3 L219.9,260.3 L221.4,260.3 L222.9,260.2 L224.4,260.2 L225.9,260.2 L227.4,260.1 L228.9,260.1 L230.4,260.0 L231.9,260.0 L233.4,260.0 L234.9,259.9 L236.4,259.9 L237.9,259.9 L239.4,259.8 L240.9,259.8 L242.4,259.8 L243.9,259.7 L245.4,259.7 L246.9,259.7 L248.4,259.6 L249.9,259.6 L251.4,259.6 L252.9,259.5 L254.4,259.5 L255.9,259.5 L257.4,259.4 L258.9,259.4 L260.4,259.4 L261.9,259.3 L263.4,259.3 L264.9,259.3 L266.4,259.2 L267.9,259.2 L269.4,259.2 L270.9,259.1 L272.4,259.1 L273.9,259.1 L275.4,259.0 L276.9,259.0 L278.4,259.0 L279.9,258.9 L281.4,258.9 L282.9,258.9 L284.4,258.8 L285.9,258.8 L287.4,258.8 L288.9,258.7 L290.4,258.7 L291.9,258.7 L293.4,258.6 L294.9,258.6 L296.4,258.6 L297.9,258.5 L299.4,258.5 L300.9,258.5 L302.4,258.4 L304.0,258.4 L305.5,258.4 L307.0,258.3 L308.5,258.3 L310.0,258.3 L311.5,258.2 L313.0,258.2 L314.5,258.1 L316.0,258.1 L317.5,258.1 L319.0,258.0 L320.5,258.0 L322.0,258.0 L323.5,257.9 L325.0,257.9 L326.5,257.9 L328.0,257.8 L329.5,257.8 L331.0,257.8 L332.5,257.7 L334.0,257.7 L335.5,257.7 L337.0,257.6 L338.5,257.6 L340.0,257.6 L341.5,257.5 L343.0,257.5 L344.5,257.4 L346.0,257.4 L347.5,257.4 L349.0,257.3 L350.5,257.3 L352.0,257.3 L353.5,257.2 L355.0,257.2 L356.5,257.2 L358.0,257.1 L359.5,257.1 L361.0,257.0 L362.5,257.0 L364.0,257.0 L365.5,256.9 L367.0,256.9 L368.5,256.8 L370.0,256.8 L371.5,256.8 L373.0,256.7 L374.6,256.7 L376.1,256.6 L377.6,256.6 L379.1,256.6 L380.6,256.5 L382.1,256.5 L383.6,256.4 L385.1,256.4 L386.6,256.4 L388.1,256.3 L389.6,256.3 L391.1,256.2 L392.6,256.2 L394.1,256.1 L395.6,256.1 L397.1,256.1 L398.6,256.0 L400.1,256.0 L401.6,255.9 L403.1,255.9 L404.6,255.8 L406.1,255.8 L407.6,255.7 L409.2,255.7 L410.7,255.6 L412.2,255.6 L413.7,255.5 L415.2,255.5 L416.7,255.4 L418.2,255.4 L419.7,255.3 L421.2,255.3 L422.7,255.2 L424.2,255.2 L425.7,255.1 L427.2,255.0 L428.7,255.0 L430.2,254.9 L431.7,254.9 L433.3,254.8 L434.8,254.7 L436.3,254.7 L437.8,254.6 L439.3,254.5 L440.8,254.5 L442.3,254.4 L443.8,254.3 L445.3,254.3 L446.8,254.2 L448.4,254.1 L449.9,254.0 L451.4,254.0 L452.9,253.9 L454.4,253.8 L455.9,253.7 L457.4,253.7 L458.9,253.6 L460.4,253.5 L462.0,253.4 L463.5,253.3 L465.0,253.2 L466.5,253.2 L468.0,253.1 L469.5,253.0 L471.0,252.9 L472.5,252.8 L474.1,252.7 L475.6,252.6 L477.1,252.5 L478.6,252.4 L480.1,252.3 L481.6,252.2 L483.1,252.1 L484.7,252.0 L486.2,251.9 L487.7,251.8 L489.2,251.7 L490.7,251.5 L492.3,251.4 L493.8,251.3 L495.3,251.2 L496.8,251.1 L498.4,250.9 L499.9,250.8 L501.4,250.7 L502.9,250.5 L504.5,250.4 L506.0,250.2 L507.5,250.1 L509.0,249.9 L510.5,249.8 L512.1,249.6 L513.6,249.5 L515.1,249.3 L516.7,249.2 L518.2,249.0 L519.8,248.8 L521.3,248.6 L522.8,248.4 L524.4,248.3 L525.9,248.1 L527.4,247.9 L529.0,247.7 L530.5,247.5 L532.1,247.3 L533.6,247.0 L535.1,246.8 L536.7,246.6 L538.2,246.4 L539.8,246.1 L541.3,245.9 L542.9,245.6 L544.4,245.4 L546.0,245.1 L547.5,244.9 L549.1,244.6 L550.6,244.3 L552.2,244.0 L553.7,243.7 L555.3,243.4 L556.8,243.1 L558.4,242.8 L559.9,242.5 L561.5,242.1 L563.1,241.8 L564.6,241.5 L566.2,241.1 L567.7,240.7 L569.3,240.4 L570.9,240.0 L572.4,239.6 L574.0,239.2 L575.6,238.8 L577.1,238.4 L578.7,238.0 L580.2,237.5 L581.8,237.1 L583.4,236.7 L584.9,236.2 L586.5,235.7 L588.1,235.3 L589.6,234.8 L591.2,234.3 L592.7,233.8 L594.3,233.3 L595.9,232.8 L597.4,232.3 L599.0,231.7 L600.5,231.2 L602.1,230.7 L603.6,230.1 L605.2,229.6 L606.7,229.0 L608.3,228.4 L609.8,227.8 L611.4,227.3 L612.9,226.7 L614.4,226.1 L616.0,225.5 L617.5,224.9 L619.1,224.3 L620.6,223.7 L622.1,223.0 L623.7,222.4 L625.2,221.8 L626.7,221.1 L628.2,220.5 L629.8,219.9 L631.3,219.2 L632.8,218.6 L634.4,217.9 L635.9,217.3 L637.4,216.6 L638.9,216.0 L640.4,215.3 L641.9,214.6 L643.5,214.0 L645.0,213.3 L646.5,212.6 L648.0,211.9 L649.5,211.3 L651.0,210.6 L652.5,209.9 L654.0,209.2 L655.6,208.6 L657.1,207.9 L658.6,207.2 L660.1,206.5 L661.6,205.8 L663.1,205.2 L664.6,204.5 L666.1,203.8 L667.6,203.1 L669.1,202.4 L670.6,201.7 L672.1,201.0 L673.6,200.4 L675.1,199.7 L676.6,199.0 L678.1,198.3 L679.6,197.6 L681.1,196.9 L682.6,196.2 L684.1,195.5 L685.6,194.9 L687.1,194.2 L688.6,193.5 L690.1,192.8 L691.6,192.1 L693.2,191.4 L694.8,190.6 L696.5,189.8 L698.2,188.9 L699.9,188.0 L701.7,187.0 L703.5,185.9 L705.2,184.8 L707.0,183.6 L708.7,182.3 L710.5,181.0 L712.2,179.7 L713.9,178.3 L715.6,176.8 L717.2,175.4 L718.9,173.8 L720.5,172.3 L722.1,170.7 L723.7,169.2 L725.2,167.6 L726.8,166.1 L728.3,164.5 L729.7,163.0 L731.2,161.5 L732.6,160.1 L734.0,158.8 L735.3,157.5 L736.6,156.3 L737.9,155.2 L739.0,154.3 L740.1,153.4 L741.3,152.6 L742.7,151.7 L744.1,150.8 L745.5,149.9 L746.9,149.0 L748.3,148.1 L749.7,147.3 L751.1,146.4 L752.5,145.7 L753.8,144.9 L755.2,144.1 L756.6,143.4 L757.9,142.7 L759.3,142.0 L760.7,141.4 L762.0,140.7 L763.4,140.1 L764.7,139.5 L766.0,139.0 L767.4,138.5 L768.7,137.9 L770.0,137.5 L771.3,137.0 L772.6,136.6 L774.0,136.2 L775.3,135.8 L776.6,135.4 L777.9,135.1 L779.1,134.8 L780.4,134.5 L781.7,134.2 L783.0,134.0 L784.3,133.8 L785.6,133.6 L786.8,133.4 L788.1,133.3 L789.4,133.2 L790.7,133.1 L791.9,133.0 L793.2,133.0 L794.5,133.0 L795.8,133.0" fill="none" stroke="#3d3d3d" stroke-width="1"/></g><rect x="165.1" y="254" width="8.8" height="36" rx="4" fill="#f07524" stroke="#6a3010" stroke-width="0.9"/><circle cx="169.5" cy="294" r="18" fill="#f07524" stroke="#6a3010" stroke-width="0.9"/><text x="169.5" y="302.3" font-family='"Liberation Sans", sans-serif' font-size="23" fill="#111" text-anchor="middle">M</text><path d="M795.0,108.9 L796.6,109.0 L798.3,109.5 L800.0,109.7 L801.8,109.8 L803.5,110.0 L805.2,110.2 L806.9,110.5 L808.6,110.7 L810.3,111.0 L812.0,111.4 L813.7,111.7 L815.4,112.1 L817.1,112.6 L818.7,113.0 L820.4,113.5 L822.1,114.0 L823.8,114.6 L825.4,115.1 L827.1,115.7 L828.7,116.3 L830.4,117.0 L832.0,117.7 L833.7,118.4 L835.3,119.1 L836.9,119.8 L838.6,120.6 L840.2,121.4 L841.8,122.2 L843.4,123.1 L845.0,123.9 L846.6,124.8 L848.2,125.7 L849.8,126.7 L851.4,127.6 L853.0,128.6 L854.6,129.6 L856.1,130.6 L857.7,131.6 L859.3,132.6 L860.9,133.7 L862.4,134.8 L864.0,135.9 L865.6,137.0 L867.1,138.1 L868.7,139.3 L870.2,140.4 L871.8,141.6 L873.3,142.8 L874.8,144.0 L876.4,145.2 L877.9,146.4 L879.4,147.7 L881.0,148.9 L882.5,150.2 L884.0,151.4 L885.6,152.7 L887.1,154.0 L888.6,155.3 L890.1,156.6 L891.6,157.9 L893.1,159.2 L894.7,160.6 L896.2,161.9 L897.7,163.2 L899.2,164.6 L900.7,165.9 L902.2,167.3 L903.7,168.6 L905.2,170.0 L906.7,171.3 L908.2,172.7 L909.7,174.1 L911.2,175.4 L912.8,176.9 L914.6,178.6 L916.2,180.3 L917.6,181.9 L919.1,183.5 L920.6,185.0 L922.1,186.6 L923.5,188.1 L925.0,189.7 L926.5,191.2 L927.9,192.7 L929.4,194.2 L930.9,195.6 L932.3,197.1 L933.8,198.6 L935.2,200.0 L936.7,201.4 L938.1,202.8 L939.6,204.1 L941.0,205.5 L942.4,206.8 L943.9,208.1 L945.3,209.4 L946.7,210.6 L948.1,211.8 L949.5,213.0 L951.0,214.2 L952.4,215.3 L953.8,216.4 L955.2,217.4 L956.6,218.5 L958.0,219.5 L959.3,220.4 L960.7,221.4 L962.1,222.3 L963.5,223.1 L964.8,224.0 L966.2,224.8 L967.5,225.5 L968.9,226.2 L970.2,226.9 L971.6,227.6 L972.9,228.2 L974.2,228.8 L975.6,229.3 L976.9,229.8 L978.2,230.3 L979.5,230.7 L980.8,231.1 L982.1,231.5 L983.4,231.8 L984.7,232.1 L986.0,232.3 L987.4,232.6 L985.0,248.7 L983.4,248.5 L981.6,248.2 L979.9,247.8 L978.2,247.5 L976.5,247.0 L974.8,246.6 L973.1,246.1 L971.4,245.5 L969.7,244.9 L968.0,244.3 L966.3,243.6 L964.6,242.9 L963.0,242.2 L961.3,241.4 L959.6,240.6 L958.0,239.7 L956.3,238.8 L954.7,237.9 L953.0,236.9 L951.4,235.9 L949.8,234.9 L948.1,233.8 L946.5,232.7 L944.9,231.6 L943.3,230.4 L941.7,229.3 L940.1,228.0 L938.5,226.8 L936.9,225.5 L935.3,224.3 L933.7,222.9 L932.1,221.6 L930.5,220.3 L928.9,218.9 L927.3,217.5 L925.8,216.1 L924.2,214.6 L922.6,213.2 L921.1,211.7 L919.5,210.3 L918.0,208.8 L916.4,207.3 L914.8,205.8 L913.3,204.3 L911.8,202.7 L910.2,201.2 L908.7,199.7 L907.1,198.1 L905.6,196.6 L904.1,195.1 L902.5,193.5 L901.1,192.1 L899.8,190.9 L898.5,189.7 L897.0,188.4 L895.4,187.1 L893.9,185.8 L892.4,184.5 L890.9,183.2 L889.4,181.9 L887.9,180.6 L886.3,179.3 L884.8,178.1 L883.3,176.8 L881.8,175.6 L880.3,174.3 L878.8,173.1 L877.3,171.8 L875.8,170.6 L874.3,169.4 L872.8,168.2 L871.3,167.0 L869.9,165.9 L868.4,164.7 L866.9,163.6 L865.4,162.5 L863.9,161.3 L862.5,160.2 L861.0,159.2 L859.5,158.1 L858.0,157.0 L856.6,156.0 L855.1,155.0 L853.7,154.0 L852.2,153.0 L850.8,152.1 L849.3,151.1 L847.9,150.2 L846.4,149.3 L845.0,148.4 L843.5,147.6 L842.1,146.8 L840.7,145.9 L839.3,145.2 L837.8,144.4 L836.4,143.6 L835.0,142.9 L833.6,142.2 L832.2,141.5 L830.8,140.9 L829.4,140.3 L828.0,139.7 L826.6,139.1 L825.3,138.5 L823.9,138.0 L822.5,137.5 L821.2,137.0 L819.8,136.5 L818.4,136.1 L817.1,135.7 L815.7,135.3 L814.4,135.0 L813.1,134.6 L811.7,134.3 L810.4,134.0 L809.1,133.8 L807.8,133.5 L806.4,133.3 L805.1,133.1 L803.8,133.0 L802.5,132.8 L801.2,132.7 L799.9,132.6 L798.6,132.6 L797.3,132.5 L796.0,133.0 L794.6,133.0 Z" fill="url(#hgd)"/><path d="M795.0,108.9 L796.6,109.0 L798.3,109.5 L800.0,109.7 L801.8,109.8 L803.5,110.0 L805.2,110.2 L806.9,110.5 L808.6,110.7 L810.3,111.0 L812.0,111.4 L813.7,111.7 L815.4,112.1 L817.1,112.6 L818.7,113.0 L820.4,113.5 L822.1,114.0 L823.8,114.6 L825.4,115.1 L827.1,115.7 L828.7,116.3 L830.4,117.0 L832.0,117.7 L833.7,118.4 L835.3,119.1 L836.9,119.8 L838.6,120.6 L840.2,121.4 L841.8,122.2 L843.4,123.1 L845.0,123.9 L846.6,124.8 L848.2,125.7 L849.8,126.7 L851.4,127.6 L853.0,128.6 L854.6,129.6 L856.1,130.6 L857.7,131.6 L859.3,132.6 L860.9,133.7 L862.4,134.8 L864.0,135.9 L865.6,137.0 L867.1,138.1 L868.7,139.3 L870.2,140.4 L871.8,141.6 L873.3,142.8 L874.8,144.0 L876.4,145.2 L877.9,146.4 L879.4,147.7 L881.0,148.9 L882.5,150.2 L884.0,151.4 L885.6,152.7 L887.1,154.0 L888.6,155.3 L890.1,156.6 L891.6,157.9 L893.1,159.2 L894.7,160.6 L896.2,161.9 L897.7,163.2 L899.2,164.6 L900.7,165.9 L902.2,167.3 L903.7,168.6 L905.2,170.0 L906.7,171.3 L908.2,172.7 L909.7,174.1 L911.2,175.4 L912.8,176.9 L914.6,178.6 L916.2,180.3 L917.6,181.9 L919.1,183.5 L920.6,185.0 L922.1,186.6 L923.5,188.1 L925.0,189.7 L926.5,191.2 L927.9,192.7 L929.4,194.2 L930.9,195.6 L932.3,197.1 L933.8,198.6 L935.2,200.0 L936.7,201.4 L938.1,202.8 L939.6,204.1 L941.0,205.5 L942.4,206.8 L943.9,208.1 L945.3,209.4 L946.7,210.6 L948.1,211.8 L949.5,213.0 L951.0,214.2 L952.4,215.3 L953.8,216.4 L955.2,217.4 L956.6,218.5 L958.0,219.5 L959.3,220.4 L960.7,221.4 L962.1,222.3 L963.5,223.1 L964.8,224.0 L966.2,224.8 L967.5,225.5 L968.9,226.2 L970.2,226.9 L971.6,227.6 L972.9,228.2 L974.2,228.8 L975.6,229.3 L976.9,229.8 L978.2,230.3 L979.5,230.7 L980.8,231.1 L982.1,231.5 L983.4,231.8 L984.7,232.1 L986.0,232.3 L987.4,232.6 L985.5,245.1 L984.0,244.9 L982.3,244.6 L980.7,244.3 L979.1,243.9 L977.5,243.5 L975.8,243.1 L974.2,242.6 L972.6,242.1 L971.0,241.5 L969.4,240.9 L967.8,240.2 L966.2,239.6 L964.6,238.8 L963.0,238.1 L961.4,237.3 L959.8,236.4 L958.2,235.6 L956.6,234.6 L955.0,233.7 L953.4,232.7 L951.9,231.7 L950.3,230.7 L948.7,229.6 L947.2,228.5 L945.6,227.3 L944.0,226.2 L942.5,225.0 L940.9,223.8 L939.3,222.5 L937.8,221.3 L936.2,220.0 L934.7,218.6 L933.1,217.3 L931.6,215.9 L930.0,214.6 L928.5,213.2 L926.9,211.7 L925.4,210.3 L923.9,208.8 L922.3,207.4 L920.8,205.9 L919.3,204.4 L917.7,202.9 L916.2,201.4 L914.7,199.9 L913.1,198.3 L911.6,196.8 L910.1,195.3 L908.6,193.7 L907.0,192.2 L905.5,190.6 L904.1,189.1 L902.7,187.8 L901.3,186.6 L899.8,185.3 L898.2,183.9 L896.7,182.6 L895.2,181.3 L893.7,180.0 L892.2,178.7 L890.7,177.4 L889.2,176.1 L887.7,174.8 L886.2,173.5 L884.6,172.3 L883.1,171.0 L881.6,169.7 L880.1,168.5 L878.6,167.3 L877.1,166.0 L875.6,164.8 L874.1,163.6 L872.6,162.4 L871.1,161.2 L869.7,160.1 L868.2,158.9 L866.7,157.8 L865.2,156.7 L863.7,155.6 L862.2,154.5 L860.7,153.4 L859.2,152.3 L857.8,151.3 L856.3,150.3 L854.8,149.3 L853.3,148.3 L851.8,147.3 L850.4,146.4 L848.9,145.4 L847.4,144.5 L846.0,143.6 L844.5,142.8 L843.0,141.9 L841.6,141.1 L840.1,140.3 L838.7,139.5 L837.2,138.7 L835.8,138.0 L834.3,137.3 L832.9,136.6 L831.4,135.9 L830.0,135.3 L828.5,134.7 L827.1,134.1 L825.7,133.5 L824.2,133.0 L822.8,132.5 L821.4,132.0 L820.0,131.5 L818.6,131.1 L817.1,130.6 L815.7,130.2 L814.3,129.9 L812.9,129.5 L811.5,129.2 L810.1,128.9 L808.7,128.7 L807.3,128.4 L805.9,128.2 L804.5,128.0 L803.1,127.9 L801.7,127.7 L800.3,127.6 L798.9,127.5 L797.5,127.5 L796.1,127.7 L794.7,127.7 Z" fill="url(#hg)"/><path d="M795.0,108.9 L796.6,109.0 L798.3,109.5 L800.0,109.7 L801.8,109.8 L803.5,110.0 L805.2,110.2 L806.9,110.5 L808.6,110.7 L810.3,111.0 L812.0,111.4 L813.7,111.7 L815.4,112.1 L817.1,112.6 L818.7,113.0 L820.4,113.5 L822.1,114.0 L823.8,114.6 L825.4,115.1 L827.1,115.7 L828.7,116.3 L830.4,117.0 L832.0,117.7 L833.7,118.4 L835.3,119.1 L836.9,119.8 L838.6,120.6 L840.2,121.4 L841.8,122.2 L843.4,123.1 L845.0,123.9 L846.6,124.8 L848.2,125.7 L849.8,126.7 L851.4,127.6 L853.0,128.6 L854.6,129.6 L856.1,130.6 L857.7,131.6 L859.3,132.6 L860.9,133.7 L862.4,134.8 L864.0,135.9 L865.6,137.0 L867.1,138.1 L868.7,139.3 L870.2,140.4 L871.8,141.6 L873.3,142.8 L874.8,144.0 L876.4,145.2 L877.9,146.4 L879.4,147.7 L881.0,148.9 L882.5,150.2 L884.0,151.4 L885.6,152.7 L887.1,154.0 L888.6,155.3 L890.1,156.6 L891.6,157.9 L893.1,159.2 L894.7,160.6 L896.2,161.9 L897.7,163.2 L899.2,164.6 L900.7,165.9 L902.2,167.3 L903.7,168.6 L905.2,170.0 L906.7,171.3 L908.2,172.7 L909.7,174.1 L911.2,175.4 L912.8,176.9 L914.6,178.6 L916.2,180.3 L917.6,181.9 L919.1,183.5 L920.6,185.0 L922.1,186.6 L923.5,188.1 L925.0,189.7 L926.5,191.2 L927.9,192.7 L929.4,194.2 L930.9,195.6 L932.3,197.1 L933.8,198.6 L935.2,200.0 L936.7,201.4 L938.1,202.8 L939.6,204.1 L941.0,205.5 L942.4,206.8 L943.9,208.1 L945.3,209.4 L946.7,210.6 L948.1,211.8 L949.5,213.0 L951.0,214.2 L952.4,215.3 L953.8,216.4 L955.2,217.4 L956.6,218.5 L958.0,219.5 L959.3,220.4 L960.7,221.4 L962.1,222.3 L963.5,223.1 L964.8,224.0 L966.2,224.8 L967.5,225.5 L968.9,226.2 L970.2,226.9 L971.6,227.6 L972.9,228.2 L974.2,228.8 L975.6,229.3 L976.9,229.8 L978.2,230.3 L979.5,230.7 L980.8,231.1 L982.1,231.5 L983.4,231.8 L984.7,232.1 L986.0,232.3 L987.4,232.6" fill="none" stroke="#3d3d3d" stroke-width="0.9"/><path d="M794.6,133.0 L796.0,133.0 L797.3,132.5 L798.6,132.6 L799.9,132.6 L801.2,132.7 L802.5,132.8 L803.8,133.0 L805.1,133.1 L806.4,133.3 L807.8,133.5 L809.1,133.8 L810.4,134.0 L811.7,134.3 L813.1,134.6 L814.4,135.0 L815.7,135.3 L817.1,135.7 L818.4,136.1 L819.8,136.5 L821.2,137.0 L822.5,137.5 L823.9,138.0 L825.3,138.5 L826.6,139.1 L828.0,139.7 L829.4,140.3 L830.8,140.9 L832.2,141.5 L833.6,142.2 L835.0,142.9 L836.4,143.6 L837.8,144.4 L839.3,145.2 L840.7,145.9 L842.1,146.8 L843.5,147.6 L845.0,148.4 L846.4,149.3 L847.9,150.2 L849.3,151.1 L850.8,152.1 L852.2,153.0 L853.7,154.0 L855.1,155.0 L856.6,156.0 L858.0,157.0 L859.5,158.1 L861.0,159.2 L862.5,160.2 L863.9,161.3 L865.4,162.5 L866.9,163.6 L868.4,164.7 L869.9,165.9 L871.3,167.0 L872.8,168.2 L874.3,169.4 L875.8,170.6 L877.3,171.8 L878.8,173.1 L880.3,174.3 L881.8,175.6 L883.3,176.8 L884.8,178.1 L886.3,179.3 L887.9,180.6 L889.4,181.9 L890.9,183.2 L892.4,184.5 L893.9,185.8 L895.4,187.1 L897.0,188.4 L898.5,189.7 L899.8,190.9 L901.1,192.1 L902.5,193.5 L904.1,195.1 L905.6,196.6 L907.1,198.1 L908.7,199.7 L910.2,201.2 L911.8,202.7 L913.3,204.3 L914.8,205.8 L916.4,207.3 L918.0,208.8 L919.5,210.3 L921.1,211.7 L922.6,213.2 L924.2,214.6 L925.8,216.1 L927.3,217.5 L928.9,218.9 L930.5,220.3 L932.1,221.6 L933.7,222.9 L935.3,224.3 L936.9,225.5 L938.5,226.8 L940.1,228.0 L941.7,229.3 L943.3,230.4 L944.9,231.6 L946.5,232.7 L948.1,233.8 L949.8,234.9 L951.4,235.9 L953.0,236.9 L954.7,237.9 L956.3,238.8 L958.0,239.7 L959.6,240.6 L961.3,241.4 L963.0,242.2 L964.6,242.9 L966.3,243.6 L968.0,244.3 L969.7,244.9 L971.4,245.5 L973.1,246.1 L974.8,246.6 L976.5,247.0 L978.2,247.5 L979.9,247.8 L981.6,248.2 L983.4,248.5 L985.0,248.7" fill="none" stroke="#3d3d3d" stroke-width="0.9"/><path d="M985.0,145.2 L986.7,145.5 L988.5,145.8 L990.3,146.2 L992.1,146.7 L993.9,147.3 L995.7,148.0 L997.5,148.7 L999.2,149.4 L1000.9,150.3 L1002.7,151.2 L1004.4,152.1 L1006.1,153.2 L1007.8,154.2 L1009.4,155.3 L1011.1,156.5 L1012.7,157.7 L1014.4,159.0 L1016.0,160.3 L1017.6,161.7 L1019.2,163.1 L1020.8,164.6 L1022.4,166.1 L1024.0,167.6 L1025.6,169.2 L1027.2,170.8 L1028.7,172.4 L1030.3,174.1 L1031.8,175.8 L1033.4,177.5 L1034.9,179.2 L1036.5,181.0 L1038.0,182.8 L1039.5,184.6 L1041.1,186.4 L1042.6,188.3 L1044.1,190.2 L1045.6,192.0 L1047.1,193.9 L1048.6,195.8 L1050.1,197.7 L1051.7,199.6 L1053.2,201.5 L1054.7,203.5 L1056.3,205.5 L1057.7,207.5 L1059.2,209.4 L1060.7,211.3 L1062.2,213.2 L1063.6,215.0 L1065.1,216.8 L1066.5,218.5 L1067.9,220.2 L1069.4,221.8 L1070.8,223.4 L1072.2,224.9 L1073.6,226.3 L1074.9,227.6 L1076.3,228.9 L1077.6,230.0 L1079.0,231.1 L1080.3,232.1 L1081.5,233.0 L1082.8,233.8 L1084.0,234.5 L1085.2,235.1 L1086.4,235.7 L1087.5,236.1 L1088.6,236.5 L1089.7,236.8 L1090.8,237.0 L1092.1,237.2 L1090.3,251.0 L1088.6,250.9 L1086.7,250.5 L1084.7,250.0 L1082.8,249.5 L1080.9,248.7 L1079.1,247.9 L1077.2,247.0 L1075.4,246.0 L1073.6,244.9 L1071.9,243.7 L1070.2,242.4 L1068.5,241.1 L1066.8,239.7 L1065.1,238.2 L1063.5,236.6 L1061.8,235.0 L1060.2,233.3 L1058.6,231.6 L1057.0,229.9 L1055.4,228.0 L1053.8,226.2 L1052.2,224.3 L1050.7,222.4 L1049.1,220.5 L1047.5,218.5 L1046.0,216.6 L1044.5,214.6 L1043.0,212.7 L1041.5,210.8 L1040.0,209.0 L1038.5,207.1 L1036.9,205.3 L1035.4,203.4 L1033.9,201.6 L1032.4,199.8 L1030.9,198.0 L1029.4,196.2 L1027.9,194.5 L1026.4,192.8 L1024.9,191.1 L1023.4,189.4 L1022.0,187.8 L1020.5,186.2 L1019.0,184.6 L1017.5,183.1 L1016.1,181.6 L1014.6,180.2 L1013.2,178.8 L1011.7,177.5 L1010.3,176.2 L1008.9,174.9 L1007.5,173.7 L1006.1,172.6 L1004.7,171.5 L1003.3,170.4 L1001.9,169.4 L1000.5,168.5 L999.2,167.6 L997.8,166.8 L996.5,166.0 L995.2,165.3 L993.9,164.7 L992.6,164.1 L991.3,163.6 L990.1,163.1 L988.8,162.7 L987.6,162.3 L986.4,162.0 L985.2,161.8 L983.9,161.5 L982.6,161.4 Z" fill="url(#hgd)"/><path d="M985.0,145.2 L986.7,145.5 L988.5,145.8 L990.3,146.2 L992.1,146.7 L993.9,147.3 L995.7,148.0 L997.5,148.7 L999.2,149.4 L1000.9,150.3 L1002.7,151.2 L1004.4,152.1 L1006.1,153.2 L1007.8,154.2 L1009.4,155.3 L1011.1,156.5 L1012.7,157.7 L1014.4,159.0 L1016.0,160.3 L1017.6,161.7 L1019.2,163.1 L1020.8,164.6 L1022.4,166.1 L1024.0,167.6 L1025.6,169.2 L1027.2,170.8 L1028.7,172.4 L1030.3,174.1 L1031.8,175.8 L1033.4,177.5 L1034.9,179.2 L1036.5,181.0 L1038.0,182.8 L1039.5,184.6 L1041.1,186.4 L1042.6,188.3 L1044.1,190.2 L1045.6,192.0 L1047.1,193.9 L1048.6,195.8 L1050.1,197.7 L1051.7,199.6 L1053.2,201.5 L1054.7,203.5 L1056.3,205.5 L1057.7,207.5 L1059.2,209.4 L1060.7,211.3 L1062.2,213.2 L1063.6,215.0 L1065.1,216.8 L1066.5,218.5 L1067.9,220.2 L1069.4,221.8 L1070.8,223.4 L1072.2,224.9 L1073.6,226.3 L1074.9,227.6 L1076.3,228.9 L1077.6,230.0 L1079.0,231.1 L1080.3,232.1 L1081.5,233.0 L1082.8,233.8 L1084.0,234.5 L1085.2,235.1 L1086.4,235.7 L1087.5,236.1 L1088.6,236.5 L1089.7,236.8 L1090.8,237.0 L1092.1,237.2 L1090.7,248.0 L1089.1,247.8 L1087.3,247.5 L1085.6,247.1 L1083.8,246.5 L1082.1,245.9 L1080.4,245.1 L1078.7,244.3 L1077.0,243.3 L1075.4,242.3 L1073.7,241.2 L1072.1,239.9 L1070.5,238.7 L1068.9,237.3 L1067.3,235.8 L1065.7,234.3 L1064.1,232.8 L1062.5,231.1 L1061.0,229.5 L1059.4,227.7 L1057.8,225.9 L1056.3,224.1 L1054.7,222.3 L1053.2,220.4 L1051.7,218.5 L1050.1,216.5 L1048.6,214.6 L1047.1,212.6 L1045.5,210.7 L1044.1,208.8 L1042.6,206.9 L1041.0,205.1 L1039.5,203.2 L1038.0,201.3 L1036.5,199.5 L1035.0,197.7 L1033.5,195.9 L1032.0,194.1 L1030.5,192.3 L1029.0,190.6 L1027.5,188.9 L1026.0,187.2 L1024.5,185.5 L1023.0,183.9 L1021.5,182.3 L1020.0,180.8 L1018.5,179.2 L1017.0,177.8 L1015.6,176.3 L1014.1,174.9 L1012.6,173.6 L1011.2,172.3 L1009.7,171.1 L1008.2,169.9 L1006.8,168.7 L1005.3,167.6 L1003.9,166.6 L1002.5,165.6 L1001.1,164.7 L999.6,163.8 L998.2,163.0 L996.8,162.2 L995.4,161.5 L994.1,160.9 L992.7,160.3 L991.3,159.8 L989.9,159.3 L988.6,158.9 L987.2,158.5 L985.9,158.2 L984.5,158.0 L983.1,157.8 Z" fill="url(#hg)"/><path d="M985.0,145.2 L986.7,145.5 L988.5,145.8 L990.3,146.2 L992.1,146.7 L993.9,147.3 L995.7,148.0 L997.5,148.7 L999.2,149.4 L1000.9,150.3 L1002.7,151.2 L1004.4,152.1 L1006.1,153.2 L1007.8,154.2 L1009.4,155.3 L1011.1,156.5 L1012.7,157.7 L1014.4,159.0 L1016.0,160.3 L1017.6,161.7 L1019.2,163.1 L1020.8,164.6 L1022.4,166.1 L1024.0,167.6 L1025.6,169.2 L1027.2,170.8 L1028.7,172.4 L1030.3,174.1 L1031.8,175.8 L1033.4,177.5 L1034.9,179.2 L1036.5,181.0 L1038.0,182.8 L1039.5,184.6 L1041.1,186.4 L1042.6,188.3 L1044.1,190.2 L1045.6,192.0 L1047.1,193.9 L1048.6,195.8 L1050.1,197.7 L1051.7,199.6 L1053.2,201.5 L1054.7,203.5 L1056.3,205.5 L1057.7,207.5 L1059.2,209.4 L1060.7,211.3 L1062.2,213.2 L1063.6,215.0 L1065.1,216.8 L1066.5,218.5 L1067.9,220.2 L1069.4,221.8 L1070.8,223.4 L1072.2,224.9 L1073.6,226.3 L1074.9,227.6 L1076.3,228.9 L1077.6,230.0 L1079.0,231.1 L1080.3,232.1 L1081.5,233.0 L1082.8,233.8 L1084.0,234.5 L1085.2,235.1 L1086.4,235.7 L1087.5,236.1 L1088.6,236.5 L1089.7,236.8 L1090.8,237.0 L1092.1,237.2" fill="none" stroke="#3d3d3d" stroke-width="0.9"/><path d="M982.6,161.4 L983.9,161.5 L985.2,161.8 L986.4,162.0 L987.6,162.3 L988.8,162.7 L990.1,163.1 L991.3,163.6 L992.6,164.1 L993.9,164.7 L995.2,165.3 L996.5,166.0 L997.8,166.8 L999.2,167.6 L1000.5,168.5 L1001.9,169.4 L1003.3,170.4 L1004.7,171.5 L1006.1,172.6 L1007.5,173.7 L1008.9,174.9 L1010.3,176.2 L1011.7,177.5 L1013.2,178.8 L1014.6,180.2 L1016.1,181.6 L1017.5,183.1 L1019.0,184.6 L1020.5,186.2 L1022.0,187.8 L1023.4,189.4 L1024.9,191.1 L1026.4,192.8 L1027.9,194.5 L1029.4,196.2 L1030.9,198.0 L1032.4,199.8 L1033.9,201.6 L1035.4,203.4 L1036.9,205.3 L1038.5,207.1 L1040.0,209.0 L1041.5,210.8 L1043.0,212.7 L1044.5,214.6 L1046.0,216.6 L1047.5,218.5 L1049.1,220.5 L1050.7,222.4 L1052.2,224.3 L1053.8,226.2 L1055.4,228.0 L1057.0,229.9 L1058.6,231.6 L1060.2,233.3 L1061.8,235.0 L1063.5,236.6 L1065.1,238.2 L1066.8,239.7 L1068.5,241.1 L1070.2,242.4 L1071.9,243.7 L1073.6,244.9 L1075.4,246.0 L1077.2,247.0 L1079.1,247.9 L1080.9,248.7 L1082.8,249.5 L1084.7,250.0 L1086.7,250.5 L1088.6,250.9 L1090.3,251.0" fill="none" stroke="#3d3d3d" stroke-width="0.9"/><path d="M1089.7,174.9 L1091.4,175.1 L1093.3,175.6 L1095.2,176.1 L1097.1,176.7 L1098.9,177.5 L1100.8,178.4 L1102.5,179.3 L1104.3,180.4 L1106.0,181.5 L1107.7,182.7 L1109.4,184.1 L1111.0,185.4 L1112.6,186.9 L1114.2,188.4 L1115.8,190.0 L1117.4,191.6 L1119.0,193.3 L1120.5,195.1 L1122.1,196.8 L1123.6,198.7 L1125.1,200.5 L1126.6,202.5 L1128.1,204.4 L1129.6,206.3 L1131.1,208.3 L1132.6,210.3 L1134.1,212.3 L1135.6,214.3 L1137.1,216.4 L1138.6,218.6 L1140.0,220.6 L1141.5,222.6 L1142.9,224.6 L1144.3,226.4 L1145.7,228.1 L1147.0,229.8 L1148.4,231.2 L1149.7,232.6 L1150.9,233.8 L1152.2,234.8 L1153.4,235.7 L1154.5,236.4 L1155.6,237.0 L1156.6,237.4 L1157.6,237.7 L1158.9,237.9 L1157.5,247.4 L1155.8,247.2 L1153.8,246.8 L1151.8,246.1 L1149.8,245.3 L1147.9,244.2 L1146.1,243.0 L1144.3,241.7 L1142.6,240.2 L1140.9,238.6 L1139.2,236.9 L1137.5,235.1 L1135.9,233.2 L1134.3,231.2 L1132.7,229.2 L1131.1,227.2 L1129.5,225.1 L1128.0,223.1 L1126.5,221.2 L1125.0,219.3 L1123.5,217.4 L1121.9,215.5 L1120.4,213.6 L1118.9,211.8 L1117.4,210.0 L1115.9,208.3 L1114.4,206.6 L1112.9,204.9 L1111.4,203.4 L1109.9,201.8 L1108.5,200.4 L1107.0,199.0 L1105.6,197.7 L1104.2,196.5 L1102.8,195.4 L1101.4,194.3 L1100.1,193.4 L1098.7,192.5 L1097.4,191.8 L1096.2,191.1 L1094.9,190.5 L1093.7,190.1 L1092.6,189.7 L1091.4,189.3 L1090.3,189.1 L1089.2,189.0 L1087.9,188.8 Z" fill="url(#hgd)"/><path d="M1089.7,174.9 L1091.4,175.1 L1093.3,175.6 L1095.2,176.1 L1097.1,176.7 L1098.9,177.5 L1100.8,178.4 L1102.5,179.3 L1104.3,180.4 L1106.0,181.5 L1107.7,182.7 L1109.4,184.1 L1111.0,185.4 L1112.6,186.9 L1114.2,188.4 L1115.8,190.0 L1117.4,191.6 L1119.0,193.3 L1120.5,195.1 L1122.1,196.8 L1123.6,198.7 L1125.1,200.5 L1126.6,202.5 L1128.1,204.4 L1129.6,206.3 L1131.1,208.3 L1132.6,210.3 L1134.1,212.3 L1135.6,214.3 L1137.1,216.4 L1138.6,218.6 L1140.0,220.6 L1141.5,222.6 L1142.9,224.6 L1144.3,226.4 L1145.7,228.1 L1147.0,229.8 L1148.4,231.2 L1149.7,232.6 L1150.9,233.8 L1152.2,234.8 L1153.4,235.7 L1154.5,236.4 L1155.6,237.0 L1156.6,237.4 L1157.6,237.7 L1158.9,237.9 L1157.8,245.3 L1156.2,245.1 L1154.4,244.7 L1152.6,244.1 L1150.9,243.3 L1149.1,242.4 L1147.4,241.2 L1145.8,239.9 L1144.1,238.5 L1142.5,237.0 L1140.9,235.3 L1139.3,233.6 L1137.8,231.7 L1136.2,229.8 L1134.6,227.8 L1133.1,225.8 L1131.5,223.7 L1130.0,221.6 L1128.5,219.7 L1127.0,217.8 L1125.5,215.8 L1123.9,213.9 L1122.4,212.0 L1120.9,210.2 L1119.4,208.4 L1117.9,206.6 L1116.4,204.8 L1114.9,203.2 L1113.4,201.5 L1111.9,200.0 L1110.4,198.5 L1109.0,197.0 L1107.5,195.7 L1106.0,194.4 L1104.6,193.2 L1103.2,192.1 L1101.7,191.1 L1100.3,190.1 L1099.0,189.3 L1097.6,188.5 L1096.2,187.9 L1094.9,187.3 L1093.6,186.8 L1092.3,186.4 L1091.0,186.1 L1089.7,185.9 L1088.3,185.8 Z" fill="url(#hg)"/><path d="M1089.7,174.9 L1091.4,175.1 L1093.3,175.6 L1095.2,176.1 L1097.1,176.7 L1098.9,177.5 L1100.8,178.4 L1102.5,179.3 L1104.3,180.4 L1106.0,181.5 L1107.7,182.7 L1109.4,184.1 L1111.0,185.4 L1112.6,186.9 L1114.2,188.4 L1115.8,190.0 L1117.4,191.6 L1119.0,193.3 L1120.5,195.1 L1122.1,196.8 L1123.6,198.7 L1125.1,200.5 L1126.6,202.5 L1128.1,204.4 L1129.6,206.3 L1131.1,208.3 L1132.6,210.3 L1134.1,212.3 L1135.6,214.3 L1137.1,216.4 L1138.6,218.6 L1140.0,220.6 L1141.5,222.6 L1142.9,224.6 L1144.3,226.4 L1145.7,228.1 L1147.0,229.8 L1148.4,231.2 L1149.7,232.6 L1150.9,233.8 L1152.2,234.8 L1153.4,235.7 L1154.5,236.4 L1155.6,237.0 L1156.6,237.4 L1157.6,237.7 L1158.9,237.9" fill="none" stroke="#3d3d3d" stroke-width="0.9"/><path d="M1087.9,188.8 L1089.2,189.0 L1090.3,189.1 L1091.4,189.3 L1092.6,189.7 L1093.7,190.1 L1094.9,190.5 L1096.2,191.1 L1097.4,191.8 L1098.7,192.5 L1100.1,193.4 L1101.4,194.3 L1102.8,195.4 L1104.2,196.5 L1105.6,197.7 L1107.0,199.0 L1108.5,200.4 L1109.9,201.8 L1111.4,203.4 L1112.9,204.9 L1114.4,206.6 L1115.9,208.3 L1117.4,210.0 L1118.9,211.8 L1120.4,213.6 L1121.9,215.5 L1123.5,217.4 L1125.0,219.3 L1126.5,221.2 L1128.0,223.1 L1129.5,225.1 L1131.1,227.2 L1132.7,229.2 L1134.3,231.2 L1135.9,233.2 L1137.5,235.1 L1139.2,236.9 L1140.9,238.6 L1142.6,240.2 L1144.3,241.7 L1146.1,243.0 L1147.9,244.2 L1149.8,245.3 L1151.8,246.1 L1153.8,246.8 L1155.8,247.2 L1157.5,247.4" fill="none" stroke="#3d3d3d" stroke-width="0.9"/><path d="M1156.4,198.5 L1158.1,198.8 L1160.0,199.3 L1161.9,199.8 L1163.7,200.5 L1165.5,201.3 L1167.3,202.2 L1169.0,203.2 L1170.8,204.4 L1172.4,205.6 L1174.1,206.9 L1175.8,208.3 L1177.4,209.7 L1179.0,211.3 L1180.6,212.8 L1182.2,214.5 L1183.8,216.1 L1185.4,217.9 L1186.9,219.6 L1188.5,221.4 L1190.0,223.1 L1191.6,224.9 L1184.4,231.1 L1182.9,229.4 L1181.4,227.6 L1179.9,225.9 L1178.4,224.2 L1176.9,222.6 L1175.4,221.0 L1173.9,219.5 L1172.4,218.1 L1171.0,216.7 L1169.6,215.5 L1168.1,214.3 L1166.8,213.2 L1165.4,212.2 L1164.0,211.3 L1162.7,210.5 L1161.4,209.9 L1160.2,209.3 L1158.9,208.9 L1157.7,208.5 L1156.5,208.3 L1155.2,208.2 Z" fill="url(#hgd)"/><path d="M1156.4,198.5 L1158.1,198.8 L1160.0,199.3 L1161.9,199.8 L1163.7,200.5 L1165.5,201.3 L1167.3,202.2 L1169.0,203.2 L1170.8,204.4 L1172.4,205.6 L1174.1,206.9 L1175.8,208.3 L1177.4,209.7 L1179.0,211.3 L1180.6,212.8 L1182.2,214.5 L1183.8,216.1 L1185.4,217.9 L1186.9,219.6 L1188.5,221.4 L1190.0,223.1 L1191.6,224.9 L1186.0,229.7 L1184.5,228.0 L1182.9,226.2 L1181.4,224.5 L1179.9,222.8 L1178.4,221.2 L1176.9,219.6 L1175.4,218.1 L1173.9,216.6 L1172.4,215.2 L1170.9,213.9 L1169.5,212.6 L1168.0,211.5 L1166.6,210.5 L1165.1,209.5 L1163.7,208.7 L1162.3,208.0 L1160.9,207.4 L1159.6,206.9 L1158.2,206.5 L1156.9,206.2 L1155.5,206.1 Z" fill="url(#hg)"/><path d="M1156.4,198.5 L1158.1,198.8 L1160.0,199.3 L1161.9,199.8 L1163.7,200.5 L1165.5,201.3 L1167.3,202.2 L1169.0,203.2 L1170.8,204.4 L1172.4,205.6 L1174.1,206.9 L1175.8,208.3 L1177.4,209.7 L1179.0,211.3 L1180.6,212.8 L1182.2,214.5 L1183.8,216.1 L1185.4,217.9 L1186.9,219.6 L1188.5,221.4 L1190.0,223.1 L1191.6,224.9" fill="none" stroke="#3d3d3d" stroke-width="0.9"/><path d="M1155.2,208.2 L1156.5,208.3 L1157.7,208.5 L1158.9,208.9 L1160.2,209.3 L1161.4,209.9 L1162.7,210.5 L1164.0,211.3 L1165.4,212.2 L1166.8,213.2 L1168.1,214.3 L1169.6,215.5 L1171.0,216.7 L1172.4,218.1 L1173.9,219.5 L1175.4,221.0 L1176.9,222.6 L1178.4,224.2 L1179.9,225.9 L1181.4,227.6 L1182.9,229.4 L1184.4,231.1" fill="none" stroke="#3d3d3d" stroke-width="0.9"/><text x="770" y="105.2" font-family='"Liberation Sans", sans-serif' font-size="13" fill="#111" text-anchor="middle">M</text><text x="845" y="113.7" font-family='"Liberation Sans", sans-serif' font-size="13" fill="#111" text-anchor="middle">M</text><text x="989.4" y="138.7" font-family='"Liberation Sans", sans-serif' font-size="11" fill="#111" text-anchor="middle">M</text><text x="886.6" y="245.7" font-family='"Liberation Sans", sans-serif' font-size="13" fill="#111" text-anchor="middle">M</text><text x="807" y="267.2" font-family='"Liberation Sans", sans-serif' font-size="13" fill="#111" text-anchor="middle">M</text><text x="1012.5" y="255.5" font-family='"Liberation Sans", sans-serif' font-size="11" fill="#111" text-anchor="middle">M</text><text x="686.7" y="38" font-family='"Liberation Sans", sans-serif' font-size="26.5" fill="#111" textLength="296.57" lengthAdjust="spacingAndGlyphs">Methylation sequencing</text><text x="686.7" y="69.5" font-family='"Liberation Sans", sans-serif' font-size="26.5" fill="#111" textLength="228.91" lengthAdjust="spacingAndGlyphs">Methylation arrays</text><text x="894.6" y="353.7" font-family='"Liberation Sans", sans-serif' font-size="26.5" fill="#111" textLength="125.98" lengthAdjust="spacingAndGlyphs">ATAC-Seq</text><text x="720.2" y="777" font-family='"Liberation Sans", sans-serif' font-size="26.5" fill="#111" textLength="117.13" lengthAdjust="spacingAndGlyphs">ChIP-Seq</text><circle cx="116.6" cy="589" r="112.3" fill="#dcdcdc" stroke="#4a4a4a" stroke-width="1"/><circle cx="118" cy="581.5" r="104" fill="#f3f3f3"/><ellipse cx="124" cy="575" rx="94" ry="90" fill="url(#cin)"/><path d="M103.0,534.0 L104.1,535.4 L105.5,537.2 L107.2,539.3 L109.2,541.7 L111.2,544.3 L113.2,546.9 L115.2,549.5 L117.0,552.0 L118.7,554.4 L120.3,556.9 L121.9,559.3 L123.5,561.8 L125.2,564.4 L126.9,567.0 L128.6,569.7 L130.5,572.5 L132.5,575.4 L134.7,578.4 L137.0,581.6 L139.3,584.8 L141.7,588.0 L143.9,591.1 L146.0,594.1 L148.0,597.0 L149.8,599.9 L151.7,602.8 L153.4,605.7 L155.1,608.5 L156.6,611.2 L158.0,613.5 L159.1,615.5 L160.0,617.0" fill="none" stroke="#c6c6c6" stroke-width="9.6" stroke-linecap="round"/><path d="M84.0,559.0 L85.7,559.5 L87.9,560.3 L90.5,561.1 L93.5,562.1 L96.6,563.1 L99.8,564.1 L103.0,565.1 L106.0,566.0 L108.9,566.8 L111.9,567.6 L115.0,568.3 L118.0,569.1 L121.1,569.9 L124.2,570.7 L127.4,571.5 L130.5,572.5 L133.7,573.5 L136.9,574.7 L140.1,575.9 L143.4,577.1 L146.6,578.3 L149.8,579.6 L153.0,580.8 L156.0,582.0 L159.1,583.2 L162.3,584.5 L165.5,585.8 L168.6,587.1 L171.5,588.3 L174.1,589.4 L176.3,590.3 L178.0,591.0" fill="none" stroke="#c6c6c6" stroke-width="9.6" stroke-linecap="round"/><path d="M103.0,534.0 L104.1,535.4 L105.5,537.2 L107.2,539.3 L109.2,541.7 L111.2,544.3 L113.2,546.9 L115.2,549.5 L117.0,552.0 L118.7,554.4 L120.3,556.9 L121.9,559.3 L123.5,561.8 L125.2,564.4 L126.9,567.0 L128.6,569.7 L130.5,572.5 L132.5,575.4 L134.7,578.4 L137.0,581.6 L139.3,584.8 L141.7,588.0 L143.9,591.1 L146.0,594.1 L148.0,597.0 L149.8,599.9 L151.7,602.8 L153.4,605.7 L155.1,608.5 L156.6,611.2 L158.0,613.5 L159.1,615.5 L160.0,617.0" fill="none" stroke="#f8f8f8" stroke-width="8" stroke-linecap="round"/><path d="M84.0,559.0 L85.7,559.5 L87.9,560.3 L90.5,561.1 L93.5,562.1 L96.6,563.1 L99.8,564.1 L103.0,565.1 L106.0,566.0 L108.9,566.8 L111.9,567.6 L115.0,568.3 L118.0,569.1 L121.1,569.9 L124.2,570.7 L127.4,571.5 L130.5,572.5 L133.7,573.5 L136.9,574.7 L140.1,575.9 L143.4,577.1 L146.6,578.3 L149.8,579.6 L153.0,580.8 L156.0,582.0 L159.1,583.2 L162.3,584.5 L165.5,585.8 L168.6,587.1 L171.5,588.3 L174.1,589.4 L176.3,590.3 L178.0,591.0" fill="none" stroke="#f8f8f8" stroke-width="8" stroke-linecap="round"/><path d="M138.0,525.0 L139.7,525.8 L142.0,526.8 L144.6,528.1 L147.6,529.4 L150.8,530.9 L154.0,532.3 L157.1,533.7 L160.0,535.0 L162.9,536.2 L166.0,537.5 L169.2,538.8 L172.4,540.1 L175.4,541.3 L178.0,542.4 L180.3,543.3 L182.0,544.0" fill="none" stroke="#d8d8d8" stroke-width="6.2" stroke-linecap="round"/><path d="M138.0,525.0 L139.7,525.8 L142.0,526.8 L144.6,528.1 L147.6,529.4 L150.8,530.9 L154.0,532.3 L157.1,533.7 L160.0,535.0 L162.9,536.2 L166.0,537.5 L169.2,538.8 L172.4,540.1 L175.4,541.3 L178.0,542.4 L180.3,543.3 L182.0,544.0" fill="none" stroke="#d8d8d8" stroke-width="5" stroke-linecap="round"/><path d="M137.0,538.0 L138.8,537.7 L141.2,537.3 L144.0,536.7 L147.1,536.2 L150.4,535.6 L153.8,535.0 L157.0,534.5 L160.0,534.0 L162.9,533.6 L166.1,533.1 L169.3,532.7 L172.4,532.2 L175.4,531.9 L178.1,531.5 L180.3,531.2 L182.0,531.0" fill="none" stroke="#d8d8d8" stroke-width="6.2" stroke-linecap="round"/><path d="M137.0,538.0 L138.8,537.7 L141.2,537.3 L144.0,536.7 L147.1,536.2 L150.4,535.6 L153.8,535.0 L157.0,534.5 L160.0,534.0 L162.9,533.6 L166.1,533.1 L169.3,532.7 L172.4,532.2 L175.4,531.9 L178.1,531.5 L180.3,531.2 L182.0,531.0" fill="none" stroke="#d8d8d8" stroke-width="5" stroke-linecap="round"/><path d="M84.0,591.0 L84.8,592.5 L85.8,594.4 L87.0,596.6 L88.3,599.2 L89.7,601.9 L91.2,604.7 L92.6,607.4 L94.0,610.0 L95.4,612.7 L96.9,615.6 L98.5,618.7 L100.1,621.7 L101.6,624.6 L103.0,627.2 L104.1,629.4 L105.0,631.0" fill="none" stroke="#d8d8d8" stroke-width="6.2" stroke-linecap="round"/><path d="M84.0,591.0 L84.8,592.5 L85.8,594.4 L87.0,596.6 L88.3,599.2 L89.7,601.9 L91.2,604.7 L92.6,607.4 L94.0,610.0 L95.4,612.7 L96.9,615.6 L98.5,618.7 L100.1,621.7 L101.6,624.6 L103.0,627.2 L104.1,629.4 L105.0,631.0" fill="none" stroke="#d8d8d8" stroke-width="5" stroke-linecap="round"/><path d="M99.0,587.0 L98.8,588.8 L98.5,591.1 L98.2,593.9 L97.8,597.0 L97.4,600.3 L97.0,603.6 L96.5,606.9 L96.0,610.0 L95.4,613.1 L94.8,616.5 L94.1,620.0 L93.3,623.4 L92.6,626.7 L91.9,629.7 L91.4,632.1 L91.0,634.0" fill="none" stroke="#d8d8d8" stroke-width="6.2" stroke-linecap="round"/><path d="M99.0,587.0 L98.8,588.8 L98.5,591.1 L98.2,593.9 L97.8,597.0 L97.4,600.3 L97.0,603.6 L96.5,606.9 L96.0,610.0 L95.4,613.1 L94.8,616.5 L94.1,620.0 L93.3,623.4 L92.6,626.7 L91.9,629.7 L91.4,632.1 L91.0,634.0" fill="none" stroke="#d8d8d8" stroke-width="5" stroke-linecap="round"/><path d="M182,592 L228,613" stroke="#cfcfcf" stroke-width="4" fill="none"/><path d="M182,592 L228,613" stroke="#f8f8f8" stroke-width="2.4" fill="none"/><path d="M225.5,614.7 L227.2,615.3 L229.4,615.9 L232.0,616.7 L234.9,617.6 L238.0,618.6 L241.3,619.6 L244.8,620.7 L248.3,621.8 L251.8,622.8 L255.2,623.9 L258.4,624.9 L261.5,625.8 L264.3,626.7 L267.2,627.6 L270.0,628.5 L272.9,629.5 L275.7,630.4 L278.5,631.3 L281.3,632.2 L284.1,633.0 L287.0,633.9 L289.8,634.6 L292.7,635.3 L295.6,635.9 L298.6,636.5 L301.7,637.1 L305.0,637.6 L308.2,638.1 L311.5,638.5 L314.8,638.9 L318.0,639.2 L321.0,639.5 L323.9,639.7 L326.6,639.7 L329.0,639.7 L331.2,639.6 L333.2,639.3 L334.9,638.8 L336.4,638.3 L337.8,637.6 L339.0,636.7 L340.0,635.8 L340.8,634.8 L341.4,633.7 L342.0,632.7 L342.4,631.6 L342.8,630.6 L343.1,629.6 L343.4,628.6 L343.7,627.6 L343.8,626.5 L343.9,625.3 L343.9,624.1 L343.7,622.9 L343.5,621.6 L343.1,620.2 L342.5,618.8 L341.8,617.3 L341.0,615.6 L340.0,613.8 L338.9,611.9 L337.5,609.8 L336.1,607.5 L334.4,605.1 L332.7,602.6 L330.8,600.1 L328.8,597.4 L326.8,594.8 L324.6,592.1 L322.4,589.5 L320.1,586.8 L317.8,584.3 L315.3,581.8 L312.7,579.2 L309.9,576.7 L306.9,574.1 L304.0,571.6 L301.0,569.1 L298.0,566.6 L295.1,564.1 L292.3,561.6 L289.6,559.1 L287.2,556.7 L285.0,554.3 L282.9,551.8 L281.0,549.3 L279.1,546.8 L277.3,544.2 L275.6,541.7 L274.0,539.1 L272.5,536.6 L271.1,534.1 L269.8,531.7 L268.6,529.4 L267.5,527.1 L266.6,524.9 L265.7,522.8 L265.0,520.8 L264.3,518.8 L263.8,516.9 L263.4,515.1 L263.0,513.3 L262.8,511.6 L262.6,509.9 L262.6,508.3 L262.6,506.6 L262.7,505.0 L262.9,503.4 L263.2,501.9 L263.6,500.3 L264.2,498.7 L264.8,497.1 L265.5,495.6 L266.3,494.0 L267.2,492.6 L268.1,491.1 L269.1,489.8 L270.1,488.5 L271.2,487.3 L272.2,486.3 L273.3,485.3 L274.4,484.4 L275.7,483.6 L277.0,482.8 L278.5,482.1 L279.9,481.4 L281.4,480.8 L282.9,480.3 L284.4,479.8 L285.9,479.4 L287.3,479.0 L288.6,478.8 L289.8,478.6 L291.0,478.5 L292.4,478.6 L293.8,478.7 L295.2,478.9 L296.6,479.1 L297.9,479.3 L299.3,479.6 L300.5,479.9 L301.6,480.1 L302.7,480.3 L303.5,480.5 L304.5,473.5 L303.8,473.5 L302.9,473.3 L301.9,473.1 L300.6,472.9 L299.2,472.6 L297.7,472.4 L296.1,472.1 L294.4,472.0 L292.7,471.8 L290.9,471.8 L289.1,472.0 L287.4,472.2 L285.8,472.6 L284.2,473.0 L282.5,473.6 L280.8,474.1 L279.1,474.8 L277.3,475.5 L275.6,476.3 L273.9,477.2 L272.3,478.2 L270.7,479.3 L269.2,480.5 L267.8,481.7 L266.5,483.1 L265.3,484.5 L264.1,486.1 L263.0,487.7 L261.9,489.4 L260.9,491.1 L260.0,493.0 L259.2,494.8 L258.5,496.7 L257.9,498.7 L257.4,500.6 L257.1,502.6 L256.9,504.5 L256.7,506.4 L256.7,508.4 L256.8,510.3 L257.0,512.3 L257.3,514.3 L257.8,516.3 L258.3,518.4 L258.9,520.5 L259.6,522.7 L260.5,524.9 L261.4,527.1 L262.5,529.4 L263.6,531.8 L264.9,534.3 L266.3,536.8 L267.8,539.4 L269.4,542.0 L271.1,544.6 L272.9,547.3 L274.7,549.9 L276.7,552.5 L278.8,555.2 L281.0,557.7 L283.4,560.3 L286.0,562.9 L288.8,565.5 L291.7,568.0 L294.6,570.5 L297.7,573.0 L300.7,575.5 L303.6,578.0 L306.5,580.5 L309.3,582.9 L311.8,585.3 L314.2,587.7 L316.4,590.1 L318.7,592.7 L320.8,595.2 L322.9,597.8 L325.0,600.4 L326.9,602.9 L328.8,605.4 L330.5,607.9 L332.1,610.2 L333.6,612.3 L334.9,614.3 L336.0,616.2 L336.9,617.8 L337.7,619.3 L338.3,620.6 L338.7,621.7 L339.0,622.8 L339.3,623.7 L339.4,624.5 L339.4,625.3 L339.4,626.0 L339.3,626.7 L339.1,627.5 L338.9,628.4 L338.6,629.2 L338.3,630.1 L338.0,630.9 L337.7,631.6 L337.3,632.3 L336.8,632.9 L336.2,633.4 L335.5,634.0 L334.7,634.4 L333.6,634.8 L332.3,635.2 L330.8,635.4 L328.9,635.6 L326.6,635.6 L324.1,635.6 L321.3,635.4 L318.3,635.2 L315.2,634.9 L312.0,634.5 L308.8,634.1 L305.6,633.6 L302.4,633.1 L299.3,632.6 L296.4,632.1 L293.6,631.5 L290.8,630.8 L288.0,630.1 L285.2,629.3 L282.4,628.5 L279.6,627.6 L276.8,626.8 L274.0,625.8 L271.2,624.9 L268.3,624.0 L265.5,623.1 L262.5,622.2 L259.5,621.3 L256.2,620.3 L252.8,619.3 L249.4,618.2 L245.9,617.2 L242.4,616.1 L239.1,615.1 L235.9,614.2 L233.0,613.3 L230.5,612.5 L228.3,611.8 L226.5,611.3 Z" fill="#f4f4f2" stroke="#3d3d3d" stroke-width="0.9" stroke-linejoin="round"/><circle cx="305.0" cy="478.0" r="2.5" fill="#f1f1ef" stroke="#3d3d3d" stroke-width="0.8"/><circle cx="310.0" cy="481.0" r="3.2" fill="#f1f1ef" stroke="#3d3d3d" stroke-width="0.8"/><circle cx="316.0" cy="485.0" r="3.8" fill="#f1f1ef" stroke="#3d3d3d" stroke-width="0.8"/><circle cx="322.0" cy="490.0" r="4.5" fill="#f1f1ef" stroke="#3d3d3d" stroke-width="0.8"/><circle cx="327.0" cy="496.0" r="5.2" fill="#f1f1ef" stroke="#3d3d3d" stroke-width="0.8"/><circle cx="332.0" cy="503.0" r="5.8" fill="#f1f1ef" stroke="#3d3d3d" stroke-width="0.8"/><circle cx="335.0" cy="511.0" r="6.4" fill="#f1f1ef" stroke="#3d3d3d" stroke-width="0.8"/><circle cx="338.0" cy="519.0" r="6.8" fill="#f1f1ef" stroke="#3d3d3d" stroke-width="0.8"/><circle cx="340.0" cy="528.0" r="7.2" fill="#f1f1ef" stroke="#3d3d3d" stroke-width="0.8"/><circle cx="342.0" cy="537.0" r="7.5" fill="#f1f1ef" stroke="#3d3d3d" stroke-width="0.8"/><circle cx="344.0" cy="546.0" r="7.8" fill="#f1f1ef" stroke="#3d3d3d" stroke-width="0.8"/><circle cx="347.7" cy="555.0" r="8.2" fill="#f1f1ef" stroke="#3d3d3d" stroke-width="0.8"/><circle cx="355.5" cy="565.0" r="9.2" fill="#f1f1ef" stroke="#3d3d3d" stroke-width="0.8"/><ellipse cx="368" cy="570.8" rx="9.8" ry="11.2" fill="#d6d6d6" stroke="#3d3d3d" stroke-width="0.9"/><ellipse cx="380.8" cy="572.9" rx="9.8" ry="12.6" fill="#dadada" stroke="#3d3d3d" stroke-width="0.9"/><ellipse cx="399" cy="571.5" rx="12" ry="12.6" fill="#d8d8d8" stroke="#3d3d3d" stroke-width="0.9"/><ellipse cx="419.5" cy="572.2" rx="12.6" ry="14.8" fill="#dfdfdf" stroke="#3d3d3d" stroke-width="0.9"/><ellipse cx="435.6" cy="570" rx="12.6" ry="14.8" fill="#e4e4e4" stroke="#3d3d3d" stroke-width="0.9"/><ellipse cx="452.5" cy="568" rx="14" ry="17.6" fill="#a9a9a9" stroke="#3d3d3d" stroke-width="0.9"/><ellipse cx="473.6" cy="568.7" rx="16.9" ry="20.4" fill="#b1b1b1" stroke="#3d3d3d" stroke-width="0.9"/><ellipse cx="496" cy="570" rx="17" ry="20.4" fill="#a9a9a9" stroke="#3d3d3d" stroke-width="0.9"/><path d="M1182.9,232.6 L1183.9,232.6 L1185.0,232.8 L1186.4,233.0 L1187.9,233.2 L1189.4,233.4 L1191.1,233.7 L1192.8,234.0 L1194.4,234.3 L1195.9,234.6 L1197.4,235.0 L1198.9,235.4 L1200.5,235.5 L1202.1,235.5 L1203.8,235.5 L1205.3,235.5 L1206.9,235.6 L1208.4,235.7 L1209.8,235.9 L1211.1,236.2 L1212.3,236.5 L1213.5,236.9 L1214.7,237.6 L1215.9,238.4 L1217.0,239.3 L1218.1,240.2 L1219.1,241.1 L1220.0,242.1 L1220.7,243.0 L1221.4,243.9 L1221.8,244.7 L1222.1,245.4 L1222.4,246.1 L1222.6,246.9 L1222.7,247.7 L1222.7,248.5 L1222.7,249.3 L1222.5,250.1 L1222.4,250.9 L1222.1,251.7 L1221.8,252.4 L1221.4,253.0 L1220.8,253.8 L1220.1,254.6 L1219.1,255.5 L1218.1,256.5 L1217.0,257.5 L1215.8,258.4 L1214.6,259.4 L1213.5,260.5 L1212.5,261.4 L1211.6,262.3 L1210.8,263.0 L1210.0,263.8 L1209.1,264.6 L1208.2,265.4 L1207.3,266.2 L1206.4,267.2 L1205.6,268.2 L1204.9,269.4 L1204.3,270.7 L1203.8,272.0 L1203.5,273.3 L1203.3,274.6 L1203.3,275.9 L1203.3,277.2 L1203.4,278.5 L1203.6,279.8 L1203.9,281.1 L1204.2,282.3 L1204.8,283.6 L1205.5,284.8 L1206.4,286.0 L1207.3,287.0 L1208.3,287.9 L1209.2,288.7 L1210.2,289.4 L1211.1,290.1 L1211.9,290.7 L1212.6,291.2 L1213.1,291.7 L1213.7,292.2 L1214.3,292.7 L1214.8,293.2 L1215.3,293.7 L1215.8,294.1 L1216.3,294.5 L1216.7,294.9 L1217.1,295.2 L1217.4,295.5 L1217.6,295.7 L1222.4,290.3 L1222.1,290.1 L1221.8,289.8 L1221.4,289.5 L1221.0,289.1 L1220.6,288.7 L1220.1,288.3 L1219.6,287.9 L1219.1,287.4 L1218.5,286.9 L1217.9,286.3 L1217.1,285.6 L1216.3,285.0 L1215.4,284.3 L1214.6,283.7 L1213.7,283.1 L1213.0,282.4 L1212.4,281.9 L1211.8,281.3 L1211.5,280.8 L1211.2,280.4 L1211.0,279.9 L1210.8,279.2 L1210.6,278.5 L1210.5,277.7 L1210.5,276.9 L1210.5,276.1 L1210.5,275.3 L1210.6,274.6 L1210.8,273.9 L1210.9,273.3 L1211.2,272.9 L1211.5,272.4 L1211.9,271.9 L1212.4,271.3 L1213.1,270.6 L1213.9,269.9 L1214.7,269.2 L1215.6,268.4 L1216.6,267.5 L1217.5,266.6 L1218.4,265.7 L1219.4,264.9 L1220.5,263.9 L1221.6,262.9 L1222.8,261.9 L1224.1,260.8 L1225.2,259.6 L1226.4,258.4 L1227.4,257.1 L1228.2,255.6 L1228.8,254.2 L1229.3,252.8 L1229.6,251.4 L1229.8,250.0 L1229.9,248.5 L1229.9,247.1 L1229.7,245.6 L1229.3,244.2 L1228.8,242.7 L1228.2,241.3 L1227.4,240.0 L1226.4,238.6 L1225.4,237.3 L1224.2,236.1 L1222.9,234.9 L1221.6,233.7 L1220.2,232.6 L1218.7,231.6 L1217.2,230.5 L1215.7,229.5 L1214.1,228.6 L1212.4,227.8 L1210.7,227.0 L1208.9,226.4 L1207.2,225.8 L1205.4,225.2 L1203.6,224.7 L1201.9,224.3 L1200.3,224.0 L1198.6,224.0 L1196.9,224.0 L1195.0,224.1 L1193.1,224.3 L1191.3,224.4 L1189.6,224.7 L1187.9,224.9 L1186.4,225.1 L1185.0,225.3 L1183.9,225.4 L1183.1,225.4 Z" fill="#8d8d8d" stroke="#3d3d3d" stroke-width="0.9" stroke-linejoin="round"/><ellipse cx="1201" cy="232" rx="6.5" ry="2.4" fill="#fff" stroke="#3d3d3d" stroke-width="0.7"/><ellipse cx="1220.4" cy="293.4" rx="5.7" ry="4.8" fill="#9a9a9a" stroke="#3d3d3d" stroke-width="0.8"/><ellipse cx="1217" cy="300.2" rx="6.5" ry="5.6" fill="#a0a0a0" stroke="#3d3d3d" stroke-width="0.8"/><ellipse cx="1212.4" cy="307.5" rx="8" ry="6.6" fill="#a8a8a8" stroke="#3d3d3d" stroke-width="0.8"/><ellipse cx="1203.5" cy="316.2" rx="8.8" ry="7.6" fill="#b2b2b2" stroke="#3d3d3d" stroke-width="0.8"/><ellipse cx="1195" cy="324.5" rx="9.2" ry="8.5" fill="#bebebe" stroke="#3d3d3d" stroke-width="0.8"/><ellipse cx="1194" cy="334.6" rx="10.2" ry="9.2" fill="#d2d2d2" stroke="#3d3d3d" stroke-width="0.8"/><ellipse cx="1203" cy="345.8" rx="11" ry="9.6" fill="#e4e4e4" stroke="#3d3d3d" stroke-width="0.8"/><ellipse cx="1215" cy="354" rx="12" ry="10" fill="#eeeeec" stroke="#3d3d3d" stroke-width="0.8"/><ellipse cx="1229" cy="357.5" rx="12.5" ry="10" fill="#f0f0ee" stroke="#3d3d3d" stroke-width="0.8"/><ellipse cx="1245" cy="361.7" rx="13" ry="10.5" fill="#f0f0ee" stroke="#3d3d3d" stroke-width="0.8"/><ellipse cx="1184" cy="301" rx="7.5" ry="5" fill="#ef8f1f" stroke="#9a5a10" stroke-width="0.6"/><ellipse cx="1247" cy="338.5" rx="8" ry="5.5" fill="#ef8f1f" stroke="#9a5a10" stroke-width="0.6"/><rect x="792" y="368" width="327" height="218" fill="#f4f4f1"/><rect x="647.5" y="610.5" width="275.5" height="133" fill="#f4f4f1"/><path d="M505.5,527.0 L506.0,526.8 L506.6,526.7 L507.3,526.6 L508.0,526.7 L508.7,526.9 L509.5,527.2 L510.4,527.6 L511.3,528.2 L512.3,528.8 L513.3,529.5 L514.3,530.3 L515.4,531.2 L516.5,532.3 L517.7,533.4 L518.8,534.6 L520.0,535.8 L521.2,537.2 L522.5,538.6 L523.7,540.2 L525.0,541.8 L526.3,543.4 L527.6,545.1 L528.8,546.9 L530.1,548.7 L531.4,550.6 L532.6,552.5 L533.9,554.5 L535.1,556.5 L536.3,558.5 L537.5,560.5 L538.7,562.5 L539.8,564.6 L540.9,566.7 L542.0,568.7 L543.0,570.8 L544.0,572.8 L545.0,574.8 L545.9,576.8 L546.7,578.8 L547.5,580.7 L548.2,582.6 L548.9,584.5 L549.6,586.3 L550.1,588.0 L550.6,589.7 L551.1,591.3 L551.5,592.8 L551.8,594.3 L552.1,595.7 L552.2,597.0 L552.4,598.2 L552.4,599.4 L552.4,600.4 L552.3,601.4 L552.2,602.2 L552.0,603.0 L551.7,603.6 L551.4,604.2 L551.0,604.6 L550.5,605.0" fill="none" stroke="#3d3d3d" stroke-width="7.8"/><path d="M505.5,527.0 L506.0,526.8 L506.6,526.7 L507.3,526.6 L508.0,526.7 L508.7,526.9 L509.5,527.2 L510.4,527.6 L511.3,528.2 L512.3,528.8 L513.3,529.5 L514.3,530.3 L515.4,531.2 L516.5,532.3 L517.7,533.4 L518.8,534.6 L520.0,535.8 L521.2,537.2 L522.5,538.6 L523.7,540.2 L525.0,541.8 L526.3,543.4 L527.6,545.1 L528.8,546.9 L530.1,548.7 L531.4,550.6 L532.6,552.5 L533.9,554.5 L535.1,556.5 L536.3,558.5 L537.5,560.5 L538.7,562.5 L539.8,564.6 L540.9,566.7 L542.0,568.7 L543.0,570.8 L544.0,572.8 L545.0,574.8 L545.9,576.8 L546.7,578.8 L547.5,580.7 L548.2,582.6 L548.9,584.5 L549.6,586.3 L550.1,588.0 L550.6,589.7 L551.1,591.3 L551.5,592.8 L551.8,594.3 L552.1,595.7 L552.2,597.0 L552.4,598.2 L552.4,599.4 L552.4,600.4 L552.3,601.4 L552.2,602.2 L552.0,603.0 L551.7,603.6 L551.4,604.2 L551.0,604.6 L550.5,605.0" fill="none" stroke="#a0a0a0" stroke-width="6"/><g transform="translate(541,571) rotate(22)"><ellipse cx="0" cy="0" rx="43" ry="34.0" fill="#c7c7c7" stroke="#3d3d3d" stroke-width="0.9"/><g clip-path="url(#nc8)"><ellipse cx="0" cy="3.0" rx="43" ry="19" fill="#8f8f8f" stroke="#3d3d3d" stroke-width="0.8"/><ellipse cx="0" cy="-6.0" rx="43" ry="19" fill="#c4c4c4" stroke="#3d3d3d" stroke-width="0.8"/><path d="M-18.1,0.2 Q-19.4,15.0 -17.2,33.0" fill="none" stroke="#3d3d3d" stroke-width="0.7"/><path d="M19.4,0.2 Q20.6,15.0 18.1,32.1" fill="none" stroke="#3d3d3d" stroke-width="0.7"/><ellipse cx="0" cy="-15.0" rx="43" ry="19" fill="#d4d4d4" stroke="#3d3d3d" stroke-width="0.8"/><path d="M4.3,-34.0 Q9.5,-15.0 6.5,4.0" fill="none" stroke="#3d3d3d" stroke-width="0.8"/></g></g><path d="M550.5,605.0 L550.0,605.2 L549.4,605.3 L548.7,605.4 L548.0,605.3 L547.3,605.1 L546.5,604.8 L545.6,604.4 L544.7,603.8 L543.7,603.2 L542.7,602.5 L541.7,601.7 L540.6,600.8 L539.5,599.7 L538.3,598.6 L537.2,597.4 L536.0,596.2 L534.8,594.8 L533.5,593.4 L532.3,591.8 L531.0,590.2 L529.7,588.6 L528.4,586.9 L527.2,585.1 L525.9,583.3 L524.6,581.4 L523.4,579.5 L522.1,577.5 L520.9,575.5 L519.7,573.5 L518.5,571.5 L517.3,569.5 L516.2,567.4 L515.1,565.3 L514.0,563.3 L513.0,561.2 L512.0,559.2 L511.0,557.2 L510.1,555.2 L509.3,553.2 L508.5,551.3 L507.8,549.4 L507.1,547.5 L506.4,545.7 L505.9,544.0 L505.4,542.3 L504.9,540.7 L504.5,539.2 L504.2,537.7 L503.9,536.3 L503.8,535.0 L503.6,533.8 L503.6,532.6 L503.6,531.6 L503.7,530.6 L503.8,529.8 L504.0,529.0 L504.3,528.4 L504.6,527.8 L505.0,527.4 L505.5,527.0" fill="none" stroke="#3d3d3d" stroke-width="7.8"/><path d="M550.5,605.0 L550.0,605.2 L549.4,605.3 L548.7,605.4 L548.0,605.3 L547.3,605.1 L546.5,604.8 L545.6,604.4 L544.7,603.8 L543.7,603.2 L542.7,602.5 L541.7,601.7 L540.6,600.8 L539.5,599.7 L538.3,598.6 L537.2,597.4 L536.0,596.2 L534.8,594.8 L533.5,593.4 L532.3,591.8 L531.0,590.2 L529.7,588.6 L528.4,586.9 L527.2,585.1 L525.9,583.3 L524.6,581.4 L523.4,579.5 L522.1,577.5 L520.9,575.5 L519.7,573.5 L518.5,571.5 L517.3,569.5 L516.2,567.4 L515.1,565.3 L514.0,563.3 L513.0,561.2 L512.0,559.2 L511.0,557.2 L510.1,555.2 L509.3,553.2 L508.5,551.3 L507.8,549.4 L507.1,547.5 L506.4,545.7 L505.9,544.0 L505.4,542.3 L504.9,540.7 L504.5,539.2 L504.2,537.7 L503.9,536.3 L503.8,535.0 L503.6,533.8 L503.6,532.6 L503.6,531.6 L503.7,530.6 L503.8,529.8 L504.0,529.0 L504.3,528.4 L504.6,527.8 L505.0,527.4 L505.5,527.0" fill="none" stroke="#f7f7f5" stroke-width="6"/><path d="M543.4,602.6 L543.4,602.0 L543.4,601.4 L543.6,600.8 L543.9,600.2 L544.3,599.6 L544.9,598.9 L545.5,598.3 L546.2,597.7 L547.0,597.0 L547.9,596.4 L548.9,595.7 L550.1,595.1 L551.3,594.5 L552.5,593.8 L553.9,593.2 L555.4,592.6 L556.9,592.0 L558.5,591.5 L560.1,590.9 L561.9,590.3 L563.7,589.8 L565.5,589.3 L567.4,588.8 L569.3,588.4 L571.3,587.9 L573.3,587.5 L575.3,587.1 L577.3,586.7 L579.4,586.4 L581.5,586.1 L583.5,585.8 L585.6,585.6 L587.7,585.4 L589.7,585.2 L591.8,585.0 L593.8,584.9 L595.8,584.8 L597.7,584.8 L599.6,584.8 L601.5,584.8 L603.3,584.8 L605.0,584.9 L606.7,585.0 L608.4,585.2 L609.9,585.4 L611.4,585.6 L612.8,585.8 L614.1,586.1 L615.4,586.4 L616.5,586.7 L617.6,587.1 L618.6,587.5 L619.4,587.9 L620.2,588.3 L620.9,588.8 L621.4,589.3 L621.9,589.8 L622.2,590.3 L622.5,590.9 L622.6,591.4" fill="none" stroke="#3d3d3d" stroke-width="7.8"/><path d="M543.4,602.6 L543.4,602.0 L543.4,601.4 L543.6,600.8 L543.9,600.2 L544.3,599.6 L544.9,598.9 L545.5,598.3 L546.2,597.7 L547.0,597.0 L547.9,596.4 L548.9,595.7 L550.1,595.1 L551.3,594.5 L552.5,593.8 L553.9,593.2 L555.4,592.6 L556.9,592.0 L558.5,591.5 L560.1,590.9 L561.9,590.3 L563.7,589.8 L565.5,589.3 L567.4,588.8 L569.3,588.4 L571.3,587.9 L573.3,587.5 L575.3,587.1 L577.3,586.7 L579.4,586.4 L581.5,586.1 L583.5,585.8 L585.6,585.6 L587.7,585.4 L589.7,585.2 L591.8,585.0 L593.8,584.9 L595.8,584.8 L597.7,584.8 L599.6,584.8 L601.5,584.8 L603.3,584.8 L605.0,584.9 L606.7,585.0 L608.4,585.2 L609.9,585.4 L611.4,585.6 L612.8,585.8 L614.1,586.1 L615.4,586.4 L616.5,586.7 L617.6,587.1 L618.6,587.5 L619.4,587.9 L620.2,588.3 L620.9,588.8 L621.4,589.3 L621.9,589.8 L622.2,590.3 L622.5,590.9 L622.6,591.4" fill="none" stroke="#a0a0a0" stroke-width="6"/><g transform="translate(589,585) rotate(-30)"><ellipse cx="0" cy="0" rx="44" ry="39.0" fill="#d0d0d0" stroke="#3d3d3d" stroke-width="0.9"/><g clip-path="url(#nc9)"><ellipse cx="0" cy="6.0" rx="44" ry="27" fill="#a3a3a3" stroke="#3d3d3d" stroke-width="0.8"/><ellipse cx="0" cy="-3.0" rx="44" ry="27" fill="#d9d9d9" stroke="#3d3d3d" stroke-width="0.8"/><path d="M-18.5,9.6 Q-19.8,12.0 -17.6,37.6" fill="none" stroke="#3d3d3d" stroke-width="0.7"/><path d="M19.8,9.6 Q21.1,12.0 18.5,36.3" fill="none" stroke="#3d3d3d" stroke-width="0.7"/><ellipse cx="0" cy="-12.0" rx="44" ry="27" fill="#f1f1ee" stroke="#3d3d3d" stroke-width="0.8"/><path d="M4.4,-39.0 Q9.7,-12.0 6.6,15.0" fill="none" stroke="#3d3d3d" stroke-width="0.8"/></g></g><path d="M622.6,591.4 L622.6,592.0 L622.6,592.6 L622.4,593.2 L622.1,593.8 L621.7,594.4 L621.1,595.1 L620.5,595.7 L619.8,596.3 L619.0,597.0 L618.1,597.6 L617.1,598.3 L615.9,598.9 L614.7,599.5 L613.5,600.2 L612.1,600.8 L610.6,601.4 L609.1,602.0 L607.5,602.5 L605.9,603.1 L604.1,603.7 L602.3,604.2 L600.5,604.7 L598.6,605.2 L596.7,605.6 L594.7,606.1 L592.7,606.5 L590.7,606.9 L588.7,607.3 L586.6,607.6 L584.5,607.9 L582.5,608.2 L580.4,608.4 L578.3,608.6 L576.3,608.8 L574.2,609.0 L572.2,609.1 L570.2,609.2 L568.3,609.2 L566.4,609.2 L564.5,609.2 L562.7,609.2 L561.0,609.1 L559.3,609.0 L557.6,608.8 L556.1,608.6 L554.6,608.4 L553.2,608.2 L551.9,607.9 L550.6,607.6 L549.5,607.3 L548.4,606.9 L547.4,606.5 L546.6,606.1 L545.8,605.7 L545.1,605.2 L544.6,604.7 L544.1,604.2 L543.8,603.7 L543.5,603.1 L543.4,602.6" fill="none" stroke="#3d3d3d" stroke-width="7.8"/><path d="M622.6,591.4 L622.6,592.0 L622.6,592.6 L622.4,593.2 L622.1,593.8 L621.7,594.4 L621.1,595.1 L620.5,595.7 L619.8,596.3 L619.0,597.0 L618.1,597.6 L617.1,598.3 L615.9,598.9 L614.7,599.5 L613.5,600.2 L612.1,600.8 L610.6,601.4 L609.1,602.0 L607.5,602.5 L605.9,603.1 L604.1,603.7 L602.3,604.2 L600.5,604.7 L598.6,605.2 L596.7,605.6 L594.7,606.1 L592.7,606.5 L590.7,606.9 L588.7,607.3 L586.6,607.6 L584.5,607.9 L582.5,608.2 L580.4,608.4 L578.3,608.6 L576.3,608.8 L574.2,609.0 L572.2,609.1 L570.2,609.2 L568.3,609.2 L566.4,609.2 L564.5,609.2 L562.7,609.2 L561.0,609.1 L559.3,609.0 L557.6,608.8 L556.1,608.6 L554.6,608.4 L553.2,608.2 L551.9,607.9 L550.6,607.6 L549.5,607.3 L548.4,606.9 L547.4,606.5 L546.6,606.1 L545.8,605.7 L545.1,605.2 L544.6,604.7 L544.1,604.2 L543.8,603.7 L543.5,603.1 L543.4,602.6" fill="none" stroke="#f7f7f5" stroke-width="6"/><path d="M615.4,521.0 L616.0,520.6 L616.7,520.4 L617.6,520.3 L618.5,520.3 L619.6,520.5 L620.8,520.9 L622.0,521.4 L623.4,522.0 L624.8,522.7 L626.3,523.6 L627.9,524.7 L629.6,525.9 L631.4,527.2 L633.2,528.6 L635.1,530.1 L637.0,531.8 L639.0,533.6 L641.0,535.5 L643.1,537.4 L645.2,539.5 L647.4,541.7 L649.6,544.0 L651.7,546.3 L653.9,548.7 L656.1,551.2 L658.3,553.8 L660.5,556.4 L662.7,559.0 L664.9,561.7 L667.0,564.4 L669.1,567.1 L671.2,569.9 L673.3,572.6 L675.2,575.4 L677.2,578.1 L679.0,580.9 L680.9,583.6 L682.6,586.3 L684.3,588.9 L685.9,591.5" fill="none" stroke="#3d3d3d" stroke-width="8.8"/><path d="M615.4,521.0 L616.0,520.6 L616.7,520.4 L617.6,520.3 L618.5,520.3 L619.6,520.5 L620.8,520.9 L622.0,521.4 L623.4,522.0 L624.8,522.7 L626.3,523.6 L627.9,524.7 L629.6,525.9 L631.4,527.2 L633.2,528.6 L635.1,530.1 L637.0,531.8 L639.0,533.6 L641.0,535.5 L643.1,537.4 L645.2,539.5 L647.4,541.7 L649.6,544.0 L651.7,546.3 L653.9,548.7 L656.1,551.2 L658.3,553.8 L660.5,556.4 L662.7,559.0 L664.9,561.7 L667.0,564.4 L669.1,567.1 L671.2,569.9 L673.3,572.6 L675.2,575.4 L677.2,578.1 L679.0,580.9 L680.9,583.6 L682.6,586.3 L684.3,588.9 L685.9,591.5" fill="none" stroke="#a0a0a0" stroke-width="7"/><g transform="translate(655,570) rotate(18)"><ellipse cx="0" cy="0" rx="55" ry="43.0" fill="#d0d0d0" stroke="#3d3d3d" stroke-width="0.9"/><g clip-path="url(#nc10)"><ellipse cx="0" cy="-1.0" rx="55" ry="24" fill="#a3a3a3" stroke="#3d3d3d" stroke-width="0.8"/><ellipse cx="0" cy="-10.0" rx="55" ry="24" fill="#d9d9d9" stroke="#3d3d3d" stroke-width="0.8"/><path d="M-23.1,0.2 Q-24.8,19.0 -22.0,41.8" fill="none" stroke="#3d3d3d" stroke-width="0.7"/><path d="M24.8,0.2 Q26.4,19.0 23.1,40.6" fill="none" stroke="#3d3d3d" stroke-width="0.7"/><ellipse cx="0" cy="-19.0" rx="55" ry="24" fill="#f1f1ee" stroke="#3d3d3d" stroke-width="0.8"/><path d="M5.5,-43.0 Q12.1,-19.0 8.3,5.0" fill="none" stroke="#3d3d3d" stroke-width="0.8"/></g></g><path d="M705.0,630.0 L689.5,624.5 L688.2,623.8 L686.7,623.0 L685.1,622.0 L683.5,620.9 L681.8,619.7 L680.0,618.4 L678.2,616.9 L676.3,615.3 L674.3,613.6 L672.3,611.8 L670.3,609.9 L668.2,607.9 L666.1,605.8 L663.9,603.5 L661.7,601.3 L659.5,598.9 L657.3,596.4 L655.1,593.9 L652.9,591.4 L650.7,588.8 L648.6,586.1 L646.4,583.4 L644.3,580.7 L642.2,578.0 L640.1,575.2 L638.1,572.5 L636.1,569.7 L634.2,566.9 L632.3,564.2 L630.5,561.5 L628.8,558.8 L627.2,556.2 L625.6,553.6 L624.1,551.1 L622.7,548.6 L621.4,546.2 L620.2,543.8 L619.1,541.6 L618.1,539.4 L617.2,537.3 L616.4,535.3 L615.7,533.5 L615.1,531.7 L614.6,530.0 L614.3,528.5 L614.0,527.1 L613.9,525.8 L613.9,524.6 L614.0,523.6 L614.2,522.7 L614.6,521.9 L615.0,521.3 L615.4,521.0" fill="none" stroke="#3d3d3d" stroke-width="8.8"/><path d="M705.0,630.0 L689.5,624.5 L688.2,623.8 L686.7,623.0 L685.1,622.0 L683.5,620.9 L681.8,619.7 L680.0,618.4 L678.2,616.9 L676.3,615.3 L674.3,613.6 L672.3,611.8 L670.3,609.9 L668.2,607.9 L666.1,605.8 L663.9,603.5 L661.7,601.3 L659.5,598.9 L657.3,596.4 L655.1,593.9 L652.9,591.4 L650.7,588.8 L648.6,586.1 L646.4,583.4 L644.3,580.7 L642.2,578.0 L640.1,575.2 L638.1,572.5 L636.1,569.7 L634.2,566.9 L632.3,564.2 L630.5,561.5 L628.8,558.8 L627.2,556.2 L625.6,553.6 L624.1,551.1 L622.7,548.6 L621.4,546.2 L620.2,543.8 L619.1,541.6 L618.1,539.4 L617.2,537.3 L616.4,535.3 L615.7,533.5 L615.1,531.7 L614.6,530.0 L614.3,528.5 L614.0,527.1 L613.9,525.8 L613.9,524.6 L614.0,523.6 L614.2,522.7 L614.6,521.9 L615.0,521.3 L615.4,521.0" fill="none" stroke="#f7f7f5" stroke-width="7"/><path d="M790.0,528.0 L791.2,526.9 L792.6,525.4 L794.4,523.7 L796.3,521.7 L798.4,519.6 L800.7,517.5 L803.0,515.4 L805.4,513.4 L807.7,511.6 L810.0,510.0 L812.3,508.6 L814.7,507.4 L817.1,506.2 L819.6,505.0 L822.2,504.0 L824.8,503.0 L827.3,502.2 L829.9,501.4 L832.5,500.6 L835.0,500.0 L837.6,499.5 L840.4,499.1 L843.3,498.7 L846.2,498.5 L849.1,498.4 L851.8,498.3 L854.3,498.2 L856.6,498.1 L858.5,498.1 L860.0,498.0" fill="none" stroke="#3d3d3d" stroke-width="9.8" stroke-linecap="round" stroke-linejoin="round"/><path d="M790.0,528.0 L791.2,526.9 L792.6,525.4 L794.4,523.7 L796.3,521.7 L798.4,519.6 L800.7,517.5 L803.0,515.4 L805.4,513.4 L807.7,511.6 L810.0,510.0 L812.3,508.6 L814.7,507.4 L817.1,506.2 L819.6,505.0 L822.2,504.0 L824.8,503.0 L827.3,502.2 L829.9,501.4 L832.5,500.6 L835.0,500.0 L837.6,499.5 L840.4,499.1 L843.3,498.7 L846.2,498.5 L849.1,498.4 L851.8,498.3 L854.3,498.2 L856.6,498.1 L858.5,498.1 L860.0,498.0" fill="none" stroke="#dadada" stroke-width="8" stroke-linecap="round" stroke-linejoin="round"/><path d="M965.0,465.0 L966.5,463.5 L968.4,461.5 L970.7,459.2 L973.2,456.6 L975.9,453.8 L978.8,450.8 L981.7,447.9 L984.6,445.1 L987.4,442.4 L990.0,440.0 L992.5,437.7 L995.0,435.4 L997.5,433.1 L1000.0,430.8 L1002.5,428.6 L1005.0,426.5 L1007.5,424.6 L1010.0,422.8 L1012.5,421.3 L1015.0,420.0 L1017.5,419.0 L1020.2,418.1 L1022.8,417.5 L1025.5,417.0 L1028.1,416.8 L1030.7,416.6 L1033.2,416.6 L1035.6,416.6 L1037.9,416.8 L1040.0,417.0 L1042.0,417.4 L1043.9,418.0 L1045.7,418.8 L1047.4,419.8 L1049.1,420.8 L1050.6,421.8 L1051.9,422.8 L1053.1,423.7 L1054.2,424.5 L1055.0,425.0" fill="none" stroke="#3d3d3d" stroke-width="9.8" stroke-linecap="round" stroke-linejoin="round"/><path d="M965.0,465.0 L966.5,463.5 L968.4,461.5 L970.7,459.2 L973.2,456.6 L975.9,453.8 L978.8,450.8 L981.7,447.9 L984.6,445.1 L987.4,442.4 L990.0,440.0 L992.5,437.7 L995.0,435.4 L997.5,433.1 L1000.0,430.8 L1002.5,428.6 L1005.0,426.5 L1007.5,424.6 L1010.0,422.8 L1012.5,421.3 L1015.0,420.0 L1017.5,419.0 L1020.2,418.1 L1022.8,417.5 L1025.5,417.0 L1028.1,416.8 L1030.7,416.6 L1033.2,416.6 L1035.6,416.6 L1037.9,416.8 L1040.0,417.0 L1042.0,417.4 L1043.9,418.0 L1045.7,418.8 L1047.4,419.8 L1049.1,420.8 L1050.6,421.8 L1051.9,422.8 L1053.1,423.7 L1054.2,424.5 L1055.0,425.0" fill="none" stroke="#dcdcdc" stroke-width="8" stroke-linecap="round" stroke-linejoin="round"/><path d="M1004.0,555.0 L1005.0,556.4 L1006.3,558.1 L1007.9,560.1 L1009.7,562.4 L1011.6,564.9 L1013.6,567.6 L1015.4,570.2 L1017.2,572.9 L1018.7,575.5 L1020.0,578.0 L1021.0,580.4 L1022.0,583.0 L1022.8,585.6 L1023.5,588.2 L1024.1,590.8 L1024.6,593.4 L1025.1,595.9 L1025.4,598.4 L1025.7,600.8 L1026.0,603.0 L1026.2,605.2 L1026.2,607.4 L1026.1,609.6 L1025.9,611.7 L1025.7,613.8 L1025.5,615.7 L1025.2,617.4 L1025.0,619.0 L1024.8,620.3 L1024.7,621.4" fill="none" stroke="#3d3d3d" stroke-width="9.8" stroke-linecap="round" stroke-linejoin="round"/><path d="M1004.0,555.0 L1005.0,556.4 L1006.3,558.1 L1007.9,560.1 L1009.7,562.4 L1011.6,564.9 L1013.6,567.6 L1015.4,570.2 L1017.2,572.9 L1018.7,575.5 L1020.0,578.0 L1021.0,580.4 L1022.0,583.0 L1022.8,585.6 L1023.5,588.2 L1024.1,590.8 L1024.6,593.4 L1025.1,595.9 L1025.4,598.4 L1025.7,600.8 L1026.0,603.0 L1026.2,605.2 L1026.2,607.4 L1026.1,609.6 L1025.9,611.7 L1025.7,613.8 L1025.5,615.7 L1025.2,617.4 L1025.0,619.0 L1024.8,620.3 L1024.7,621.4" fill="none" stroke="#ededeb" stroke-width="8" stroke-linecap="round" stroke-linejoin="round"/><path d="M1167.9,379.0 L1168.2,378.2 L1168.7,377.4 L1169.2,376.6 L1170.0,375.9 L1170.8,375.3 L1171.8,374.6 L1172.9,374.1 L1174.1,373.6 L1175.4,373.1 L1176.9,372.7 L1178.5,372.4 L1180.2,372.1 L1182.0,371.8 L1183.8,371.7 L1185.8,371.5 L1187.9,371.5 L1190.0,371.5 L1192.3,371.5 L1194.6,371.7 L1196.9,371.8 L1199.3,372.1 L1201.8,372.4 L1204.3,372.7 L1206.9,373.1 L1209.5,373.6 L1212.1,374.1 L1214.7,374.6 L1217.3,375.3 L1219.9,375.9 L1222.6,376.6 L1225.2,377.4 L1227.8,378.2 L1230.4,379.0 L1232.9,379.9 L1235.4,380.8 L1237.8,381.7 L1240.2,382.7 L1242.5,383.7 L1244.8,384.8 L1247.0,385.8 L1249.1,386.9 L1251.1,388.0 L1253.1,389.1 L1254.9,390.2 L1256.6,391.3 L1258.3,392.4 L1259.8,393.6 L1261.2,394.7 L1262.5,395.8 L1263.7,396.9 L1264.7,398.0 L1265.6,399.1 L1266.4,400.2 L1267.0,401.2 L1267.6,402.3 L1267.9,403.3 L1268.2,404.3 L1268.3,405.2 L1268.3,406.1 L1268.1,407.0" fill="none" stroke="#3d3d3d" stroke-width="7.3"/><path d="M1167.9,379.0 L1168.2,378.2 L1168.7,377.4 L1169.2,376.6 L1170.0,375.9 L1170.8,375.3 L1171.8,374.6 L1172.9,374.1 L1174.1,373.6 L1175.4,373.1 L1176.9,372.7 L1178.5,372.4 L1180.2,372.1 L1182.0,371.8 L1183.8,371.7 L1185.8,371.5 L1187.9,371.5 L1190.0,371.5 L1192.3,371.5 L1194.6,371.7 L1196.9,371.8 L1199.3,372.1 L1201.8,372.4 L1204.3,372.7 L1206.9,373.1 L1209.5,373.6 L1212.1,374.1 L1214.7,374.6 L1217.3,375.3 L1219.9,375.9 L1222.6,376.6 L1225.2,377.4 L1227.8,378.2 L1230.4,379.0 L1232.9,379.9 L1235.4,380.8 L1237.8,381.7 L1240.2,382.7 L1242.5,383.7 L1244.8,384.8 L1247.0,385.8 L1249.1,386.9 L1251.1,388.0 L1253.1,389.1 L1254.9,390.2 L1256.6,391.3 L1258.3,392.4 L1259.8,393.6 L1261.2,394.7 L1262.5,395.8 L1263.7,396.9 L1264.7,398.0 L1265.6,399.1 L1266.4,400.2 L1267.0,401.2 L1267.6,402.3 L1267.9,403.3 L1268.2,404.3 L1268.3,405.2 L1268.3,406.1 L1268.1,407.0" fill="none" stroke="#a0a0a0" stroke-width="5.5"/><g transform="translate(1218,396) rotate(-8)"><ellipse cx="0" cy="0" rx="50" ry="31.0" fill="#d0d0d0" stroke="#3d3d3d" stroke-width="0.9"/><g clip-path="url(#nc11)"><ellipse cx="0" cy="5.0" rx="50" ry="18" fill="#a3a3a3" stroke="#3d3d3d" stroke-width="0.8"/><ellipse cx="0" cy="-4.0" rx="50" ry="18" fill="#d9d9d9" stroke="#3d3d3d" stroke-width="0.8"/><path d="M-21.0,1.4 Q-22.5,13.0 -20.0,30.1" fill="none" stroke="#3d3d3d" stroke-width="0.7"/><path d="M22.5,1.4 Q24.0,13.0 21.0,29.2" fill="none" stroke="#3d3d3d" stroke-width="0.7"/><ellipse cx="0" cy="-13.0" rx="50" ry="18" fill="#f1f1ee" stroke="#3d3d3d" stroke-width="0.8"/><path d="M5.0,-31.0 Q11.0,-13.0 7.5,5.0" fill="none" stroke="#3d3d3d" stroke-width="0.8"/></g></g><path d="M1268.1,407.0 L1267.8,407.8 L1267.3,408.6 L1266.8,409.4 L1266.0,410.1 L1265.2,410.7 L1264.2,411.4 L1263.1,411.9 L1261.9,412.4 L1260.6,412.9 L1259.1,413.3 L1257.5,413.6 L1255.8,413.9 L1254.0,414.2 L1252.2,414.3 L1250.2,414.5 L1248.1,414.5 L1246.0,414.5 L1243.7,414.5 L1241.4,414.3 L1239.1,414.2 L1236.7,413.9 L1234.2,413.6 L1231.7,413.3 L1229.1,412.9 L1226.5,412.4 L1223.9,411.9 L1221.3,411.4 L1218.7,410.7 L1216.1,410.1 L1213.4,409.4 L1210.8,408.6 L1208.2,407.8 L1205.6,407.0 L1203.1,406.1 L1200.6,405.2 L1198.2,404.3 L1195.8,403.3 L1193.5,402.3 L1191.2,401.2 L1189.0,400.2 L1186.9,399.1 L1184.9,398.0 L1182.9,396.9 L1181.1,395.8 L1179.4,394.7 L1177.7,393.6 L1176.2,392.4 L1174.8,391.3 L1173.5,390.2 L1172.3,389.1 L1171.3,388.0 L1170.4,386.9 L1169.6,385.8 L1169.0,384.8 L1168.4,383.7 L1168.1,382.7 L1167.8,381.7 L1167.7,380.8 L1167.7,379.9 L1167.9,379.0" fill="none" stroke="#3d3d3d" stroke-width="7.3"/><path d="M1268.1,407.0 L1267.8,407.8 L1267.3,408.6 L1266.8,409.4 L1266.0,410.1 L1265.2,410.7 L1264.2,411.4 L1263.1,411.9 L1261.9,412.4 L1260.6,412.9 L1259.1,413.3 L1257.5,413.6 L1255.8,413.9 L1254.0,414.2 L1252.2,414.3 L1250.2,414.5 L1248.1,414.5 L1246.0,414.5 L1243.7,414.5 L1241.4,414.3 L1239.1,414.2 L1236.7,413.9 L1234.2,413.6 L1231.7,413.3 L1229.1,412.9 L1226.5,412.4 L1223.9,411.9 L1221.3,411.4 L1218.7,410.7 L1216.1,410.1 L1213.4,409.4 L1210.8,408.6 L1208.2,407.8 L1205.6,407.0 L1203.1,406.1 L1200.6,405.2 L1198.2,404.3 L1195.8,403.3 L1193.5,402.3 L1191.2,401.2 L1189.0,400.2 L1186.9,399.1 L1184.9,398.0 L1182.9,396.9 L1181.1,395.8 L1179.4,394.7 L1177.7,393.6 L1176.2,392.4 L1174.8,391.3 L1173.5,390.2 L1172.3,389.1 L1171.3,388.0 L1170.4,386.9 L1169.6,385.8 L1169.0,384.8 L1168.4,383.7 L1168.1,382.7 L1167.8,381.7 L1167.7,380.8 L1167.7,379.9 L1167.9,379.0" fill="none" stroke="#f7f7f5" stroke-width="5.5"/><path d="M1041.0,421.3 L1041.4,420.0 L1042.0,418.8 L1042.8,417.6 L1043.8,416.4 L1044.9,415.3 L1046.3,414.3 L1047.8,413.4 L1049.4,412.5 L1051.2,411.7 L1053.2,410.9 L1055.4,410.2 L1057.6,409.7 L1060.1,409.1 L1062.6,408.7 L1065.3,408.3 L1068.1,408.1 L1071.0,407.9 L1074.1,407.8 L1077.2,407.7 L1080.4,407.8 L1083.7,407.9 L1087.0,408.1 L1090.4,408.4 L1093.9,408.8 L1097.4,409.3 L1100.9,409.8 L1104.5,410.4 L1108.1,411.1 L1111.6,411.9 L1115.2,412.8 L1118.8,413.7 L1122.3,414.6 L1125.8,415.7 L1129.2,416.8 L1132.6,417.9 L1135.9,419.1 L1139.2,420.4 L1142.3,421.7 L1145.4,423.1 L1148.4,424.5 L1151.2,425.9 L1154.0,427.4 L1156.6,428.9 L1159.1,430.4 L1161.5,432.0 L1163.7,433.5 L1165.7,435.1 L1167.6,436.7 L1169.4,438.3 L1171.0,439.8 L1172.4,441.4 L1173.6,443.0 L1174.7,444.5 L1175.6,446.1 L1176.3,447.6 L1176.8,449.1 L1177.1,450.5 L1177.3,452.0 L1177.2,453.4 L1177.0,454.7" fill="none" stroke="#3d3d3d" stroke-width="8.3"/><path d="M1041.0,421.3 L1041.4,420.0 L1042.0,418.8 L1042.8,417.6 L1043.8,416.4 L1044.9,415.3 L1046.3,414.3 L1047.8,413.4 L1049.4,412.5 L1051.2,411.7 L1053.2,410.9 L1055.4,410.2 L1057.6,409.7 L1060.1,409.1 L1062.6,408.7 L1065.3,408.3 L1068.1,408.1 L1071.0,407.9 L1074.1,407.8 L1077.2,407.7 L1080.4,407.8 L1083.7,407.9 L1087.0,408.1 L1090.4,408.4 L1093.9,408.8 L1097.4,409.3 L1100.9,409.8 L1104.5,410.4 L1108.1,411.1 L1111.6,411.9 L1115.2,412.8 L1118.8,413.7 L1122.3,414.6 L1125.8,415.7 L1129.2,416.8 L1132.6,417.9 L1135.9,419.1 L1139.2,420.4 L1142.3,421.7 L1145.4,423.1 L1148.4,424.5 L1151.2,425.9 L1154.0,427.4 L1156.6,428.9 L1159.1,430.4 L1161.5,432.0 L1163.7,433.5 L1165.7,435.1 L1167.6,436.7 L1169.4,438.3 L1171.0,439.8 L1172.4,441.4 L1173.6,443.0 L1174.7,444.5 L1175.6,446.1 L1176.3,447.6 L1176.8,449.1 L1177.1,450.5 L1177.3,452.0 L1177.2,453.4 L1177.0,454.7" fill="none" stroke="#a0a0a0" stroke-width="6.5"/><g transform="translate(1109,446) rotate(-10)"><ellipse cx="0" cy="0" rx="67" ry="42.0" fill="#d0d0d0" stroke="#3d3d3d" stroke-width="0.9"/><g clip-path="url(#nc12)"><ellipse cx="0" cy="-2.0" rx="67" ry="22" fill="#a3a3a3" stroke="#3d3d3d" stroke-width="0.8"/><ellipse cx="0" cy="-11.0" rx="67" ry="22" fill="#d9d9d9" stroke="#3d3d3d" stroke-width="0.8"/><path d="M-28.1,-2.4 Q-30.2,20.0 -26.8,40.9" fill="none" stroke="#3d3d3d" stroke-width="0.7"/><path d="M30.2,-2.4 Q32.2,20.0 28.1,39.8" fill="none" stroke="#3d3d3d" stroke-width="0.7"/><ellipse cx="0" cy="-20.0" rx="67" ry="22" fill="#f1f1ee" stroke="#3d3d3d" stroke-width="0.8"/><path d="M6.7,-42.0 Q14.7,-20.0 10.1,2.0" fill="none" stroke="#3d3d3d" stroke-width="0.8"/></g></g><path d="M1177.0,454.7 L1176.6,456.0 L1176.0,457.2 L1175.2,458.4 L1174.2,459.6 L1173.1,460.7 L1171.7,461.7 L1170.2,462.6 L1168.6,463.5 L1166.8,464.3 L1164.8,465.1 L1162.6,465.8 L1160.4,466.3 L1157.9,466.9 L1155.4,467.3 L1152.7,467.7 L1149.9,467.9 L1147.0,468.1 L1143.9,468.2 L1140.8,468.3 L1137.6,468.2 L1134.3,468.1 L1131.0,467.9 L1127.6,467.6 L1124.1,467.2 L1120.6,466.7 L1117.1,466.2 L1113.5,465.6 L1109.9,464.9 L1106.4,464.1 L1102.8,463.2 L1099.2,462.3 L1095.7,461.4 L1092.2,460.3 L1088.8,459.2 L1085.4,458.1 L1082.1,456.9 L1078.8,455.6 L1075.7,454.3 L1072.6,452.9 L1069.6,451.5 L1066.8,450.1 L1064.0,448.6 L1061.4,447.1 L1058.9,445.6 L1056.5,444.0 L1054.3,442.5 L1052.3,440.9 L1050.4,439.3 L1048.6,437.7 L1047.0,436.2 L1045.6,434.6 L1044.4,433.0 L1043.3,431.5 L1042.4,429.9 L1041.7,428.4 L1041.2,426.9 L1040.9,425.5 L1040.7,424.0 L1040.8,422.6 L1041.0,421.3" fill="none" stroke="#3d3d3d" stroke-width="8.3"/><path d="M1177.0,454.7 L1176.6,456.0 L1176.0,457.2 L1175.2,458.4 L1174.2,459.6 L1173.1,460.7 L1171.7,461.7 L1170.2,462.6 L1168.6,463.5 L1166.8,464.3 L1164.8,465.1 L1162.6,465.8 L1160.4,466.3 L1157.9,466.9 L1155.4,467.3 L1152.7,467.7 L1149.9,467.9 L1147.0,468.1 L1143.9,468.2 L1140.8,468.3 L1137.6,468.2 L1134.3,468.1 L1131.0,467.9 L1127.6,467.6 L1124.1,467.2 L1120.6,466.7 L1117.1,466.2 L1113.5,465.6 L1109.9,464.9 L1106.4,464.1 L1102.8,463.2 L1099.2,462.3 L1095.7,461.4 L1092.2,460.3 L1088.8,459.2 L1085.4,458.1 L1082.1,456.9 L1078.8,455.6 L1075.7,454.3 L1072.6,452.9 L1069.6,451.5 L1066.8,450.1 L1064.0,448.6 L1061.4,447.1 L1058.9,445.6 L1056.5,444.0 L1054.3,442.5 L1052.3,440.9 L1050.4,439.3 L1048.6,437.7 L1047.0,436.2 L1045.6,434.6 L1044.4,433.0 L1043.3,431.5 L1042.4,429.9 L1041.7,428.4 L1041.2,426.9 L1040.9,425.5 L1040.7,424.0 L1040.8,422.6 L1041.0,421.3" fill="none" stroke="#f7f7f5" stroke-width="6.5"/><path d="M1134.7,364.7 L1135.4,364.7 L1136.2,364.7 L1136.9,364.9 L1137.7,365.3 L1138.5,365.7 L1139.3,366.3 L1140.2,367.0 L1141.0,367.8 L1141.8,368.8 L1142.7,369.8 L1143.5,371.0 L1144.4,372.3 L1145.2,373.7 L1146.0,375.2 L1146.9,376.9 L1147.7,378.6 L1148.5,380.4 L1149.3,382.2 L1150.0,384.2 L1150.8,386.3 L1151.5,388.4 L1152.2,390.6 L1152.9,392.8 L1153.5,395.1 L1154.2,397.4 L1154.8,399.8 L1155.3,402.2 L1155.8,404.6 L1156.3,407.1 L1156.8,409.6 L1157.2,412.0 L1157.6,414.5 L1157.9,417.0 L1158.2,419.5 L1158.5,421.9 L1158.7,424.3 L1158.9,426.7 L1159.0,429.0 L1159.1,431.3 L1159.1,433.5 L1159.1,435.7 L1159.1,437.8 L1159.0,439.9 L1158.8,441.8 L1158.6,443.7 L1158.4,445.5 L1158.2,447.2 L1157.8,448.8 L1157.5,450.3 L1157.1,451.7 L1156.7,453.0 L1156.2,454.2 L1155.7,455.3 L1155.2,456.2 L1154.6,457.0 L1154.0,457.7 L1153.4,458.3 L1152.7,458.8 L1152.0,459.1 L1151.3,459.3" fill="none" stroke="#3d3d3d" stroke-width="7.8"/><path d="M1134.7,364.7 L1135.4,364.7 L1136.2,364.7 L1136.9,364.9 L1137.7,365.3 L1138.5,365.7 L1139.3,366.3 L1140.2,367.0 L1141.0,367.8 L1141.8,368.8 L1142.7,369.8 L1143.5,371.0 L1144.4,372.3 L1145.2,373.7 L1146.0,375.2 L1146.9,376.9 L1147.7,378.6 L1148.5,380.4 L1149.3,382.2 L1150.0,384.2 L1150.8,386.3 L1151.5,388.4 L1152.2,390.6 L1152.9,392.8 L1153.5,395.1 L1154.2,397.4 L1154.8,399.8 L1155.3,402.2 L1155.8,404.6 L1156.3,407.1 L1156.8,409.6 L1157.2,412.0 L1157.6,414.5 L1157.9,417.0 L1158.2,419.5 L1158.5,421.9 L1158.7,424.3 L1158.9,426.7 L1159.0,429.0 L1159.1,431.3 L1159.1,433.5 L1159.1,435.7 L1159.1,437.8 L1159.0,439.9 L1158.8,441.8 L1158.6,443.7 L1158.4,445.5 L1158.2,447.2 L1157.8,448.8 L1157.5,450.3 L1157.1,451.7 L1156.7,453.0 L1156.2,454.2 L1155.7,455.3 L1155.2,456.2 L1154.6,457.0 L1154.0,457.7 L1153.4,458.3 L1152.7,458.8 L1152.0,459.1 L1151.3,459.3" fill="none" stroke="#a0a0a0" stroke-width="6"/><g transform="translate(1159,417) rotate(47)"><ellipse cx="0" cy="0" rx="50" ry="34.0" fill="#d0d0d0" stroke="#3d3d3d" stroke-width="0.9"/><g clip-path="url(#nc13)"><ellipse cx="0" cy="11.0" rx="50" ry="27" fill="#a3a3a3" stroke="#3d3d3d" stroke-width="0.8"/><ellipse cx="0" cy="2.0" rx="50" ry="27" fill="#d9d9d9" stroke="#3d3d3d" stroke-width="0.8"/><path d="M-21.0,14.6 Q-22.5,7.0 -20.0,32.6" fill="none" stroke="#3d3d3d" stroke-width="0.7"/><path d="M22.5,14.6 Q24.0,7.0 21.0,31.3" fill="none" stroke="#3d3d3d" stroke-width="0.7"/><ellipse cx="0" cy="-7.0" rx="50" ry="27" fill="#f1f1ee" stroke="#3d3d3d" stroke-width="0.8"/><path d="M5.0,-34.0 Q11.0,-7.0 7.5,20.0" fill="none" stroke="#3d3d3d" stroke-width="0.8"/></g></g><path d="M1151.3,459.3 L1150.6,459.3 L1149.8,459.3 L1149.1,459.1 L1148.3,458.7 L1147.5,458.3 L1146.7,457.7 L1145.8,457.0 L1145.0,456.2 L1144.2,455.2 L1143.3,454.2 L1142.5,453.0 L1141.6,451.7 L1140.8,450.3 L1140.0,448.8 L1139.1,447.1 L1138.3,445.4 L1137.5,443.6 L1136.7,441.8 L1136.0,439.8 L1135.2,437.7 L1134.5,435.6 L1133.8,433.4 L1133.1,431.2 L1132.5,428.9 L1131.8,426.6 L1131.2,424.2 L1130.7,421.8 L1130.2,419.4 L1129.7,416.9 L1129.2,414.4 L1128.8,412.0 L1128.4,409.5 L1128.1,407.0 L1127.8,404.5 L1127.5,402.1 L1127.3,399.7 L1127.1,397.3 L1127.0,395.0 L1126.9,392.7 L1126.9,390.5 L1126.9,388.3 L1126.9,386.2 L1127.0,384.1 L1127.2,382.2 L1127.4,380.3 L1127.6,378.5 L1127.8,376.8 L1128.2,375.2 L1128.5,373.7 L1128.9,372.3 L1129.3,371.0 L1129.8,369.8 L1130.3,368.7 L1130.8,367.8 L1131.4,367.0 L1132.0,366.3 L1132.6,365.7 L1133.3,365.2 L1134.0,364.9 L1134.7,364.7" fill="none" stroke="#3d3d3d" stroke-width="7.8"/><path d="M1151.3,459.3 L1150.6,459.3 L1149.8,459.3 L1149.1,459.1 L1148.3,458.7 L1147.5,458.3 L1146.7,457.7 L1145.8,457.0 L1145.0,456.2 L1144.2,455.2 L1143.3,454.2 L1142.5,453.0 L1141.6,451.7 L1140.8,450.3 L1140.0,448.8 L1139.1,447.1 L1138.3,445.4 L1137.5,443.6 L1136.7,441.8 L1136.0,439.8 L1135.2,437.7 L1134.5,435.6 L1133.8,433.4 L1133.1,431.2 L1132.5,428.9 L1131.8,426.6 L1131.2,424.2 L1130.7,421.8 L1130.2,419.4 L1129.7,416.9 L1129.2,414.4 L1128.8,412.0 L1128.4,409.5 L1128.1,407.0 L1127.8,404.5 L1127.5,402.1 L1127.3,399.7 L1127.1,397.3 L1127.0,395.0 L1126.9,392.7 L1126.9,390.5 L1126.9,388.3 L1126.9,386.2 L1127.0,384.1 L1127.2,382.2 L1127.4,380.3 L1127.6,378.5 L1127.8,376.8 L1128.2,375.2 L1128.5,373.7 L1128.9,372.3 L1129.3,371.0 L1129.8,369.8 L1130.3,368.7 L1130.8,367.8 L1131.4,367.0 L1132.0,366.3 L1132.6,365.7 L1133.3,365.2 L1134.0,364.9 L1134.7,364.7" fill="none" stroke="#f7f7f5" stroke-width="6"/><path d="M888.3,461.4 L888.9,460.8 L889.7,460.3 L890.7,460.0 L891.9,459.8 L893.2,459.7 L894.7,459.8 L896.3,460.1 L898.1,460.5 L900.1,461.0 L902.2,461.7 L904.4,462.5 L906.7,463.5 L909.2,464.6 L911.8,465.8 L914.5,467.2 L917.3,468.7 L920.2,470.3 L923.2,472.0 L926.3,473.8 L929.4,475.8 L932.6,477.8 L935.9,479.9 L939.2,482.2 L942.5,484.5 L945.8,486.9 L949.2,489.3 L952.6,491.9 L956.0,494.5 L959.3,497.1 L962.7,499.8 L966.0,502.5 L969.3,505.3 L972.5,508.0 L975.7,510.8 L978.8,513.6 L981.9,516.4 L984.8,519.2 L987.7,521.9 L990.5,524.7 L993.1,527.4 L995.7,530.0 L998.1,532.6 L1000.4,535.2 L1002.6,537.7 L1004.6,540.1 L1006.5,542.5 L1008.3,544.8 L1009.8,547.0 L1011.3,549.1 L1012.5,551.1 L1013.6,553.0 L1014.6,554.8 L1015.3,556.4 L1015.9,558.0 L1016.3,559.4 L1016.6,560.7 L1016.6,561.9 L1016.5,562.9 L1016.2,563.8 L1015.7,564.6" fill="none" stroke="#3d3d3d" stroke-width="8.8"/><path d="M888.3,461.4 L888.9,460.8 L889.7,460.3 L890.7,460.0 L891.9,459.8 L893.2,459.7 L894.7,459.8 L896.3,460.1 L898.1,460.5 L900.1,461.0 L902.2,461.7 L904.4,462.5 L906.7,463.5 L909.2,464.6 L911.8,465.8 L914.5,467.2 L917.3,468.7 L920.2,470.3 L923.2,472.0 L926.3,473.8 L929.4,475.8 L932.6,477.8 L935.9,479.9 L939.2,482.2 L942.5,484.5 L945.8,486.9 L949.2,489.3 L952.6,491.9 L956.0,494.5 L959.3,497.1 L962.7,499.8 L966.0,502.5 L969.3,505.3 L972.5,508.0 L975.7,510.8 L978.8,513.6 L981.9,516.4 L984.8,519.2 L987.7,521.9 L990.5,524.7 L993.1,527.4 L995.7,530.0 L998.1,532.6 L1000.4,535.2 L1002.6,537.7 L1004.6,540.1 L1006.5,542.5 L1008.3,544.8 L1009.8,547.0 L1011.3,549.1 L1012.5,551.1 L1013.6,553.0 L1014.6,554.8 L1015.3,556.4 L1015.9,558.0 L1016.3,559.4 L1016.6,560.7 L1016.6,561.9 L1016.5,562.9 L1016.2,563.8 L1015.7,564.6" fill="none" stroke="#a0a0a0" stroke-width="7"/><g transform="translate(954,512) rotate(12)"><ellipse cx="0" cy="0" rx="78" ry="47.0" fill="#d0d0d0" stroke="#3d3d3d" stroke-width="0.9"/><g clip-path="url(#nc14)"><ellipse cx="0" cy="-3.0" rx="78" ry="26" fill="#a3a3a3" stroke="#3d3d3d" stroke-width="0.8"/><ellipse cx="0" cy="-12.0" rx="78" ry="26" fill="#d9d9d9" stroke="#3d3d3d" stroke-width="0.8"/><path d="M-32.8,-0.2 Q-35.1,21.0 -31.2,45.7" fill="none" stroke="#3d3d3d" stroke-width="0.7"/><path d="M35.1,-0.2 Q37.4,21.0 32.8,44.4" fill="none" stroke="#3d3d3d" stroke-width="0.7"/><ellipse cx="0" cy="-21.0" rx="78" ry="26" fill="#f1f1ee" stroke="#3d3d3d" stroke-width="0.8"/><path d="M7.8,-47.0 Q17.2,-21.0 11.7,5.0" fill="none" stroke="#3d3d3d" stroke-width="0.8"/></g></g><path d="M1015.7,564.6 L1015.1,565.2 L1014.3,565.7 L1013.3,566.0 L1012.1,566.2 L1010.8,566.3 L1009.3,566.2 L1007.7,565.9 L1005.9,565.5 L1003.9,565.0 L1001.8,564.3 L999.6,563.5 L997.3,562.5 L994.8,561.4 L992.2,560.2 L989.5,558.8 L986.7,557.3 L983.8,555.7 L980.8,554.0 L977.7,552.2 L974.6,550.2 L971.4,548.2 L968.1,546.1 L964.8,543.8 L961.5,541.5 L958.2,539.1 L954.8,536.7 L951.4,534.1 L948.0,531.5 L944.7,528.9 L941.3,526.2 L938.0,523.5 L934.7,520.7 L931.5,518.0 L928.3,515.2 L925.2,512.4 L922.1,509.6 L919.2,506.8 L916.3,504.1 L913.5,501.3 L910.9,498.6 L908.3,496.0 L905.9,493.4 L903.6,490.8 L901.4,488.3 L899.4,485.9 L897.5,483.5 L895.7,481.2 L894.2,479.0 L892.7,476.9 L891.5,474.9 L890.4,473.0 L889.4,471.2 L888.7,469.6 L888.1,468.0 L887.7,466.6 L887.4,465.3 L887.4,464.1 L887.5,463.1 L887.8,462.2 L888.3,461.4" fill="none" stroke="#3d3d3d" stroke-width="8.8"/><path d="M1015.7,564.6 L1015.1,565.2 L1014.3,565.7 L1013.3,566.0 L1012.1,566.2 L1010.8,566.3 L1009.3,566.2 L1007.7,565.9 L1005.9,565.5 L1003.9,565.0 L1001.8,564.3 L999.6,563.5 L997.3,562.5 L994.8,561.4 L992.2,560.2 L989.5,558.8 L986.7,557.3 L983.8,555.7 L980.8,554.0 L977.7,552.2 L974.6,550.2 L971.4,548.2 L968.1,546.1 L964.8,543.8 L961.5,541.5 L958.2,539.1 L954.8,536.7 L951.4,534.1 L948.0,531.5 L944.7,528.9 L941.3,526.2 L938.0,523.5 L934.7,520.7 L931.5,518.0 L928.3,515.2 L925.2,512.4 L922.1,509.6 L919.2,506.8 L916.3,504.1 L913.5,501.3 L910.9,498.6 L908.3,496.0 L905.9,493.4 L903.6,490.8 L901.4,488.3 L899.4,485.9 L897.5,483.5 L895.7,481.2 L894.2,479.0 L892.7,476.9 L891.5,474.9 L890.4,473.0 L889.4,471.2 L888.7,469.6 L888.1,468.0 L887.7,466.6 L887.4,465.3 L887.4,464.1 L887.5,463.1 L887.8,462.2 L888.3,461.4" fill="none" stroke="#f7f7f5" stroke-width="7"/><path d="M693.4,558.6 L693.9,557.3 L694.6,556.0 L695.6,554.7 L696.8,553.6 L698.3,552.5 L699.9,551.5 L701.8,550.6 L703.9,549.8 L706.2,549.1 L708.8,548.4 L711.5,547.9 L714.4,547.5 L717.4,547.1 L720.7,546.9 L724.1,546.7 L727.7,546.7 L731.4,546.7 L735.2,546.9 L739.2,547.1 L743.2,547.5 L747.4,547.9 L751.7,548.5 L756.0,549.1 L760.4,549.8 L764.9,550.7 L769.4,551.6 L773.9,552.6 L778.5,553.6 L783.0,554.8 L787.6,556.0 L792.1,557.4 L796.6,558.7 L801.0,560.2 L805.4,561.7 L809.7,563.3 L814.0,564.9 L818.1,566.6 L822.2,568.3 L826.1,570.0 L829.9,571.8 L833.5,573.7 L837.1,575.5 L840.4,577.4 L843.6,579.3 L846.6,581.2 L849.5,583.1 L852.1,585.0 L854.5,586.9 L856.8,588.7 L858.8,590.6 L860.6,592.5 L862.2,594.3 L863.6,596.1 L864.7,597.8 L865.7,599.5 L866.3,601.2 L866.8,602.8 L867.0,604.4 L866.9,605.9 L866.6,607.4" fill="none" stroke="#3d3d3d" stroke-width="9.3"/><path d="M693.4,558.6 L693.9,557.3 L694.6,556.0 L695.6,554.7 L696.8,553.6 L698.3,552.5 L699.9,551.5 L701.8,550.6 L703.9,549.8 L706.2,549.1 L708.8,548.4 L711.5,547.9 L714.4,547.5 L717.4,547.1 L720.7,546.9 L724.1,546.7 L727.7,546.7 L731.4,546.7 L735.2,546.9 L739.2,547.1 L743.2,547.5 L747.4,547.9 L751.7,548.5 L756.0,549.1 L760.4,549.8 L764.9,550.7 L769.4,551.6 L773.9,552.6 L778.5,553.6 L783.0,554.8 L787.6,556.0 L792.1,557.4 L796.6,558.7 L801.0,560.2 L805.4,561.7 L809.7,563.3 L814.0,564.9 L818.1,566.6 L822.2,568.3 L826.1,570.0 L829.9,571.8 L833.5,573.7 L837.1,575.5 L840.4,577.4 L843.6,579.3 L846.6,581.2 L849.5,583.1 L852.1,585.0 L854.5,586.9 L856.8,588.7 L858.8,590.6 L860.6,592.5 L862.2,594.3 L863.6,596.1 L864.7,597.8 L865.7,599.5 L866.3,601.2 L866.8,602.8 L867.0,604.4 L866.9,605.9 L866.6,607.4" fill="none" stroke="#a0a0a0" stroke-width="7.5"/><g transform="translate(778,585) rotate(-10)"><ellipse cx="0" cy="0" rx="81" ry="53.0" fill="#d0d0d0" stroke="#3d3d3d" stroke-width="0.9"/><g clip-path="url(#nc15)"><ellipse cx="0" cy="-3.0" rx="81" ry="30" fill="#a3a3a3" stroke="#3d3d3d" stroke-width="0.8"/><ellipse cx="0" cy="-13.0" rx="81" ry="30" fill="#d9d9d9" stroke="#3d3d3d" stroke-width="0.8"/><path d="M-34.0,1.0 Q-36.5,23.0 -32.4,51.5" fill="none" stroke="#3d3d3d" stroke-width="0.7"/><path d="M36.5,1.0 Q38.9,23.0 34.0,50.0" fill="none" stroke="#3d3d3d" stroke-width="0.7"/><ellipse cx="0" cy="-23.0" rx="81" ry="30" fill="#f1f1ee" stroke="#3d3d3d" stroke-width="0.8"/><path d="M8.1,-53.0 Q17.8,-23.0 12.2,7.0" fill="none" stroke="#3d3d3d" stroke-width="0.8"/></g></g><path d="M866.6,607.4 L866.1,608.7 L865.4,610.0 L864.4,611.3 L863.2,612.4 L861.7,613.5 L860.1,614.5 L858.2,615.4 L856.1,616.2 L853.8,616.9 L851.2,617.6 L848.5,618.1 L845.6,618.5 L842.6,618.9 L839.3,619.1 L835.9,619.3 L832.3,619.3 L828.6,619.3 L824.8,619.1 L820.8,618.9 L816.8,618.5 L812.6,618.1 L808.3,617.5 L804.0,616.9 L799.6,616.2 L795.1,615.3 L790.6,614.4 L786.1,613.4 L781.5,612.4 L777.0,611.2 L772.4,610.0 L767.9,608.6 L763.4,607.3 L759.0,605.8 L754.6,604.3 L750.3,602.7 L746.0,601.1 L741.9,599.4 L737.8,597.7 L733.9,596.0 L730.1,594.2 L726.5,592.3 L722.9,590.5 L719.6,588.6 L716.4,586.7 L713.4,584.8 L710.5,582.9 L707.9,581.0 L705.5,579.1 L703.2,577.3 L701.2,575.4 L699.4,573.5 L697.8,571.7 L696.4,569.9 L695.3,568.2 L694.3,566.5 L693.7,564.8 L693.2,563.2 L693.0,561.6 L693.1,560.1 L693.4,558.6" fill="none" stroke="#3d3d3d" stroke-width="9.3"/><path d="M866.6,607.4 L866.1,608.7 L865.4,610.0 L864.4,611.3 L863.2,612.4 L861.7,613.5 L860.1,614.5 L858.2,615.4 L856.1,616.2 L853.8,616.9 L851.2,617.6 L848.5,618.1 L845.6,618.5 L842.6,618.9 L839.3,619.1 L835.9,619.3 L832.3,619.3 L828.6,619.3 L824.8,619.1 L820.8,618.9 L816.8,618.5 L812.6,618.1 L808.3,617.5 L804.0,616.9 L799.6,616.2 L795.1,615.3 L790.6,614.4 L786.1,613.4 L781.5,612.4 L777.0,611.2 L772.4,610.0 L767.9,608.6 L763.4,607.3 L759.0,605.8 L754.6,604.3 L750.3,602.7 L746.0,601.1 L741.9,599.4 L737.8,597.7 L733.9,596.0 L730.1,594.2 L726.5,592.3 L722.9,590.5 L719.6,588.6 L716.4,586.7 L713.4,584.8 L710.5,582.9 L707.9,581.0 L705.5,579.1 L703.2,577.3 L701.2,575.4 L699.4,573.5 L697.8,571.7 L696.4,569.9 L695.3,568.2 L694.3,566.5 L693.7,564.8 L693.2,563.2 L693.0,561.6 L693.1,560.1 L693.4,558.6" fill="none" stroke="#f7f7f5" stroke-width="7.5"/><rect x="792" y="368" width="327" height="218" fill="none" stroke="#8c8c8c" stroke-width="1.2"/><rect x="647.5" y="610.5" width="275.5" height="133" fill="none" stroke="#8c8c8c" stroke-width="1.2"/><ellipse cx="863" cy="530" rx="46.5" ry="35" transform="rotate(8 863 530)" fill="#ef8f1f" stroke="#6a4010" stroke-width="0.9"/><text x="863" y="541" font-family='"Liberation Sans", sans-serif' font-size="32" fill="#111" text-anchor="middle" transform="rotate(12 863 530)">Tn5</text><ellipse cx="1031.8" cy="477.8" rx="45.5" ry="32.4" transform="rotate(-3 1031.8 477.8)" fill="#ef8f1f" stroke="#6a4010" stroke-width="0.9"/><text x="1031.8" y="488.8" font-family='"Liberation Sans", sans-serif' font-size="32" fill="#111" text-anchor="middle" transform="rotate(0 1031.8 477.8)">Tn5</text><path d="M641.0,486.0 L641.2,486.6 L641.5,487.5 L641.7,488.4 L642.1,489.5 L642.4,490.7 L642.8,491.9 L643.3,493.2 L643.8,494.5 L644.4,495.8 L645.0,497.0 L645.7,498.2 L646.7,499.4 L647.7,500.7 L648.8,502.0 L649.9,503.2 L651.0,504.6 L652.0,505.9 L652.8,507.2 L653.5,508.6 L654.0,510.0 L654.3,511.4 L654.3,512.9 L654.3,514.4 L654.1,516.0 L653.8,517.5 L653.5,519.0 L653.1,520.6 L652.7,522.1 L652.3,523.6 L652.0,525.0 L651.7,526.4 L651.3,527.9 L650.8,529.5 L650.4,531.0 L649.9,532.4 L649.4,533.8 L649.0,535.1 L648.6,536.3 L648.2,537.2 L648.0,538.0" fill="none" stroke="#3d3d3d" stroke-width="9.8" stroke-linecap="round" stroke-linejoin="round"/><path d="M641.0,486.0 L641.2,486.6 L641.5,487.5 L641.7,488.4 L642.1,489.5 L642.4,490.7 L642.8,491.9 L643.3,493.2 L643.8,494.5 L644.4,495.8 L645.0,497.0 L645.7,498.2 L646.7,499.4 L647.7,500.7 L648.8,502.0 L649.9,503.2 L651.0,504.6 L652.0,505.9 L652.8,507.2 L653.5,508.6 L654.0,510.0 L654.3,511.4 L654.3,512.9 L654.3,514.4 L654.1,516.0 L653.8,517.5 L653.5,519.0 L653.1,520.6 L652.7,522.1 L652.3,523.6 L652.0,525.0 L651.7,526.4 L651.3,527.9 L650.8,529.5 L650.4,531.0 L649.9,532.4 L649.4,533.8 L649.0,535.1 L648.6,536.3 L648.2,537.2 L648.0,538.0" fill="none" stroke="#efefed" stroke-width="8" stroke-linecap="round" stroke-linejoin="round"/><circle cx="640.8" cy="478.6" r="8.5" fill="#f5b325" stroke="#8a6010" stroke-width="0.9"/><path d="M740.0,478.0 L740.3,478.7 L740.7,479.6 L741.1,480.7 L741.6,481.9 L742.2,483.2 L742.7,484.6 L743.2,485.9 L743.6,487.3 L743.9,488.7 L744.0,490.0 L744.0,491.3 L743.9,492.6 L743.8,493.9 L743.5,495.2 L743.2,496.5 L742.9,497.8 L742.5,499.1 L742.0,500.4 L741.5,501.7 L741.0,503.0 L740.3,504.2 L739.5,505.4 L738.5,506.5 L737.5,507.6 L736.4,508.8 L735.4,509.9 L734.5,511.1 L733.8,512.3 L733.3,513.6 L733.0,515.0 L733.0,516.5 L733.2,518.1 L733.6,519.8 L734.1,521.5 L734.7,523.3 L735.4,525.1 L736.2,526.9 L737.1,528.6 L738.1,530.4 L739.0,532.0 L740.1,533.6 L741.4,535.4 L742.8,537.1 L744.3,538.9 L745.9,540.6 L747.4,542.2 L748.8,543.7 L750.1,545.0 L751.2,546.1 L752.0,547.0" fill="none" stroke="#3d3d3d" stroke-width="9.8" stroke-linecap="round" stroke-linejoin="round"/><path d="M740.0,478.0 L740.3,478.7 L740.7,479.6 L741.1,480.7 L741.6,481.9 L742.2,483.2 L742.7,484.6 L743.2,485.9 L743.6,487.3 L743.9,488.7 L744.0,490.0 L744.0,491.3 L743.9,492.6 L743.8,493.9 L743.5,495.2 L743.2,496.5 L742.9,497.8 L742.5,499.1 L742.0,500.4 L741.5,501.7 L741.0,503.0 L740.3,504.2 L739.5,505.4 L738.5,506.5 L737.5,507.6 L736.4,508.8 L735.4,509.9 L734.5,511.1 L733.8,512.3 L733.3,513.6 L733.0,515.0 L733.0,516.5 L733.2,518.1 L733.6,519.8 L734.1,521.5 L734.7,523.3 L735.4,525.1 L736.2,526.9 L737.1,528.6 L738.1,530.4 L739.0,532.0 L740.1,533.6 L741.4,535.4 L742.8,537.1 L744.3,538.9 L745.9,540.6 L747.4,542.2 L748.8,543.7 L750.1,545.0 L751.2,546.1 L752.0,547.0" fill="none" stroke="#efefed" stroke-width="8" stroke-linecap="round" stroke-linejoin="round"/><circle cx="740.2" cy="467" r="11.3" fill="#f5b325" stroke="#8a6010" stroke-width="0.9"/><path d="M933.7,408.0 L934.4,409.0 L935.3,410.3 L936.4,411.9 L937.6,413.7 L938.9,415.6 L940.3,417.5 L941.6,419.5 L942.9,421.5 L944.0,423.3 L945.0,425.0 L945.9,426.6 L946.8,428.1 L947.6,429.6 L948.4,431.0 L949.2,432.4 L949.9,433.9 L950.4,435.3 L950.9,436.8 L951.3,438.4 L951.5,440.0 L951.6,441.7 L951.5,443.5 L951.3,445.3 L950.9,447.2 L950.5,449.1 L950.1,451.0 L949.5,452.8 L949.0,454.6 L948.5,456.4 L948.0,458.0 L947.5,459.6 L946.9,461.2 L946.2,462.8 L945.5,464.4 L944.8,465.9 L944.1,467.3 L943.4,468.6 L942.9,469.7 L942.4,470.7 L942.0,471.5" fill="none" stroke="#3d3d3d" stroke-width="9.8" stroke-linecap="round" stroke-linejoin="round"/><path d="M933.7,408.0 L934.4,409.0 L935.3,410.3 L936.4,411.9 L937.6,413.7 L938.9,415.6 L940.3,417.5 L941.6,419.5 L942.9,421.5 L944.0,423.3 L945.0,425.0 L945.9,426.6 L946.8,428.1 L947.6,429.6 L948.4,431.0 L949.2,432.4 L949.9,433.9 L950.4,435.3 L950.9,436.8 L951.3,438.4 L951.5,440.0 L951.6,441.7 L951.5,443.5 L951.3,445.3 L950.9,447.2 L950.5,449.1 L950.1,451.0 L949.5,452.8 L949.0,454.6 L948.5,456.4 L948.0,458.0 L947.5,459.6 L946.9,461.2 L946.2,462.8 L945.5,464.4 L944.8,465.9 L944.1,467.3 L943.4,468.6 L942.9,469.7 L942.4,470.7 L942.0,471.5" fill="none" stroke="#efefed" stroke-width="8" stroke-linecap="round" stroke-linejoin="round"/><circle cx="932.9" cy="396.1" r="11" fill="#f5b325" stroke="#8a6010" stroke-width="0.9"/><path d="M836.0,622.0 L836.7,622.9 L837.6,624.0 L838.7,625.3 L839.8,626.8 L841.1,628.4 L842.5,630.1 L843.9,631.7 L845.3,633.3 L846.7,634.7 L848.0,636.0 L849.4,637.1 L850.9,638.3 L852.5,639.4 L854.1,640.4 L855.8,641.4 L857.3,642.3 L858.8,643.1 L860.1,643.9 L861.2,644.5 L862.0,645.0" fill="none" stroke="#3d3d3d" stroke-width="9.3" stroke-linecap="round" stroke-linejoin="round"/><path d="M836.0,622.0 L836.7,622.9 L837.6,624.0 L838.7,625.3 L839.8,626.8 L841.1,628.4 L842.5,630.1 L843.9,631.7 L845.3,633.3 L846.7,634.7 L848.0,636.0 L849.4,637.1 L850.9,638.3 L852.5,639.4 L854.1,640.4 L855.8,641.4 L857.3,642.3 L858.8,643.1 L860.1,643.9 L861.2,644.5 L862.0,645.0" fill="none" stroke="#d2d2d2" stroke-width="7.5" stroke-linecap="round" stroke-linejoin="round"/><path d="M842.0,628.0 L843.1,628.4 L844.4,629.0 L846.0,629.7 L847.8,630.4 L849.8,631.2 L851.8,632.0 L853.9,632.7 L856.0,633.3 L858.0,633.8 L860.0,634.0 L861.9,634.0 L863.9,633.8 L865.9,633.4 L868.0,632.9 L870.0,632.4 L872.0,631.8 L874.1,631.2 L876.1,630.7 L878.1,630.3 L880.0,630.0 L882.0,629.8 L884.0,629.7 L886.1,629.7 L888.2,629.7 L890.2,629.8 L892.2,629.8 L894.0,629.9 L895.6,629.9 L896.9,630.0 L898.0,630.0" fill="none" stroke="#3d3d3d" stroke-width="9.3" stroke-linecap="round" stroke-linejoin="round"/><path d="M842.0,628.0 L843.1,628.4 L844.4,629.0 L846.0,629.7 L847.8,630.4 L849.8,631.2 L851.8,632.0 L853.9,632.7 L856.0,633.3 L858.0,633.8 L860.0,634.0 L861.9,634.0 L863.9,633.8 L865.9,633.4 L868.0,632.9 L870.0,632.4 L872.0,631.8 L874.1,631.2 L876.1,630.7 L878.1,630.3 L880.0,630.0 L882.0,629.8 L884.0,629.7 L886.1,629.7 L888.2,629.7 L890.2,629.8 L892.2,629.8 L894.0,629.9 L895.6,629.9 L896.9,630.0 L898.0,630.0" fill="none" stroke="#d2d2d2" stroke-width="7.5" stroke-linecap="round" stroke-linejoin="round"/><circle cx="863.5" cy="645" r="9.2" fill="#f5b325" stroke="#8a6010" stroke-width="0.9"/><circle cx="899.6" cy="629.6" r="9.2" fill="#f5b325" stroke="#8a6010" stroke-width="0.9"/><path d="M754.0,626.0 L753.8,627.1 L753.5,628.6 L753.1,630.4 L752.7,632.3 L752.2,634.4 L751.8,636.6 L751.5,638.8 L751.2,641.0 L751.0,643.1 L751.0,645.0 L751.1,646.8 L751.2,648.6 L751.5,650.3 L751.8,652.1 L752.1,653.8 L752.6,655.5 L753.1,657.2 L753.6,658.8 L754.3,660.4 L755.0,662.0 L755.8,663.5 L756.8,665.0 L757.9,666.4 L759.1,667.8 L760.3,669.2 L761.6,670.5 L762.8,671.9 L763.9,673.2 L765.0,674.6 L766.0,676.0 L766.9,677.5 L767.8,679.0 L768.6,680.6 L769.4,682.3 L770.2,683.9 L770.9,685.4 L771.5,686.8 L772.1,688.1 L772.6,689.2 L773.0,690.0" fill="none" stroke="#3d3d3d" stroke-width="9.3" stroke-linecap="round" stroke-linejoin="round"/><path d="M754.0,626.0 L753.8,627.1 L753.5,628.6 L753.1,630.4 L752.7,632.3 L752.2,634.4 L751.8,636.6 L751.5,638.8 L751.2,641.0 L751.0,643.1 L751.0,645.0 L751.1,646.8 L751.2,648.6 L751.5,650.3 L751.8,652.1 L752.1,653.8 L752.6,655.5 L753.1,657.2 L753.6,658.8 L754.3,660.4 L755.0,662.0 L755.8,663.5 L756.8,665.0 L757.9,666.4 L759.1,667.8 L760.3,669.2 L761.6,670.5 L762.8,671.9 L763.9,673.2 L765.0,674.6 L766.0,676.0 L766.9,677.5 L767.8,679.0 L768.6,680.6 L769.4,682.3 L770.2,683.9 L770.9,685.4 L771.5,686.8 L772.1,688.1 L772.6,689.2 L773.0,690.0" fill="none" stroke="#cdcdcd" stroke-width="7.5" stroke-linecap="round" stroke-linejoin="round"/><circle cx="773.4" cy="694.4" r="10.3" fill="#f5b325" stroke="#8a6010" stroke-width="0.9"/><line x1="722.0" y1="447.1" x2="721.5" y2="460.1" stroke="#28306a" stroke-width="4.4" stroke-linecap="round"/><line x1="722.0" y1="447.1" x2="721.5" y2="460.1" stroke="#5262a8" stroke-width="3.0" stroke-linecap="round"/><line x1="716.8" y1="446.9" x2="716.3" y2="459.9" stroke="#28306a" stroke-width="4.4" stroke-linecap="round"/><line x1="716.8" y1="446.9" x2="716.3" y2="459.9" stroke="#5262a8" stroke-width="3.0" stroke-linecap="round"/><line x1="715.6" y1="443.4" x2="707.2" y2="433.4" stroke="#28306a" stroke-width="4.4" stroke-linecap="round"/><line x1="715.6" y1="443.4" x2="707.2" y2="433.4" stroke="#5262a8" stroke-width="3.0" stroke-linecap="round"/><line x1="719.6" y1="440.0" x2="711.2" y2="430.1" stroke="#28306a" stroke-width="4.4" stroke-linecap="round"/><line x1="719.6" y1="440.0" x2="711.2" y2="430.1" stroke="#5262a8" stroke-width="3.0" stroke-linecap="round"/><line x1="722.8" y1="441.8" x2="735.7" y2="443.7" stroke="#28306a" stroke-width="4.4" stroke-linecap="round"/><line x1="722.8" y1="441.8" x2="735.7" y2="443.7" stroke="#5262a8" stroke-width="3.0" stroke-linecap="round"/><line x1="722.1" y1="447.0" x2="735.0" y2="448.8" stroke="#28306a" stroke-width="4.4" stroke-linecap="round"/><line x1="722.1" y1="447.0" x2="735.0" y2="448.8" stroke="#5262a8" stroke-width="3.0" stroke-linecap="round"/><line x1="700.9" y1="703.0" x2="708.3" y2="713.6" stroke="#28306a" stroke-width="4.4" stroke-linecap="round"/><line x1="700.9" y1="703.0" x2="708.3" y2="713.6" stroke="#5262a8" stroke-width="3.0" stroke-linecap="round"/><line x1="696.6" y1="705.9" x2="704.0" y2="716.6" stroke="#28306a" stroke-width="4.4" stroke-linecap="round"/><line x1="696.6" y1="705.9" x2="704.0" y2="716.6" stroke="#5262a8" stroke-width="3.0" stroke-linecap="round"/><line x1="694.4" y1="699.0" x2="694.4" y2="686.0" stroke="#28306a" stroke-width="4.4" stroke-linecap="round"/><line x1="694.4" y1="699.0" x2="694.4" y2="686.0" stroke="#5262a8" stroke-width="3.0" stroke-linecap="round"/><line x1="699.6" y1="699.0" x2="699.6" y2="686.0" stroke="#28306a" stroke-width="4.4" stroke-linecap="round"/><line x1="699.6" y1="699.0" x2="699.6" y2="686.0" stroke="#5262a8" stroke-width="3.0" stroke-linecap="round"/><line x1="694.0" y1="704.6" x2="681.0" y2="704.6" stroke="#28306a" stroke-width="4.4" stroke-linecap="round"/><line x1="694.0" y1="704.6" x2="681.0" y2="704.6" stroke="#5262a8" stroke-width="3.0" stroke-linecap="round"/><line x1="694.0" y1="699.4" x2="681.0" y2="699.4" stroke="#28306a" stroke-width="4.4" stroke-linecap="round"/><line x1="694.0" y1="699.4" x2="681.0" y2="699.4" stroke="#5262a8" stroke-width="3.0" stroke-linecap="round"/><line x1="784.5" y1="709.8" x2="789.4" y2="721.9" stroke="#28306a" stroke-width="4.4" stroke-linecap="round"/><line x1="784.5" y1="709.8" x2="789.4" y2="721.9" stroke="#5262a8" stroke-width="3.0" stroke-linecap="round"/><line x1="779.7" y1="711.8" x2="784.6" y2="723.8" stroke="#28306a" stroke-width="4.4" stroke-linecap="round"/><line x1="779.7" y1="711.8" x2="784.6" y2="723.8" stroke="#5262a8" stroke-width="3.0" stroke-linecap="round"/><line x1="779.9" y1="704.2" x2="785.4" y2="692.4" stroke="#28306a" stroke-width="4.4" stroke-linecap="round"/><line x1="779.9" y1="704.2" x2="785.4" y2="692.4" stroke="#5262a8" stroke-width="3.0" stroke-linecap="round"/><line x1="784.6" y1="706.4" x2="790.1" y2="694.6" stroke="#28306a" stroke-width="4.4" stroke-linecap="round"/><line x1="784.6" y1="706.4" x2="790.1" y2="694.6" stroke="#5262a8" stroke-width="3.0" stroke-linecap="round"/><line x1="777.2" y1="709.1" x2="765.4" y2="703.6" stroke="#28306a" stroke-width="4.4" stroke-linecap="round"/><line x1="777.2" y1="709.1" x2="765.4" y2="703.6" stroke="#5262a8" stroke-width="3.0" stroke-linecap="round"/><line x1="779.4" y1="704.4" x2="767.6" y2="698.9" stroke="#28306a" stroke-width="4.4" stroke-linecap="round"/><line x1="779.4" y1="704.4" x2="767.6" y2="698.9" stroke="#5262a8" stroke-width="3.0" stroke-linecap="round"/><line x1="854.3" y1="679.8" x2="849.4" y2="691.8" stroke="#28306a" stroke-width="4.4" stroke-linecap="round"/><line x1="854.3" y1="679.8" x2="849.4" y2="691.8" stroke="#5262a8" stroke-width="3.0" stroke-linecap="round"/><line x1="849.5" y1="677.8" x2="844.6" y2="689.9" stroke="#28306a" stroke-width="4.4" stroke-linecap="round"/><line x1="849.5" y1="677.8" x2="844.6" y2="689.9" stroke="#5262a8" stroke-width="3.0" stroke-linecap="round"/><line x1="849.9" y1="673.5" x2="847.7" y2="660.7" stroke="#28306a" stroke-width="4.4" stroke-linecap="round"/><line x1="849.9" y1="673.5" x2="847.7" y2="660.7" stroke="#5262a8" stroke-width="3.0" stroke-linecap="round"/><line x1="855.0" y1="672.6" x2="852.8" y2="659.8" stroke="#28306a" stroke-width="4.4" stroke-linecap="round"/><line x1="855.0" y1="672.6" x2="852.8" y2="659.8" stroke="#5262a8" stroke-width="3.0" stroke-linecap="round"/><line x1="854.6" y1="672.4" x2="866.4" y2="666.9" stroke="#28306a" stroke-width="4.4" stroke-linecap="round"/><line x1="854.6" y1="672.4" x2="866.4" y2="666.9" stroke="#5262a8" stroke-width="3.0" stroke-linecap="round"/><line x1="856.8" y1="677.1" x2="868.6" y2="671.6" stroke="#28306a" stroke-width="4.4" stroke-linecap="round"/><line x1="856.8" y1="677.1" x2="868.6" y2="671.6" stroke="#5262a8" stroke-width="3.0" stroke-linecap="round"/></svg></body></html>
